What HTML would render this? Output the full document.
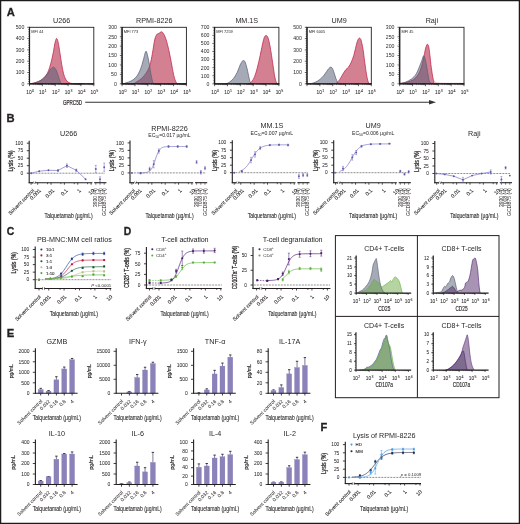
<!DOCTYPE html>
<html><head><meta charset="utf-8"><style>
html,body{margin:0;padding:0;background:#fff;width:520px;height:524px;overflow:hidden}
svg{display:block;will-change:transform}
text{font-family:"Liberation Sans",sans-serif}
</style></head><body>
<svg width="520" height="524" viewBox="0 0 520 524">
<rect x="0" y="0" width="520" height="524" fill="#fff"/>
<text transform="translate(6.7,16.4)" font-size="11.2" font-weight="bold" fill="#231f20" stroke="#231f20" stroke-width="0.3">A</text>
<path d="M29.54,83.77 C30.19,83.65 32.04,83.44 33.46,83.08 C34.88,82.71 36.63,82.19 38.08,81.58 C39.52,80.96 40.96,80.19 42.12,79.38 C43.27,78.58 44.1,77.81 45,76.73 C45.9,75.65 46.77,74.46 47.54,72.92 C48.31,71.38 48.92,69.65 49.62,67.5 C50.31,65.35 51.06,62.6 51.69,60 C52.33,57.4 52.9,54.62 53.42,51.92 C53.94,49.23 54.33,46.06 54.81,43.85 C55.29,41.63 55.83,39.23 56.31,38.65 C56.79,38.08 57.27,39.13 57.69,40.38 C58.12,41.63 58.42,43.75 58.85,46.15 C59.27,48.56 59.75,51.73 60.23,54.81 C60.71,57.88 61.19,61.54 61.73,64.62 C62.27,67.69 62.83,70.87 63.46,73.27 C64.1,75.67 64.77,77.56 65.54,79.04 C66.31,80.52 67.08,81.42 68.08,82.15 C69.08,82.88 70.38,83.15 71.54,83.42 C72.69,83.69 72.88,83.71 75,83.77 C77.12,83.83 82.69,83.77 84.23,83.77 L84.23,83.8 L29.54,83.8 Z" fill="rgba(179,38,67,0.58)" stroke="none" stroke-width="0.8"/>
<path d="M29.54,83.77 C30.19,83.65 32.04,83.44 33.46,83.08 C34.88,82.71 36.63,82.19 38.08,81.58 C39.52,80.96 40.96,80.19 42.12,79.38 C43.27,78.58 44.1,77.81 45,76.73 C45.9,75.65 46.77,74.46 47.54,72.92 C48.31,71.38 48.92,69.65 49.62,67.5 C50.31,65.35 51.06,62.6 51.69,60 C52.33,57.4 52.9,54.62 53.42,51.92 C53.94,49.23 54.33,46.06 54.81,43.85 C55.29,41.63 55.83,39.23 56.31,38.65 C56.79,38.08 57.27,39.13 57.69,40.38 C58.12,41.63 58.42,43.75 58.85,46.15 C59.27,48.56 59.75,51.73 60.23,54.81 C60.71,57.88 61.19,61.54 61.73,64.62 C62.27,67.69 62.83,70.87 63.46,73.27 C64.1,75.67 64.77,77.56 65.54,79.04 C66.31,80.52 67.08,81.42 68.08,82.15 C69.08,82.88 70.38,83.15 71.54,83.42 C72.69,83.69 72.88,83.71 75,83.77 C77.12,83.83 82.69,83.77 84.23,83.77" fill="none" stroke="#c0204a" stroke-width="0.75"/>
<path d="M29.54,83.77 C30.38,83.65 33,83.48 34.62,83.08 C36.23,82.67 37.69,82.21 39.23,81.35 C40.77,80.48 42.4,79.23 43.85,77.88 C45.29,76.54 46.83,74.62 47.88,73.27 C48.94,71.92 49.48,70.75 50.19,69.81 C50.9,68.87 51.62,68.06 52.15,67.62 C52.69,67.17 52.98,67.08 53.42,67.15 C53.87,67.23 54.29,67.44 54.81,68.08 C55.33,68.71 56.02,69.81 56.54,70.96 C57.06,72.12 57.44,73.56 57.92,75 C58.4,76.44 58.94,78.31 59.42,79.62 C59.9,80.92 60.33,82.15 60.81,82.85 C61.29,83.54 58.4,83.62 62.31,83.77 C66.21,83.92 80.58,83.77 84.23,83.77 L84.23,83.8 L29.54,83.8 Z" fill="rgba(85,95,117,0.53)" stroke="none" stroke-width="0.8"/>
<path d="M29.54,83.77 C30.38,83.65 33,83.48 34.62,83.08 C36.23,82.67 37.69,82.21 39.23,81.35 C40.77,80.48 42.4,79.23 43.85,77.88 C45.29,76.54 46.83,74.62 47.88,73.27 C48.94,71.92 49.48,70.75 50.19,69.81 C50.9,68.87 51.62,68.06 52.15,67.62 C52.69,67.17 52.98,67.08 53.42,67.15 C53.87,67.23 54.29,67.44 54.81,68.08 C55.33,68.71 56.02,69.81 56.54,70.96 C57.06,72.12 57.44,73.56 57.92,75 C58.4,76.44 58.94,78.31 59.42,79.62 C59.9,80.92 60.33,82.15 60.81,82.85 C61.29,83.54 58.4,83.62 62.31,83.77 C66.21,83.92 80.58,83.77 84.23,83.77" fill="none" stroke="#5b6178" stroke-width="0.75"/>
<rect x="29.5" y="27.3" width="64.3" height="56.5" fill="none" stroke="#231f20" stroke-width="0.9"/>
<line x1="29.5" y1="26.9" x2="29.5" y2="84.2" stroke="#231f20" stroke-width="1.2"/>
<line x1="29.1" y1="83.8" x2="94.2" y2="83.8" stroke="#231f20" stroke-width="1.2"/>
<line x1="27.3" y1="83.8" x2="29.5" y2="83.8" stroke="#231f20" stroke-width="0.7"/>
<text transform="translate(24.3,85.65)" font-size="5.2" text-anchor="end" fill="#2a2a2a">0</text>
<line x1="28.1" y1="81.54" x2="29.5" y2="81.54" stroke="#231f20" stroke-width="0.55"/>
<line x1="28.1" y1="79.28" x2="29.5" y2="79.28" stroke="#231f20" stroke-width="0.55"/>
<line x1="28.1" y1="77.02" x2="29.5" y2="77.02" stroke="#231f20" stroke-width="0.55"/>
<line x1="28.1" y1="74.76" x2="29.5" y2="74.76" stroke="#231f20" stroke-width="0.55"/>
<line x1="27.3" y1="72.5" x2="29.5" y2="72.5" stroke="#231f20" stroke-width="0.7"/>
<text transform="translate(24.3,74.35)" font-size="5.2" text-anchor="end" fill="#2a2a2a">100</text>
<line x1="28.1" y1="70.24" x2="29.5" y2="70.24" stroke="#231f20" stroke-width="0.55"/>
<line x1="28.1" y1="67.98" x2="29.5" y2="67.98" stroke="#231f20" stroke-width="0.55"/>
<line x1="28.1" y1="65.72" x2="29.5" y2="65.72" stroke="#231f20" stroke-width="0.55"/>
<line x1="28.1" y1="63.46" x2="29.5" y2="63.46" stroke="#231f20" stroke-width="0.55"/>
<line x1="27.3" y1="61.2" x2="29.5" y2="61.2" stroke="#231f20" stroke-width="0.7"/>
<text transform="translate(24.3,63.05)" font-size="5.2" text-anchor="end" fill="#2a2a2a">200</text>
<line x1="28.1" y1="58.94" x2="29.5" y2="58.94" stroke="#231f20" stroke-width="0.55"/>
<line x1="28.1" y1="56.68" x2="29.5" y2="56.68" stroke="#231f20" stroke-width="0.55"/>
<line x1="28.1" y1="54.42" x2="29.5" y2="54.42" stroke="#231f20" stroke-width="0.55"/>
<line x1="28.1" y1="52.16" x2="29.5" y2="52.16" stroke="#231f20" stroke-width="0.55"/>
<line x1="27.3" y1="49.9" x2="29.5" y2="49.9" stroke="#231f20" stroke-width="0.7"/>
<text transform="translate(24.3,51.75)" font-size="5.2" text-anchor="end" fill="#2a2a2a">300</text>
<line x1="28.1" y1="47.64" x2="29.5" y2="47.64" stroke="#231f20" stroke-width="0.55"/>
<line x1="28.1" y1="45.38" x2="29.5" y2="45.38" stroke="#231f20" stroke-width="0.55"/>
<line x1="28.1" y1="43.12" x2="29.5" y2="43.12" stroke="#231f20" stroke-width="0.55"/>
<line x1="28.1" y1="40.86" x2="29.5" y2="40.86" stroke="#231f20" stroke-width="0.55"/>
<line x1="27.3" y1="38.6" x2="29.5" y2="38.6" stroke="#231f20" stroke-width="0.7"/>
<text transform="translate(24.3,40.45)" font-size="5.2" text-anchor="end" fill="#2a2a2a">400</text>
<line x1="28.1" y1="36.34" x2="29.5" y2="36.34" stroke="#231f20" stroke-width="0.55"/>
<line x1="28.1" y1="34.08" x2="29.5" y2="34.08" stroke="#231f20" stroke-width="0.55"/>
<line x1="28.1" y1="31.82" x2="29.5" y2="31.82" stroke="#231f20" stroke-width="0.55"/>
<line x1="28.1" y1="29.56" x2="29.5" y2="29.56" stroke="#231f20" stroke-width="0.55"/>
<line x1="27.3" y1="27.3" x2="29.5" y2="27.3" stroke="#231f20" stroke-width="0.7"/>
<text transform="translate(24.3,29.15)" font-size="5.2" text-anchor="end" fill="#2a2a2a">500</text>
<line x1="29.5" y1="83.8" x2="29.5" y2="86.2" stroke="#231f20" stroke-width="0.7"/>
<line x1="33.37" y1="83.8" x2="33.37" y2="85.1" stroke="#231f20" stroke-width="0.5"/>
<line x1="35.64" y1="83.8" x2="35.64" y2="85.1" stroke="#231f20" stroke-width="0.5"/>
<line x1="37.24" y1="83.8" x2="37.24" y2="85.1" stroke="#231f20" stroke-width="0.5"/>
<line x1="38.49" y1="83.8" x2="38.49" y2="85.1" stroke="#231f20" stroke-width="0.5"/>
<line x1="39.51" y1="83.8" x2="39.51" y2="85.1" stroke="#231f20" stroke-width="0.5"/>
<line x1="40.37" y1="83.8" x2="40.37" y2="85.1" stroke="#231f20" stroke-width="0.5"/>
<line x1="41.11" y1="83.8" x2="41.11" y2="85.1" stroke="#231f20" stroke-width="0.5"/>
<line x1="41.77" y1="83.8" x2="41.77" y2="85.1" stroke="#231f20" stroke-width="0.5"/>
<text x="30.1" y="93.8" font-size="4.8" text-anchor="middle" fill="#231f20" stroke="#231f20" stroke-width="0.05">10<tspan font-size="3.55" dx="0.35" dy="-2.02">0</tspan></text>
<line x1="42.36" y1="83.8" x2="42.36" y2="86.2" stroke="#231f20" stroke-width="0.7"/>
<line x1="46.23" y1="83.8" x2="46.23" y2="85.1" stroke="#231f20" stroke-width="0.5"/>
<line x1="48.5" y1="83.8" x2="48.5" y2="85.1" stroke="#231f20" stroke-width="0.5"/>
<line x1="50.1" y1="83.8" x2="50.1" y2="85.1" stroke="#231f20" stroke-width="0.5"/>
<line x1="51.35" y1="83.8" x2="51.35" y2="85.1" stroke="#231f20" stroke-width="0.5"/>
<line x1="52.37" y1="83.8" x2="52.37" y2="85.1" stroke="#231f20" stroke-width="0.5"/>
<line x1="53.23" y1="83.8" x2="53.23" y2="85.1" stroke="#231f20" stroke-width="0.5"/>
<line x1="53.97" y1="83.8" x2="53.97" y2="85.1" stroke="#231f20" stroke-width="0.5"/>
<line x1="54.63" y1="83.8" x2="54.63" y2="85.1" stroke="#231f20" stroke-width="0.5"/>
<text x="42.96" y="93.8" font-size="4.8" text-anchor="middle" fill="#231f20" stroke="#231f20" stroke-width="0.05">10<tspan font-size="3.55" dx="0.35" dy="-2.02">1</tspan></text>
<line x1="55.22" y1="83.8" x2="55.22" y2="86.2" stroke="#231f20" stroke-width="0.7"/>
<line x1="59.09" y1="83.8" x2="59.09" y2="85.1" stroke="#231f20" stroke-width="0.5"/>
<line x1="61.36" y1="83.8" x2="61.36" y2="85.1" stroke="#231f20" stroke-width="0.5"/>
<line x1="62.96" y1="83.8" x2="62.96" y2="85.1" stroke="#231f20" stroke-width="0.5"/>
<line x1="64.21" y1="83.8" x2="64.21" y2="85.1" stroke="#231f20" stroke-width="0.5"/>
<line x1="65.23" y1="83.8" x2="65.23" y2="85.1" stroke="#231f20" stroke-width="0.5"/>
<line x1="66.09" y1="83.8" x2="66.09" y2="85.1" stroke="#231f20" stroke-width="0.5"/>
<line x1="66.83" y1="83.8" x2="66.83" y2="85.1" stroke="#231f20" stroke-width="0.5"/>
<line x1="67.49" y1="83.8" x2="67.49" y2="85.1" stroke="#231f20" stroke-width="0.5"/>
<text x="55.82" y="93.8" font-size="4.8" text-anchor="middle" fill="#231f20" stroke="#231f20" stroke-width="0.05">10<tspan font-size="3.55" dx="0.35" dy="-2.02">2</tspan></text>
<line x1="68.08" y1="83.8" x2="68.08" y2="86.2" stroke="#231f20" stroke-width="0.7"/>
<line x1="71.95" y1="83.8" x2="71.95" y2="85.1" stroke="#231f20" stroke-width="0.5"/>
<line x1="74.22" y1="83.8" x2="74.22" y2="85.1" stroke="#231f20" stroke-width="0.5"/>
<line x1="75.82" y1="83.8" x2="75.82" y2="85.1" stroke="#231f20" stroke-width="0.5"/>
<line x1="77.07" y1="83.8" x2="77.07" y2="85.1" stroke="#231f20" stroke-width="0.5"/>
<line x1="78.09" y1="83.8" x2="78.09" y2="85.1" stroke="#231f20" stroke-width="0.5"/>
<line x1="78.95" y1="83.8" x2="78.95" y2="85.1" stroke="#231f20" stroke-width="0.5"/>
<line x1="79.69" y1="83.8" x2="79.69" y2="85.1" stroke="#231f20" stroke-width="0.5"/>
<line x1="80.35" y1="83.8" x2="80.35" y2="85.1" stroke="#231f20" stroke-width="0.5"/>
<text x="68.68" y="93.8" font-size="4.8" text-anchor="middle" fill="#231f20" stroke="#231f20" stroke-width="0.05">10<tspan font-size="3.55" dx="0.35" dy="-2.02">3</tspan></text>
<line x1="80.94" y1="83.8" x2="80.94" y2="86.2" stroke="#231f20" stroke-width="0.7"/>
<line x1="84.81" y1="83.8" x2="84.81" y2="85.1" stroke="#231f20" stroke-width="0.5"/>
<line x1="87.08" y1="83.8" x2="87.08" y2="85.1" stroke="#231f20" stroke-width="0.5"/>
<line x1="88.68" y1="83.8" x2="88.68" y2="85.1" stroke="#231f20" stroke-width="0.5"/>
<line x1="89.93" y1="83.8" x2="89.93" y2="85.1" stroke="#231f20" stroke-width="0.5"/>
<line x1="90.95" y1="83.8" x2="90.95" y2="85.1" stroke="#231f20" stroke-width="0.5"/>
<line x1="91.81" y1="83.8" x2="91.81" y2="85.1" stroke="#231f20" stroke-width="0.5"/>
<line x1="92.55" y1="83.8" x2="92.55" y2="85.1" stroke="#231f20" stroke-width="0.5"/>
<line x1="93.21" y1="83.8" x2="93.21" y2="85.1" stroke="#231f20" stroke-width="0.5"/>
<text x="81.54" y="93.8" font-size="4.8" text-anchor="middle" fill="#231f20" stroke="#231f20" stroke-width="0.05">10<tspan font-size="3.55" dx="0.35" dy="-2.02">4</tspan></text>
<line x1="93.8" y1="83.8" x2="93.8" y2="86.2" stroke="#231f20" stroke-width="0.7"/>
<text x="94.4" y="93.8" font-size="4.8" text-anchor="middle" fill="#231f20" stroke="#231f20" stroke-width="0.05">10<tspan font-size="3.55" dx="0.35" dy="-2.02">5</tspan></text>
<text transform="translate(61.65,22.9)" font-size="7.2" text-anchor="middle" fill="#231f20">U266</text>
<text transform="translate(31.2,33.3)" font-size="3.9" fill="#231f20">MFI 44</text>
<path d="M122.5,84.08 C124.23,84.02 130.52,84.11 132.88,83.73 C135.25,83.36 135.25,82.69 136.69,81.83 C138.13,80.96 139.92,80.07 141.54,78.54 C143.15,77.01 145,74.85 146.38,72.65 C147.77,70.46 148.84,68.62 149.85,65.38 C150.86,62.15 151.63,57.54 152.44,53.27 C153.25,49 153.97,42.88 154.69,39.77 C155.41,36.65 156.02,35.67 156.77,34.58 C157.52,33.48 158.44,33.65 159.19,33.19 C159.94,32.73 160.66,31.89 161.27,31.81 C161.88,31.72 162.28,32.04 162.83,32.67 C163.38,33.31 163.89,34.06 164.56,35.62 C165.22,37.17 166.03,39.28 166.81,42.02 C167.59,44.76 168.48,48.65 169.23,52.06 C169.98,55.46 170.59,58.72 171.31,62.44 C172.03,66.16 172.84,71.24 173.56,74.38 C174.28,77.53 174.97,79.78 175.63,81.31 C176.3,82.84 176.59,83.1 177.54,83.56 C178.49,84.02 179.9,83.99 181.35,84.08 C182.79,84.16 185.38,84.08 186.19,84.08 L186.19,83.8 L122.5,83.8 Z" fill="rgba(179,38,67,0.58)" stroke="none" stroke-width="0.8"/>
<path d="M122.5,84.08 C124.23,84.02 130.52,84.11 132.88,83.73 C135.25,83.36 135.25,82.69 136.69,81.83 C138.13,80.96 139.92,80.07 141.54,78.54 C143.15,77.01 145,74.85 146.38,72.65 C147.77,70.46 148.84,68.62 149.85,65.38 C150.86,62.15 151.63,57.54 152.44,53.27 C153.25,49 153.97,42.88 154.69,39.77 C155.41,36.65 156.02,35.67 156.77,34.58 C157.52,33.48 158.44,33.65 159.19,33.19 C159.94,32.73 160.66,31.89 161.27,31.81 C161.88,31.72 162.28,32.04 162.83,32.67 C163.38,33.31 163.89,34.06 164.56,35.62 C165.22,37.17 166.03,39.28 166.81,42.02 C167.59,44.76 168.48,48.65 169.23,52.06 C169.98,55.46 170.59,58.72 171.31,62.44 C172.03,66.16 172.84,71.24 173.56,74.38 C174.28,77.53 174.97,79.78 175.63,81.31 C176.3,82.84 176.59,83.1 177.54,83.56 C178.49,84.02 179.9,83.99 181.35,84.08 C182.79,84.16 185.38,84.08 186.19,84.08" fill="none" stroke="#c0204a" stroke-width="0.75"/>
<path d="M122.5,84.08 C123.08,83.88 124.52,83.38 125.96,82.87 C127.4,82.35 129.42,81.97 131.15,80.96 C132.88,79.95 134.79,78.77 136.35,76.81 C137.9,74.85 139.35,71.96 140.5,69.19 C141.65,66.42 142.55,62.7 143.27,60.19 C143.99,57.68 144.37,55.63 144.83,54.13 C145.29,52.63 145.63,51.16 146.04,51.19 C146.44,51.22 146.76,52.46 147.25,54.31 C147.74,56.15 148.4,59.21 148.98,62.27 C149.56,65.33 150.19,69.77 150.71,72.65 C151.23,75.54 151.63,77.76 152.1,79.58 C152.56,81.39 152.79,82.81 153.48,83.56 C154.17,84.31 150.8,83.99 156.25,84.08 C161.7,84.16 181.2,84.08 186.19,84.08 L186.19,83.8 L122.5,83.8 Z" fill="rgba(85,95,117,0.53)" stroke="none" stroke-width="0.8"/>
<path d="M122.5,84.08 C123.08,83.88 124.52,83.38 125.96,82.87 C127.4,82.35 129.42,81.97 131.15,80.96 C132.88,79.95 134.79,78.77 136.35,76.81 C137.9,74.85 139.35,71.96 140.5,69.19 C141.65,66.42 142.55,62.7 143.27,60.19 C143.99,57.68 144.37,55.63 144.83,54.13 C145.29,52.63 145.63,51.16 146.04,51.19 C146.44,51.22 146.76,52.46 147.25,54.31 C147.74,56.15 148.4,59.21 148.98,62.27 C149.56,65.33 150.19,69.77 150.71,72.65 C151.23,75.54 151.63,77.76 152.1,79.58 C152.56,81.39 152.79,82.81 153.48,83.56 C154.17,84.31 150.8,83.99 156.25,84.08 C161.7,84.16 181.2,84.08 186.19,84.08" fill="none" stroke="#5b6178" stroke-width="0.75"/>
<rect x="122.1" y="27.3" width="64.3" height="56.5" fill="none" stroke="#231f20" stroke-width="0.9"/>
<line x1="122.1" y1="26.9" x2="122.1" y2="84.2" stroke="#231f20" stroke-width="1.2"/>
<line x1="121.7" y1="83.8" x2="186.8" y2="83.8" stroke="#231f20" stroke-width="1.2"/>
<line x1="119.9" y1="83.8" x2="122.1" y2="83.8" stroke="#231f20" stroke-width="0.7"/>
<text transform="translate(116.9,85.65)" font-size="5.2" text-anchor="end" fill="#2a2a2a">0</text>
<line x1="120.7" y1="81.92" x2="122.1" y2="81.92" stroke="#231f20" stroke-width="0.55"/>
<line x1="120.7" y1="80.03" x2="122.1" y2="80.03" stroke="#231f20" stroke-width="0.55"/>
<line x1="120.7" y1="78.15" x2="122.1" y2="78.15" stroke="#231f20" stroke-width="0.55"/>
<line x1="120.7" y1="76.27" x2="122.1" y2="76.27" stroke="#231f20" stroke-width="0.55"/>
<line x1="119.9" y1="74.38" x2="122.1" y2="74.38" stroke="#231f20" stroke-width="0.7"/>
<text transform="translate(116.9,76.23)" font-size="5.2" text-anchor="end" fill="#2a2a2a">50</text>
<line x1="120.7" y1="72.5" x2="122.1" y2="72.5" stroke="#231f20" stroke-width="0.55"/>
<line x1="120.7" y1="70.62" x2="122.1" y2="70.62" stroke="#231f20" stroke-width="0.55"/>
<line x1="120.7" y1="68.73" x2="122.1" y2="68.73" stroke="#231f20" stroke-width="0.55"/>
<line x1="120.7" y1="66.85" x2="122.1" y2="66.85" stroke="#231f20" stroke-width="0.55"/>
<line x1="119.9" y1="64.97" x2="122.1" y2="64.97" stroke="#231f20" stroke-width="0.7"/>
<text transform="translate(116.9,66.82)" font-size="5.2" text-anchor="end" fill="#2a2a2a">100</text>
<line x1="120.7" y1="63.08" x2="122.1" y2="63.08" stroke="#231f20" stroke-width="0.55"/>
<line x1="120.7" y1="61.2" x2="122.1" y2="61.2" stroke="#231f20" stroke-width="0.55"/>
<line x1="120.7" y1="59.32" x2="122.1" y2="59.32" stroke="#231f20" stroke-width="0.55"/>
<line x1="120.7" y1="57.43" x2="122.1" y2="57.43" stroke="#231f20" stroke-width="0.55"/>
<line x1="119.9" y1="55.55" x2="122.1" y2="55.55" stroke="#231f20" stroke-width="0.7"/>
<text transform="translate(116.9,57.4)" font-size="5.2" text-anchor="end" fill="#2a2a2a">150</text>
<line x1="120.7" y1="53.67" x2="122.1" y2="53.67" stroke="#231f20" stroke-width="0.55"/>
<line x1="120.7" y1="51.78" x2="122.1" y2="51.78" stroke="#231f20" stroke-width="0.55"/>
<line x1="120.7" y1="49.9" x2="122.1" y2="49.9" stroke="#231f20" stroke-width="0.55"/>
<line x1="120.7" y1="48.02" x2="122.1" y2="48.02" stroke="#231f20" stroke-width="0.55"/>
<line x1="119.9" y1="46.13" x2="122.1" y2="46.13" stroke="#231f20" stroke-width="0.7"/>
<text transform="translate(116.9,47.98)" font-size="5.2" text-anchor="end" fill="#2a2a2a">200</text>
<line x1="120.7" y1="44.25" x2="122.1" y2="44.25" stroke="#231f20" stroke-width="0.55"/>
<line x1="120.7" y1="42.37" x2="122.1" y2="42.37" stroke="#231f20" stroke-width="0.55"/>
<line x1="120.7" y1="40.48" x2="122.1" y2="40.48" stroke="#231f20" stroke-width="0.55"/>
<line x1="120.7" y1="38.6" x2="122.1" y2="38.6" stroke="#231f20" stroke-width="0.55"/>
<line x1="119.9" y1="36.72" x2="122.1" y2="36.72" stroke="#231f20" stroke-width="0.7"/>
<text transform="translate(116.9,38.57)" font-size="5.2" text-anchor="end" fill="#2a2a2a">250</text>
<line x1="120.7" y1="34.83" x2="122.1" y2="34.83" stroke="#231f20" stroke-width="0.55"/>
<line x1="120.7" y1="32.95" x2="122.1" y2="32.95" stroke="#231f20" stroke-width="0.55"/>
<line x1="120.7" y1="31.07" x2="122.1" y2="31.07" stroke="#231f20" stroke-width="0.55"/>
<line x1="120.7" y1="29.18" x2="122.1" y2="29.18" stroke="#231f20" stroke-width="0.55"/>
<line x1="119.9" y1="27.3" x2="122.1" y2="27.3" stroke="#231f20" stroke-width="0.7"/>
<text transform="translate(116.9,29.15)" font-size="5.2" text-anchor="end" fill="#2a2a2a">300</text>
<line x1="122.1" y1="83.8" x2="122.1" y2="86.2" stroke="#231f20" stroke-width="0.7"/>
<line x1="125.97" y1="83.8" x2="125.97" y2="85.1" stroke="#231f20" stroke-width="0.5"/>
<line x1="128.24" y1="83.8" x2="128.24" y2="85.1" stroke="#231f20" stroke-width="0.5"/>
<line x1="129.84" y1="83.8" x2="129.84" y2="85.1" stroke="#231f20" stroke-width="0.5"/>
<line x1="131.09" y1="83.8" x2="131.09" y2="85.1" stroke="#231f20" stroke-width="0.5"/>
<line x1="132.11" y1="83.8" x2="132.11" y2="85.1" stroke="#231f20" stroke-width="0.5"/>
<line x1="132.97" y1="83.8" x2="132.97" y2="85.1" stroke="#231f20" stroke-width="0.5"/>
<line x1="133.71" y1="83.8" x2="133.71" y2="85.1" stroke="#231f20" stroke-width="0.5"/>
<line x1="134.37" y1="83.8" x2="134.37" y2="85.1" stroke="#231f20" stroke-width="0.5"/>
<text x="122.7" y="93.8" font-size="4.8" text-anchor="middle" fill="#231f20" stroke="#231f20" stroke-width="0.05">10<tspan font-size="3.55" dx="0.35" dy="-2.02">0</tspan></text>
<line x1="134.96" y1="83.8" x2="134.96" y2="86.2" stroke="#231f20" stroke-width="0.7"/>
<line x1="138.83" y1="83.8" x2="138.83" y2="85.1" stroke="#231f20" stroke-width="0.5"/>
<line x1="141.1" y1="83.8" x2="141.1" y2="85.1" stroke="#231f20" stroke-width="0.5"/>
<line x1="142.7" y1="83.8" x2="142.7" y2="85.1" stroke="#231f20" stroke-width="0.5"/>
<line x1="143.95" y1="83.8" x2="143.95" y2="85.1" stroke="#231f20" stroke-width="0.5"/>
<line x1="144.97" y1="83.8" x2="144.97" y2="85.1" stroke="#231f20" stroke-width="0.5"/>
<line x1="145.83" y1="83.8" x2="145.83" y2="85.1" stroke="#231f20" stroke-width="0.5"/>
<line x1="146.57" y1="83.8" x2="146.57" y2="85.1" stroke="#231f20" stroke-width="0.5"/>
<line x1="147.23" y1="83.8" x2="147.23" y2="85.1" stroke="#231f20" stroke-width="0.5"/>
<text x="135.56" y="93.8" font-size="4.8" text-anchor="middle" fill="#231f20" stroke="#231f20" stroke-width="0.05">10<tspan font-size="3.55" dx="0.35" dy="-2.02">1</tspan></text>
<line x1="147.82" y1="83.8" x2="147.82" y2="86.2" stroke="#231f20" stroke-width="0.7"/>
<line x1="151.69" y1="83.8" x2="151.69" y2="85.1" stroke="#231f20" stroke-width="0.5"/>
<line x1="153.96" y1="83.8" x2="153.96" y2="85.1" stroke="#231f20" stroke-width="0.5"/>
<line x1="155.56" y1="83.8" x2="155.56" y2="85.1" stroke="#231f20" stroke-width="0.5"/>
<line x1="156.81" y1="83.8" x2="156.81" y2="85.1" stroke="#231f20" stroke-width="0.5"/>
<line x1="157.83" y1="83.8" x2="157.83" y2="85.1" stroke="#231f20" stroke-width="0.5"/>
<line x1="158.69" y1="83.8" x2="158.69" y2="85.1" stroke="#231f20" stroke-width="0.5"/>
<line x1="159.43" y1="83.8" x2="159.43" y2="85.1" stroke="#231f20" stroke-width="0.5"/>
<line x1="160.09" y1="83.8" x2="160.09" y2="85.1" stroke="#231f20" stroke-width="0.5"/>
<text x="148.42" y="93.8" font-size="4.8" text-anchor="middle" fill="#231f20" stroke="#231f20" stroke-width="0.05">10<tspan font-size="3.55" dx="0.35" dy="-2.02">2</tspan></text>
<line x1="160.68" y1="83.8" x2="160.68" y2="86.2" stroke="#231f20" stroke-width="0.7"/>
<line x1="164.55" y1="83.8" x2="164.55" y2="85.1" stroke="#231f20" stroke-width="0.5"/>
<line x1="166.82" y1="83.8" x2="166.82" y2="85.1" stroke="#231f20" stroke-width="0.5"/>
<line x1="168.42" y1="83.8" x2="168.42" y2="85.1" stroke="#231f20" stroke-width="0.5"/>
<line x1="169.67" y1="83.8" x2="169.67" y2="85.1" stroke="#231f20" stroke-width="0.5"/>
<line x1="170.69" y1="83.8" x2="170.69" y2="85.1" stroke="#231f20" stroke-width="0.5"/>
<line x1="171.55" y1="83.8" x2="171.55" y2="85.1" stroke="#231f20" stroke-width="0.5"/>
<line x1="172.29" y1="83.8" x2="172.29" y2="85.1" stroke="#231f20" stroke-width="0.5"/>
<line x1="172.95" y1="83.8" x2="172.95" y2="85.1" stroke="#231f20" stroke-width="0.5"/>
<text x="161.28" y="93.8" font-size="4.8" text-anchor="middle" fill="#231f20" stroke="#231f20" stroke-width="0.05">10<tspan font-size="3.55" dx="0.35" dy="-2.02">3</tspan></text>
<line x1="173.54" y1="83.8" x2="173.54" y2="86.2" stroke="#231f20" stroke-width="0.7"/>
<line x1="177.41" y1="83.8" x2="177.41" y2="85.1" stroke="#231f20" stroke-width="0.5"/>
<line x1="179.68" y1="83.8" x2="179.68" y2="85.1" stroke="#231f20" stroke-width="0.5"/>
<line x1="181.28" y1="83.8" x2="181.28" y2="85.1" stroke="#231f20" stroke-width="0.5"/>
<line x1="182.53" y1="83.8" x2="182.53" y2="85.1" stroke="#231f20" stroke-width="0.5"/>
<line x1="183.55" y1="83.8" x2="183.55" y2="85.1" stroke="#231f20" stroke-width="0.5"/>
<line x1="184.41" y1="83.8" x2="184.41" y2="85.1" stroke="#231f20" stroke-width="0.5"/>
<line x1="185.15" y1="83.8" x2="185.15" y2="85.1" stroke="#231f20" stroke-width="0.5"/>
<line x1="185.81" y1="83.8" x2="185.81" y2="85.1" stroke="#231f20" stroke-width="0.5"/>
<text x="174.14" y="93.8" font-size="4.8" text-anchor="middle" fill="#231f20" stroke="#231f20" stroke-width="0.05">10<tspan font-size="3.55" dx="0.35" dy="-2.02">4</tspan></text>
<line x1="186.4" y1="83.8" x2="186.4" y2="86.2" stroke="#231f20" stroke-width="0.7"/>
<text x="187" y="93.8" font-size="4.8" text-anchor="middle" fill="#231f20" stroke="#231f20" stroke-width="0.05">10<tspan font-size="3.55" dx="0.35" dy="-2.02">5</tspan></text>
<text transform="translate(154.25,22.9)" font-size="7.2" text-anchor="middle" fill="#231f20">RPMI-8226</text>
<text transform="translate(123.8,33.3)" font-size="3.9" fill="#231f20">MFI 773</text>
<path d="M247.12,84.08 C247.46,84.02 248.44,84.13 249.19,83.73 C249.94,83.33 250.72,82.84 251.62,81.65 C252.51,80.47 253.58,79.06 254.56,76.63 C255.54,74.21 256.58,70.58 257.5,67.12 C258.42,63.65 259.29,59.56 260.1,55.87 C260.9,52.17 261.68,47.93 262.35,44.96 C263.01,41.99 263.5,39.62 264.08,38.04 C264.65,36.45 265.23,35.64 265.81,35.44 C266.38,35.24 266.96,35.67 267.54,36.83 C268.12,37.98 268.69,39.83 269.27,42.37 C269.85,44.9 270.37,48.16 271,52.06 C271.63,55.95 272.44,61.58 273.08,65.73 C273.71,69.88 274.23,74.15 274.81,76.98 C275.38,79.81 275.96,81.51 276.54,82.69 C277.12,83.88 277.84,83.85 278.27,84.08 C278.7,84.31 278.99,84.08 279.13,84.08 L279.13,83.8 L247.12,83.8 Z" fill="rgba(179,38,67,0.58)" stroke="none" stroke-width="0.8"/>
<path d="M247.12,84.08 C247.46,84.02 248.44,84.13 249.19,83.73 C249.94,83.33 250.72,82.84 251.62,81.65 C252.51,80.47 253.58,79.06 254.56,76.63 C255.54,74.21 256.58,70.58 257.5,67.12 C258.42,63.65 259.29,59.56 260.1,55.87 C260.9,52.17 261.68,47.93 262.35,44.96 C263.01,41.99 263.5,39.62 264.08,38.04 C264.65,36.45 265.23,35.64 265.81,35.44 C266.38,35.24 266.96,35.67 267.54,36.83 C268.12,37.98 268.69,39.83 269.27,42.37 C269.85,44.9 270.37,48.16 271,52.06 C271.63,55.95 272.44,61.58 273.08,65.73 C273.71,69.88 274.23,74.15 274.81,76.98 C275.38,79.81 275.96,81.51 276.54,82.69 C277.12,83.88 277.84,83.85 278.27,84.08 C278.7,84.31 278.99,84.08 279.13,84.08" fill="none" stroke="#c0204a" stroke-width="0.75"/>
<path d="M214.58,84.08 C216.25,84.02 222.22,83.99 224.62,83.73 C227.01,83.47 227.5,83.36 228.94,82.52 C230.38,81.68 231.91,80.36 233.27,78.71 C234.62,77.07 235.92,74.96 237.08,72.65 C238.23,70.35 239.33,66.77 240.19,64.87 C241.06,62.96 241.69,61.95 242.27,61.23 C242.85,60.51 243.19,60.42 243.65,60.54 C244.12,60.65 244.52,60.77 245.04,61.92 C245.56,63.08 246.19,65.24 246.77,67.46 C247.35,69.68 247.98,72.94 248.5,75.25 C249.02,77.56 249.37,79.87 249.88,81.31 C250.4,82.75 250.92,83.44 251.62,83.9 C252.31,84.37 253.63,84.05 254.04,84.08 L254.04,83.8 L214.58,83.8 Z" fill="rgba(85,95,117,0.53)" stroke="none" stroke-width="0.8"/>
<path d="M214.58,84.08 C216.25,84.02 222.22,83.99 224.62,83.73 C227.01,83.47 227.5,83.36 228.94,82.52 C230.38,81.68 231.91,80.36 233.27,78.71 C234.62,77.07 235.92,74.96 237.08,72.65 C238.23,70.35 239.33,66.77 240.19,64.87 C241.06,62.96 241.69,61.95 242.27,61.23 C242.85,60.51 243.19,60.42 243.65,60.54 C244.12,60.65 244.52,60.77 245.04,61.92 C245.56,63.08 246.19,65.24 246.77,67.46 C247.35,69.68 247.98,72.94 248.5,75.25 C249.02,77.56 249.37,79.87 249.88,81.31 C250.4,82.75 250.92,83.44 251.62,83.9 C252.31,84.37 253.63,84.05 254.04,84.08" fill="none" stroke="#5b6178" stroke-width="0.75"/>
<rect x="214.6" y="27.3" width="64.3" height="56.5" fill="none" stroke="#231f20" stroke-width="0.9"/>
<line x1="214.6" y1="26.9" x2="214.6" y2="84.2" stroke="#231f20" stroke-width="1.2"/>
<line x1="214.2" y1="83.8" x2="279.3" y2="83.8" stroke="#231f20" stroke-width="1.2"/>
<line x1="212.4" y1="83.8" x2="214.6" y2="83.8" stroke="#231f20" stroke-width="0.7"/>
<text transform="translate(209.4,85.65)" font-size="5.2" text-anchor="end" fill="#2a2a2a">0</text>
<line x1="213.2" y1="82.19" x2="214.6" y2="82.19" stroke="#231f20" stroke-width="0.55"/>
<line x1="213.2" y1="80.57" x2="214.6" y2="80.57" stroke="#231f20" stroke-width="0.55"/>
<line x1="213.2" y1="78.96" x2="214.6" y2="78.96" stroke="#231f20" stroke-width="0.55"/>
<line x1="213.2" y1="77.34" x2="214.6" y2="77.34" stroke="#231f20" stroke-width="0.55"/>
<line x1="212.4" y1="75.73" x2="214.6" y2="75.73" stroke="#231f20" stroke-width="0.7"/>
<text transform="translate(209.4,77.58)" font-size="5.2" text-anchor="end" fill="#2a2a2a">100</text>
<line x1="213.2" y1="74.11" x2="214.6" y2="74.11" stroke="#231f20" stroke-width="0.55"/>
<line x1="213.2" y1="72.5" x2="214.6" y2="72.5" stroke="#231f20" stroke-width="0.55"/>
<line x1="213.2" y1="70.89" x2="214.6" y2="70.89" stroke="#231f20" stroke-width="0.55"/>
<line x1="213.2" y1="69.27" x2="214.6" y2="69.27" stroke="#231f20" stroke-width="0.55"/>
<line x1="212.4" y1="67.66" x2="214.6" y2="67.66" stroke="#231f20" stroke-width="0.7"/>
<text transform="translate(209.4,69.51)" font-size="5.2" text-anchor="end" fill="#2a2a2a">200</text>
<line x1="213.2" y1="66.04" x2="214.6" y2="66.04" stroke="#231f20" stroke-width="0.55"/>
<line x1="213.2" y1="64.43" x2="214.6" y2="64.43" stroke="#231f20" stroke-width="0.55"/>
<line x1="213.2" y1="62.81" x2="214.6" y2="62.81" stroke="#231f20" stroke-width="0.55"/>
<line x1="213.2" y1="61.2" x2="214.6" y2="61.2" stroke="#231f20" stroke-width="0.55"/>
<line x1="212.4" y1="59.59" x2="214.6" y2="59.59" stroke="#231f20" stroke-width="0.7"/>
<text transform="translate(209.4,61.44)" font-size="5.2" text-anchor="end" fill="#2a2a2a">300</text>
<line x1="213.2" y1="57.97" x2="214.6" y2="57.97" stroke="#231f20" stroke-width="0.55"/>
<line x1="213.2" y1="56.36" x2="214.6" y2="56.36" stroke="#231f20" stroke-width="0.55"/>
<line x1="213.2" y1="54.74" x2="214.6" y2="54.74" stroke="#231f20" stroke-width="0.55"/>
<line x1="213.2" y1="53.13" x2="214.6" y2="53.13" stroke="#231f20" stroke-width="0.55"/>
<line x1="212.4" y1="51.51" x2="214.6" y2="51.51" stroke="#231f20" stroke-width="0.7"/>
<text transform="translate(209.4,53.36)" font-size="5.2" text-anchor="end" fill="#2a2a2a">400</text>
<line x1="213.2" y1="49.9" x2="214.6" y2="49.9" stroke="#231f20" stroke-width="0.55"/>
<line x1="213.2" y1="48.29" x2="214.6" y2="48.29" stroke="#231f20" stroke-width="0.55"/>
<line x1="213.2" y1="46.67" x2="214.6" y2="46.67" stroke="#231f20" stroke-width="0.55"/>
<line x1="213.2" y1="45.06" x2="214.6" y2="45.06" stroke="#231f20" stroke-width="0.55"/>
<line x1="212.4" y1="43.44" x2="214.6" y2="43.44" stroke="#231f20" stroke-width="0.7"/>
<text transform="translate(209.4,45.29)" font-size="5.2" text-anchor="end" fill="#2a2a2a">500</text>
<line x1="213.2" y1="41.83" x2="214.6" y2="41.83" stroke="#231f20" stroke-width="0.55"/>
<line x1="213.2" y1="40.21" x2="214.6" y2="40.21" stroke="#231f20" stroke-width="0.55"/>
<line x1="213.2" y1="38.6" x2="214.6" y2="38.6" stroke="#231f20" stroke-width="0.55"/>
<line x1="213.2" y1="36.99" x2="214.6" y2="36.99" stroke="#231f20" stroke-width="0.55"/>
<line x1="212.4" y1="35.37" x2="214.6" y2="35.37" stroke="#231f20" stroke-width="0.7"/>
<text transform="translate(209.4,37.22)" font-size="5.2" text-anchor="end" fill="#2a2a2a">600</text>
<line x1="213.2" y1="33.76" x2="214.6" y2="33.76" stroke="#231f20" stroke-width="0.55"/>
<line x1="213.2" y1="32.14" x2="214.6" y2="32.14" stroke="#231f20" stroke-width="0.55"/>
<line x1="213.2" y1="30.53" x2="214.6" y2="30.53" stroke="#231f20" stroke-width="0.55"/>
<line x1="213.2" y1="28.91" x2="214.6" y2="28.91" stroke="#231f20" stroke-width="0.55"/>
<line x1="212.4" y1="27.3" x2="214.6" y2="27.3" stroke="#231f20" stroke-width="0.7"/>
<text transform="translate(209.4,29.15)" font-size="5.2" text-anchor="end" fill="#2a2a2a">700</text>
<line x1="214.6" y1="83.8" x2="214.6" y2="86.2" stroke="#231f20" stroke-width="0.7"/>
<line x1="218.47" y1="83.8" x2="218.47" y2="85.1" stroke="#231f20" stroke-width="0.5"/>
<line x1="220.74" y1="83.8" x2="220.74" y2="85.1" stroke="#231f20" stroke-width="0.5"/>
<line x1="222.34" y1="83.8" x2="222.34" y2="85.1" stroke="#231f20" stroke-width="0.5"/>
<line x1="223.59" y1="83.8" x2="223.59" y2="85.1" stroke="#231f20" stroke-width="0.5"/>
<line x1="224.61" y1="83.8" x2="224.61" y2="85.1" stroke="#231f20" stroke-width="0.5"/>
<line x1="225.47" y1="83.8" x2="225.47" y2="85.1" stroke="#231f20" stroke-width="0.5"/>
<line x1="226.21" y1="83.8" x2="226.21" y2="85.1" stroke="#231f20" stroke-width="0.5"/>
<line x1="226.87" y1="83.8" x2="226.87" y2="85.1" stroke="#231f20" stroke-width="0.5"/>
<text x="215.2" y="93.8" font-size="4.8" text-anchor="middle" fill="#231f20" stroke="#231f20" stroke-width="0.05">10<tspan font-size="3.55" dx="0.35" dy="-2.02">0</tspan></text>
<line x1="227.46" y1="83.8" x2="227.46" y2="86.2" stroke="#231f20" stroke-width="0.7"/>
<line x1="231.33" y1="83.8" x2="231.33" y2="85.1" stroke="#231f20" stroke-width="0.5"/>
<line x1="233.6" y1="83.8" x2="233.6" y2="85.1" stroke="#231f20" stroke-width="0.5"/>
<line x1="235.2" y1="83.8" x2="235.2" y2="85.1" stroke="#231f20" stroke-width="0.5"/>
<line x1="236.45" y1="83.8" x2="236.45" y2="85.1" stroke="#231f20" stroke-width="0.5"/>
<line x1="237.47" y1="83.8" x2="237.47" y2="85.1" stroke="#231f20" stroke-width="0.5"/>
<line x1="238.33" y1="83.8" x2="238.33" y2="85.1" stroke="#231f20" stroke-width="0.5"/>
<line x1="239.07" y1="83.8" x2="239.07" y2="85.1" stroke="#231f20" stroke-width="0.5"/>
<line x1="239.73" y1="83.8" x2="239.73" y2="85.1" stroke="#231f20" stroke-width="0.5"/>
<text x="228.06" y="93.8" font-size="4.8" text-anchor="middle" fill="#231f20" stroke="#231f20" stroke-width="0.05">10<tspan font-size="3.55" dx="0.35" dy="-2.02">1</tspan></text>
<line x1="240.32" y1="83.8" x2="240.32" y2="86.2" stroke="#231f20" stroke-width="0.7"/>
<line x1="244.19" y1="83.8" x2="244.19" y2="85.1" stroke="#231f20" stroke-width="0.5"/>
<line x1="246.46" y1="83.8" x2="246.46" y2="85.1" stroke="#231f20" stroke-width="0.5"/>
<line x1="248.06" y1="83.8" x2="248.06" y2="85.1" stroke="#231f20" stroke-width="0.5"/>
<line x1="249.31" y1="83.8" x2="249.31" y2="85.1" stroke="#231f20" stroke-width="0.5"/>
<line x1="250.33" y1="83.8" x2="250.33" y2="85.1" stroke="#231f20" stroke-width="0.5"/>
<line x1="251.19" y1="83.8" x2="251.19" y2="85.1" stroke="#231f20" stroke-width="0.5"/>
<line x1="251.93" y1="83.8" x2="251.93" y2="85.1" stroke="#231f20" stroke-width="0.5"/>
<line x1="252.59" y1="83.8" x2="252.59" y2="85.1" stroke="#231f20" stroke-width="0.5"/>
<text x="240.92" y="93.8" font-size="4.8" text-anchor="middle" fill="#231f20" stroke="#231f20" stroke-width="0.05">10<tspan font-size="3.55" dx="0.35" dy="-2.02">2</tspan></text>
<line x1="253.18" y1="83.8" x2="253.18" y2="86.2" stroke="#231f20" stroke-width="0.7"/>
<line x1="257.05" y1="83.8" x2="257.05" y2="85.1" stroke="#231f20" stroke-width="0.5"/>
<line x1="259.32" y1="83.8" x2="259.32" y2="85.1" stroke="#231f20" stroke-width="0.5"/>
<line x1="260.92" y1="83.8" x2="260.92" y2="85.1" stroke="#231f20" stroke-width="0.5"/>
<line x1="262.17" y1="83.8" x2="262.17" y2="85.1" stroke="#231f20" stroke-width="0.5"/>
<line x1="263.19" y1="83.8" x2="263.19" y2="85.1" stroke="#231f20" stroke-width="0.5"/>
<line x1="264.05" y1="83.8" x2="264.05" y2="85.1" stroke="#231f20" stroke-width="0.5"/>
<line x1="264.79" y1="83.8" x2="264.79" y2="85.1" stroke="#231f20" stroke-width="0.5"/>
<line x1="265.45" y1="83.8" x2="265.45" y2="85.1" stroke="#231f20" stroke-width="0.5"/>
<text x="253.78" y="93.8" font-size="4.8" text-anchor="middle" fill="#231f20" stroke="#231f20" stroke-width="0.05">10<tspan font-size="3.55" dx="0.35" dy="-2.02">3</tspan></text>
<line x1="266.04" y1="83.8" x2="266.04" y2="86.2" stroke="#231f20" stroke-width="0.7"/>
<line x1="269.91" y1="83.8" x2="269.91" y2="85.1" stroke="#231f20" stroke-width="0.5"/>
<line x1="272.18" y1="83.8" x2="272.18" y2="85.1" stroke="#231f20" stroke-width="0.5"/>
<line x1="273.78" y1="83.8" x2="273.78" y2="85.1" stroke="#231f20" stroke-width="0.5"/>
<line x1="275.03" y1="83.8" x2="275.03" y2="85.1" stroke="#231f20" stroke-width="0.5"/>
<line x1="276.05" y1="83.8" x2="276.05" y2="85.1" stroke="#231f20" stroke-width="0.5"/>
<line x1="276.91" y1="83.8" x2="276.91" y2="85.1" stroke="#231f20" stroke-width="0.5"/>
<line x1="277.65" y1="83.8" x2="277.65" y2="85.1" stroke="#231f20" stroke-width="0.5"/>
<line x1="278.31" y1="83.8" x2="278.31" y2="85.1" stroke="#231f20" stroke-width="0.5"/>
<text x="266.64" y="93.8" font-size="4.8" text-anchor="middle" fill="#231f20" stroke="#231f20" stroke-width="0.05">10<tspan font-size="3.55" dx="0.35" dy="-2.02">4</tspan></text>
<line x1="278.9" y1="83.8" x2="278.9" y2="86.2" stroke="#231f20" stroke-width="0.7"/>
<text x="279.5" y="93.8" font-size="4.8" text-anchor="middle" fill="#231f20" stroke="#231f20" stroke-width="0.05">10<tspan font-size="3.55" dx="0.35" dy="-2.02">5</tspan></text>
<text transform="translate(246.75,22.9)" font-size="7.2" text-anchor="middle" fill="#231f20">MM.1S</text>
<text transform="translate(216.3,33.3)" font-size="3.9" fill="#231f20">MFI 7259</text>
<path d="M333.85,84.08 C334.19,83.96 335.17,83.82 335.92,83.38 C336.67,82.95 337.51,82.46 338.35,81.48 C339.18,80.5 340.08,78.91 340.94,77.5 C341.81,76.09 342.7,74.33 343.54,73 C344.38,71.67 345.12,70.52 345.96,69.54 C346.8,68.56 347.69,68.3 348.56,67.12 C349.42,65.93 350.29,64.38 351.15,62.44 C352.02,60.51 352.94,58.2 353.75,55.52 C354.56,52.84 355.34,48.88 356,46.35 C356.66,43.81 357.15,41.67 357.73,40.29 C358.31,38.9 358.94,38.18 359.46,38.04 C359.98,37.89 360.55,38.96 360.85,39.42 C361.14,39.88 360.89,39.22 361.25,40.81 C361.61,42.39 362.4,45.42 362.98,48.94 C363.56,52.46 364.13,57.74 364.71,61.92 C365.29,66.11 365.87,70.72 366.44,74.04 C367.02,77.36 367.6,80.15 368.17,81.83 C368.75,83.5 369.38,83.7 369.9,84.08 C370.42,84.45 371.06,84.08 371.29,84.08 L371.29,83.8 L333.85,83.8 Z" fill="rgba(179,38,67,0.58)" stroke="none" stroke-width="0.8"/>
<path d="M333.85,84.08 C334.19,83.96 335.17,83.82 335.92,83.38 C336.67,82.95 337.51,82.46 338.35,81.48 C339.18,80.5 340.08,78.91 340.94,77.5 C341.81,76.09 342.7,74.33 343.54,73 C344.38,71.67 345.12,70.52 345.96,69.54 C346.8,68.56 347.69,68.3 348.56,67.12 C349.42,65.93 350.29,64.38 351.15,62.44 C352.02,60.51 352.94,58.2 353.75,55.52 C354.56,52.84 355.34,48.88 356,46.35 C356.66,43.81 357.15,41.67 357.73,40.29 C358.31,38.9 358.94,38.18 359.46,38.04 C359.98,37.89 360.55,38.96 360.85,39.42 C361.14,39.88 360.89,39.22 361.25,40.81 C361.61,42.39 362.4,45.42 362.98,48.94 C363.56,52.46 364.13,57.74 364.71,61.92 C365.29,66.11 365.87,70.72 366.44,74.04 C367.02,77.36 367.6,80.15 368.17,81.83 C368.75,83.5 369.38,83.7 369.9,84.08 C370.42,84.45 371.06,84.08 371.29,84.08" fill="none" stroke="#c0204a" stroke-width="0.75"/>
<path d="M307.54,84.08 C308.17,83.99 309.99,83.9 311.35,83.56 C312.7,83.21 314.23,82.69 315.67,82 C317.12,81.31 318.7,80.41 320,79.4 C321.3,78.39 322.37,77.24 323.46,75.94 C324.56,74.64 325.71,72.83 326.58,71.62 C327.44,70.4 327.96,69.42 328.65,68.67 C329.35,67.92 330.1,67.14 330.73,67.12 C331.37,67.09 331.88,67.49 332.46,68.5 C333.04,69.51 333.62,71.5 334.19,73.17 C334.77,74.85 335.35,77.01 335.92,78.54 C336.5,80.07 337.08,81.45 337.65,82.35 C338.23,83.24 338.72,83.62 339.38,83.9 C340.05,84.19 341.26,84.05 341.63,84.08 L341.63,83.8 L307.54,83.8 Z" fill="rgba(85,95,117,0.53)" stroke="none" stroke-width="0.8"/>
<path d="M307.54,84.08 C308.17,83.99 309.99,83.9 311.35,83.56 C312.7,83.21 314.23,82.69 315.67,82 C317.12,81.31 318.7,80.41 320,79.4 C321.3,78.39 322.37,77.24 323.46,75.94 C324.56,74.64 325.71,72.83 326.58,71.62 C327.44,70.4 327.96,69.42 328.65,68.67 C329.35,67.92 330.1,67.14 330.73,67.12 C331.37,67.09 331.88,67.49 332.46,68.5 C333.04,69.51 333.62,71.5 334.19,73.17 C334.77,74.85 335.35,77.01 335.92,78.54 C336.5,80.07 337.08,81.45 337.65,82.35 C338.23,83.24 338.72,83.62 339.38,83.9 C340.05,84.19 341.26,84.05 341.63,84.08" fill="none" stroke="#5b6178" stroke-width="0.75"/>
<rect x="307" y="27.3" width="64.3" height="56.5" fill="none" stroke="#231f20" stroke-width="0.9"/>
<line x1="307" y1="26.9" x2="307" y2="84.2" stroke="#231f20" stroke-width="1.2"/>
<line x1="306.6" y1="83.8" x2="371.7" y2="83.8" stroke="#231f20" stroke-width="1.2"/>
<line x1="304.8" y1="83.8" x2="307" y2="83.8" stroke="#231f20" stroke-width="0.7"/>
<text transform="translate(301.8,85.65)" font-size="5.2" text-anchor="end" fill="#2a2a2a">0</text>
<line x1="305.6" y1="81.54" x2="307" y2="81.54" stroke="#231f20" stroke-width="0.55"/>
<line x1="305.6" y1="79.28" x2="307" y2="79.28" stroke="#231f20" stroke-width="0.55"/>
<line x1="305.6" y1="77.02" x2="307" y2="77.02" stroke="#231f20" stroke-width="0.55"/>
<line x1="305.6" y1="74.76" x2="307" y2="74.76" stroke="#231f20" stroke-width="0.55"/>
<line x1="304.8" y1="72.5" x2="307" y2="72.5" stroke="#231f20" stroke-width="0.7"/>
<text transform="translate(301.8,74.35)" font-size="5.2" text-anchor="end" fill="#2a2a2a">100</text>
<line x1="305.6" y1="70.24" x2="307" y2="70.24" stroke="#231f20" stroke-width="0.55"/>
<line x1="305.6" y1="67.98" x2="307" y2="67.98" stroke="#231f20" stroke-width="0.55"/>
<line x1="305.6" y1="65.72" x2="307" y2="65.72" stroke="#231f20" stroke-width="0.55"/>
<line x1="305.6" y1="63.46" x2="307" y2="63.46" stroke="#231f20" stroke-width="0.55"/>
<line x1="304.8" y1="61.2" x2="307" y2="61.2" stroke="#231f20" stroke-width="0.7"/>
<text transform="translate(301.8,63.05)" font-size="5.2" text-anchor="end" fill="#2a2a2a">200</text>
<line x1="305.6" y1="58.94" x2="307" y2="58.94" stroke="#231f20" stroke-width="0.55"/>
<line x1="305.6" y1="56.68" x2="307" y2="56.68" stroke="#231f20" stroke-width="0.55"/>
<line x1="305.6" y1="54.42" x2="307" y2="54.42" stroke="#231f20" stroke-width="0.55"/>
<line x1="305.6" y1="52.16" x2="307" y2="52.16" stroke="#231f20" stroke-width="0.55"/>
<line x1="304.8" y1="49.9" x2="307" y2="49.9" stroke="#231f20" stroke-width="0.7"/>
<text transform="translate(301.8,51.75)" font-size="5.2" text-anchor="end" fill="#2a2a2a">300</text>
<line x1="305.6" y1="47.64" x2="307" y2="47.64" stroke="#231f20" stroke-width="0.55"/>
<line x1="305.6" y1="45.38" x2="307" y2="45.38" stroke="#231f20" stroke-width="0.55"/>
<line x1="305.6" y1="43.12" x2="307" y2="43.12" stroke="#231f20" stroke-width="0.55"/>
<line x1="305.6" y1="40.86" x2="307" y2="40.86" stroke="#231f20" stroke-width="0.55"/>
<line x1="304.8" y1="38.6" x2="307" y2="38.6" stroke="#231f20" stroke-width="0.7"/>
<text transform="translate(301.8,40.45)" font-size="5.2" text-anchor="end" fill="#2a2a2a">400</text>
<line x1="305.6" y1="36.34" x2="307" y2="36.34" stroke="#231f20" stroke-width="0.55"/>
<line x1="305.6" y1="34.08" x2="307" y2="34.08" stroke="#231f20" stroke-width="0.55"/>
<line x1="305.6" y1="31.82" x2="307" y2="31.82" stroke="#231f20" stroke-width="0.55"/>
<line x1="305.6" y1="29.56" x2="307" y2="29.56" stroke="#231f20" stroke-width="0.55"/>
<line x1="304.8" y1="27.3" x2="307" y2="27.3" stroke="#231f20" stroke-width="0.7"/>
<text transform="translate(301.8,29.15)" font-size="5.2" text-anchor="end" fill="#2a2a2a">500</text>
<line x1="307" y1="83.8" x2="307" y2="86.2" stroke="#231f20" stroke-width="0.7"/>
<line x1="310.87" y1="83.8" x2="310.87" y2="85.1" stroke="#231f20" stroke-width="0.5"/>
<line x1="313.14" y1="83.8" x2="313.14" y2="85.1" stroke="#231f20" stroke-width="0.5"/>
<line x1="314.74" y1="83.8" x2="314.74" y2="85.1" stroke="#231f20" stroke-width="0.5"/>
<line x1="315.99" y1="83.8" x2="315.99" y2="85.1" stroke="#231f20" stroke-width="0.5"/>
<line x1="317.01" y1="83.8" x2="317.01" y2="85.1" stroke="#231f20" stroke-width="0.5"/>
<line x1="317.87" y1="83.8" x2="317.87" y2="85.1" stroke="#231f20" stroke-width="0.5"/>
<line x1="318.61" y1="83.8" x2="318.61" y2="85.1" stroke="#231f20" stroke-width="0.5"/>
<line x1="319.27" y1="83.8" x2="319.27" y2="85.1" stroke="#231f20" stroke-width="0.5"/>
<line x1="319.86" y1="83.8" x2="319.86" y2="86.2" stroke="#231f20" stroke-width="0.7"/>
<line x1="323.73" y1="83.8" x2="323.73" y2="85.1" stroke="#231f20" stroke-width="0.5"/>
<line x1="326" y1="83.8" x2="326" y2="85.1" stroke="#231f20" stroke-width="0.5"/>
<line x1="327.6" y1="83.8" x2="327.6" y2="85.1" stroke="#231f20" stroke-width="0.5"/>
<line x1="328.85" y1="83.8" x2="328.85" y2="85.1" stroke="#231f20" stroke-width="0.5"/>
<line x1="329.87" y1="83.8" x2="329.87" y2="85.1" stroke="#231f20" stroke-width="0.5"/>
<line x1="330.73" y1="83.8" x2="330.73" y2="85.1" stroke="#231f20" stroke-width="0.5"/>
<line x1="331.47" y1="83.8" x2="331.47" y2="85.1" stroke="#231f20" stroke-width="0.5"/>
<line x1="332.13" y1="83.8" x2="332.13" y2="85.1" stroke="#231f20" stroke-width="0.5"/>
<text x="320.46" y="93.8" font-size="4.8" text-anchor="middle" fill="#231f20" stroke="#231f20" stroke-width="0.05">10<tspan font-size="3.55" dx="0.35" dy="-2.02">1</tspan></text>
<line x1="332.72" y1="83.8" x2="332.72" y2="86.2" stroke="#231f20" stroke-width="0.7"/>
<line x1="336.59" y1="83.8" x2="336.59" y2="85.1" stroke="#231f20" stroke-width="0.5"/>
<line x1="338.86" y1="83.8" x2="338.86" y2="85.1" stroke="#231f20" stroke-width="0.5"/>
<line x1="340.46" y1="83.8" x2="340.46" y2="85.1" stroke="#231f20" stroke-width="0.5"/>
<line x1="341.71" y1="83.8" x2="341.71" y2="85.1" stroke="#231f20" stroke-width="0.5"/>
<line x1="342.73" y1="83.8" x2="342.73" y2="85.1" stroke="#231f20" stroke-width="0.5"/>
<line x1="343.59" y1="83.8" x2="343.59" y2="85.1" stroke="#231f20" stroke-width="0.5"/>
<line x1="344.33" y1="83.8" x2="344.33" y2="85.1" stroke="#231f20" stroke-width="0.5"/>
<line x1="344.99" y1="83.8" x2="344.99" y2="85.1" stroke="#231f20" stroke-width="0.5"/>
<text x="333.32" y="93.8" font-size="4.8" text-anchor="middle" fill="#231f20" stroke="#231f20" stroke-width="0.05">10<tspan font-size="3.55" dx="0.35" dy="-2.02">2</tspan></text>
<line x1="345.58" y1="83.8" x2="345.58" y2="86.2" stroke="#231f20" stroke-width="0.7"/>
<line x1="349.45" y1="83.8" x2="349.45" y2="85.1" stroke="#231f20" stroke-width="0.5"/>
<line x1="351.72" y1="83.8" x2="351.72" y2="85.1" stroke="#231f20" stroke-width="0.5"/>
<line x1="353.32" y1="83.8" x2="353.32" y2="85.1" stroke="#231f20" stroke-width="0.5"/>
<line x1="354.57" y1="83.8" x2="354.57" y2="85.1" stroke="#231f20" stroke-width="0.5"/>
<line x1="355.59" y1="83.8" x2="355.59" y2="85.1" stroke="#231f20" stroke-width="0.5"/>
<line x1="356.45" y1="83.8" x2="356.45" y2="85.1" stroke="#231f20" stroke-width="0.5"/>
<line x1="357.19" y1="83.8" x2="357.19" y2="85.1" stroke="#231f20" stroke-width="0.5"/>
<line x1="357.85" y1="83.8" x2="357.85" y2="85.1" stroke="#231f20" stroke-width="0.5"/>
<text x="346.18" y="93.8" font-size="4.8" text-anchor="middle" fill="#231f20" stroke="#231f20" stroke-width="0.05">10<tspan font-size="3.55" dx="0.35" dy="-2.02">3</tspan></text>
<line x1="358.44" y1="83.8" x2="358.44" y2="86.2" stroke="#231f20" stroke-width="0.7"/>
<line x1="362.31" y1="83.8" x2="362.31" y2="85.1" stroke="#231f20" stroke-width="0.5"/>
<line x1="364.58" y1="83.8" x2="364.58" y2="85.1" stroke="#231f20" stroke-width="0.5"/>
<line x1="366.18" y1="83.8" x2="366.18" y2="85.1" stroke="#231f20" stroke-width="0.5"/>
<line x1="367.43" y1="83.8" x2="367.43" y2="85.1" stroke="#231f20" stroke-width="0.5"/>
<line x1="368.45" y1="83.8" x2="368.45" y2="85.1" stroke="#231f20" stroke-width="0.5"/>
<line x1="369.31" y1="83.8" x2="369.31" y2="85.1" stroke="#231f20" stroke-width="0.5"/>
<line x1="370.05" y1="83.8" x2="370.05" y2="85.1" stroke="#231f20" stroke-width="0.5"/>
<line x1="370.71" y1="83.8" x2="370.71" y2="85.1" stroke="#231f20" stroke-width="0.5"/>
<text x="359.04" y="93.8" font-size="4.8" text-anchor="middle" fill="#231f20" stroke="#231f20" stroke-width="0.05">10<tspan font-size="3.55" dx="0.35" dy="-2.02">4</tspan></text>
<line x1="371.3" y1="83.8" x2="371.3" y2="86.2" stroke="#231f20" stroke-width="0.7"/>
<text x="371.9" y="93.8" font-size="4.8" text-anchor="middle" fill="#231f20" stroke="#231f20" stroke-width="0.05">10<tspan font-size="3.55" dx="0.35" dy="-2.02">5</tspan></text>
<text transform="translate(339.15,22.9)" font-size="7.2" text-anchor="middle" fill="#231f20">UM9</text>
<text transform="translate(308.7,33.3)" font-size="3.9" fill="#231f20">MFI 6005</text>
<path d="M400,83.41 C400.48,83.35 401.59,83.25 402.86,83.03 C404.13,82.81 405.88,82.62 407.63,82.08 C409.38,81.54 411.6,81 413.35,79.79 C415.1,78.58 416.78,76.93 418.11,74.83 C419.45,72.73 420.43,70 421.36,67.2 C422.28,64.41 422.98,61.04 423.64,58.05 C424.31,55.06 424.85,51.44 425.36,49.28 C425.87,47.12 426.28,45.88 426.69,45.08 C427.11,44.29 427.46,44 427.84,44.51 C428.22,45.02 428.63,46.26 428.98,48.14 C429.33,50.01 429.62,53.03 429.94,55.76 C430.25,58.5 430.44,61.13 430.89,64.53 C431.33,67.93 432.1,73.37 432.61,76.17 C433.11,78.96 433.34,80.14 433.94,81.31 C434.54,82.49 431.24,82.87 436.23,83.22 C441.22,83.57 459.27,83.38 463.88,83.41 L463.88,83.8 L400,83.8 Z" fill="rgba(179,38,67,0.58)" stroke="none" stroke-width="0.8"/>
<path d="M400,83.41 C400.48,83.35 401.59,83.25 402.86,83.03 C404.13,82.81 405.88,82.62 407.63,82.08 C409.38,81.54 411.6,81 413.35,79.79 C415.1,78.58 416.78,76.93 418.11,74.83 C419.45,72.73 420.43,70 421.36,67.2 C422.28,64.41 422.98,61.04 423.64,58.05 C424.31,55.06 424.85,51.44 425.36,49.28 C425.87,47.12 426.28,45.88 426.69,45.08 C427.11,44.29 427.46,44 427.84,44.51 C428.22,45.02 428.63,46.26 428.98,48.14 C429.33,50.01 429.62,53.03 429.94,55.76 C430.25,58.5 430.44,61.13 430.89,64.53 C431.33,67.93 432.1,73.37 432.61,76.17 C433.11,78.96 433.34,80.14 433.94,81.31 C434.54,82.49 431.24,82.87 436.23,83.22 C441.22,83.57 459.27,83.38 463.88,83.41" fill="none" stroke="#c0204a" stroke-width="0.75"/>
<path d="M400,83.41 C400.32,83.38 400.95,83.44 401.91,83.22 C402.86,83 404.13,82.78 405.72,82.08 C407.31,81.38 409.69,80.39 411.44,79.03 C413.19,77.66 414.81,76.1 416.21,73.88 C417.61,71.65 418.81,68.12 419.83,65.68 C420.85,63.23 421.67,60.85 422.31,59.19 C422.94,57.54 423.2,55.89 423.64,55.76 C424.09,55.64 424.5,56.84 424.98,58.43 C425.46,60.02 426,62.56 426.5,65.3 C427.01,68.03 427.55,72.16 428.03,74.83 C428.51,77.5 428.89,79.92 429.36,81.31 C429.84,82.71 430.22,82.87 430.89,83.22 C431.56,83.57 432.96,83.38 433.37,83.41 L433.37,83.8 L400,83.8 Z" fill="rgba(85,95,117,0.53)" stroke="none" stroke-width="0.8"/>
<path d="M400,83.41 C400.32,83.38 400.95,83.44 401.91,83.22 C402.86,83 404.13,82.78 405.72,82.08 C407.31,81.38 409.69,80.39 411.44,79.03 C413.19,77.66 414.81,76.1 416.21,73.88 C417.61,71.65 418.81,68.12 419.83,65.68 C420.85,63.23 421.67,60.85 422.31,59.19 C422.94,57.54 423.2,55.89 423.64,55.76 C424.09,55.64 424.5,56.84 424.98,58.43 C425.46,60.02 426,62.56 426.5,65.3 C427.01,68.03 427.55,72.16 428.03,74.83 C428.51,77.5 428.89,79.92 429.36,81.31 C429.84,82.71 430.22,82.87 430.89,83.22 C431.56,83.57 432.96,83.38 433.37,83.41" fill="none" stroke="#5b6178" stroke-width="0.75"/>
<rect x="399.7" y="27.3" width="64.3" height="56.5" fill="none" stroke="#231f20" stroke-width="0.9"/>
<line x1="399.7" y1="26.9" x2="399.7" y2="84.2" stroke="#231f20" stroke-width="1.2"/>
<line x1="399.3" y1="83.8" x2="464.4" y2="83.8" stroke="#231f20" stroke-width="1.2"/>
<line x1="397.5" y1="83.8" x2="399.7" y2="83.8" stroke="#231f20" stroke-width="0.7"/>
<text transform="translate(394.5,85.65)" font-size="5.2" text-anchor="end" fill="#2a2a2a">0</text>
<line x1="398.3" y1="81.92" x2="399.7" y2="81.92" stroke="#231f20" stroke-width="0.55"/>
<line x1="398.3" y1="80.03" x2="399.7" y2="80.03" stroke="#231f20" stroke-width="0.55"/>
<line x1="398.3" y1="78.15" x2="399.7" y2="78.15" stroke="#231f20" stroke-width="0.55"/>
<line x1="398.3" y1="76.27" x2="399.7" y2="76.27" stroke="#231f20" stroke-width="0.55"/>
<line x1="397.5" y1="74.38" x2="399.7" y2="74.38" stroke="#231f20" stroke-width="0.7"/>
<text transform="translate(394.5,76.23)" font-size="5.2" text-anchor="end" fill="#2a2a2a">50</text>
<line x1="398.3" y1="72.5" x2="399.7" y2="72.5" stroke="#231f20" stroke-width="0.55"/>
<line x1="398.3" y1="70.62" x2="399.7" y2="70.62" stroke="#231f20" stroke-width="0.55"/>
<line x1="398.3" y1="68.73" x2="399.7" y2="68.73" stroke="#231f20" stroke-width="0.55"/>
<line x1="398.3" y1="66.85" x2="399.7" y2="66.85" stroke="#231f20" stroke-width="0.55"/>
<line x1="397.5" y1="64.97" x2="399.7" y2="64.97" stroke="#231f20" stroke-width="0.7"/>
<text transform="translate(394.5,66.82)" font-size="5.2" text-anchor="end" fill="#2a2a2a">100</text>
<line x1="398.3" y1="63.08" x2="399.7" y2="63.08" stroke="#231f20" stroke-width="0.55"/>
<line x1="398.3" y1="61.2" x2="399.7" y2="61.2" stroke="#231f20" stroke-width="0.55"/>
<line x1="398.3" y1="59.32" x2="399.7" y2="59.32" stroke="#231f20" stroke-width="0.55"/>
<line x1="398.3" y1="57.43" x2="399.7" y2="57.43" stroke="#231f20" stroke-width="0.55"/>
<line x1="397.5" y1="55.55" x2="399.7" y2="55.55" stroke="#231f20" stroke-width="0.7"/>
<text transform="translate(394.5,57.4)" font-size="5.2" text-anchor="end" fill="#2a2a2a">150</text>
<line x1="398.3" y1="53.67" x2="399.7" y2="53.67" stroke="#231f20" stroke-width="0.55"/>
<line x1="398.3" y1="51.78" x2="399.7" y2="51.78" stroke="#231f20" stroke-width="0.55"/>
<line x1="398.3" y1="49.9" x2="399.7" y2="49.9" stroke="#231f20" stroke-width="0.55"/>
<line x1="398.3" y1="48.02" x2="399.7" y2="48.02" stroke="#231f20" stroke-width="0.55"/>
<line x1="397.5" y1="46.13" x2="399.7" y2="46.13" stroke="#231f20" stroke-width="0.7"/>
<text transform="translate(394.5,47.98)" font-size="5.2" text-anchor="end" fill="#2a2a2a">200</text>
<line x1="398.3" y1="44.25" x2="399.7" y2="44.25" stroke="#231f20" stroke-width="0.55"/>
<line x1="398.3" y1="42.37" x2="399.7" y2="42.37" stroke="#231f20" stroke-width="0.55"/>
<line x1="398.3" y1="40.48" x2="399.7" y2="40.48" stroke="#231f20" stroke-width="0.55"/>
<line x1="398.3" y1="38.6" x2="399.7" y2="38.6" stroke="#231f20" stroke-width="0.55"/>
<line x1="397.5" y1="36.72" x2="399.7" y2="36.72" stroke="#231f20" stroke-width="0.7"/>
<text transform="translate(394.5,38.57)" font-size="5.2" text-anchor="end" fill="#2a2a2a">250</text>
<line x1="398.3" y1="34.83" x2="399.7" y2="34.83" stroke="#231f20" stroke-width="0.55"/>
<line x1="398.3" y1="32.95" x2="399.7" y2="32.95" stroke="#231f20" stroke-width="0.55"/>
<line x1="398.3" y1="31.07" x2="399.7" y2="31.07" stroke="#231f20" stroke-width="0.55"/>
<line x1="398.3" y1="29.18" x2="399.7" y2="29.18" stroke="#231f20" stroke-width="0.55"/>
<line x1="397.5" y1="27.3" x2="399.7" y2="27.3" stroke="#231f20" stroke-width="0.7"/>
<text transform="translate(394.5,29.15)" font-size="5.2" text-anchor="end" fill="#2a2a2a">300</text>
<line x1="399.7" y1="83.8" x2="399.7" y2="86.2" stroke="#231f20" stroke-width="0.7"/>
<line x1="403.57" y1="83.8" x2="403.57" y2="85.1" stroke="#231f20" stroke-width="0.5"/>
<line x1="405.84" y1="83.8" x2="405.84" y2="85.1" stroke="#231f20" stroke-width="0.5"/>
<line x1="407.44" y1="83.8" x2="407.44" y2="85.1" stroke="#231f20" stroke-width="0.5"/>
<line x1="408.69" y1="83.8" x2="408.69" y2="85.1" stroke="#231f20" stroke-width="0.5"/>
<line x1="409.71" y1="83.8" x2="409.71" y2="85.1" stroke="#231f20" stroke-width="0.5"/>
<line x1="410.57" y1="83.8" x2="410.57" y2="85.1" stroke="#231f20" stroke-width="0.5"/>
<line x1="411.31" y1="83.8" x2="411.31" y2="85.1" stroke="#231f20" stroke-width="0.5"/>
<line x1="411.97" y1="83.8" x2="411.97" y2="85.1" stroke="#231f20" stroke-width="0.5"/>
<text x="400.3" y="93.8" font-size="4.8" text-anchor="middle" fill="#231f20" stroke="#231f20" stroke-width="0.05">10<tspan font-size="3.55" dx="0.35" dy="-2.02">0</tspan></text>
<line x1="412.56" y1="83.8" x2="412.56" y2="86.2" stroke="#231f20" stroke-width="0.7"/>
<line x1="416.43" y1="83.8" x2="416.43" y2="85.1" stroke="#231f20" stroke-width="0.5"/>
<line x1="418.7" y1="83.8" x2="418.7" y2="85.1" stroke="#231f20" stroke-width="0.5"/>
<line x1="420.3" y1="83.8" x2="420.3" y2="85.1" stroke="#231f20" stroke-width="0.5"/>
<line x1="421.55" y1="83.8" x2="421.55" y2="85.1" stroke="#231f20" stroke-width="0.5"/>
<line x1="422.57" y1="83.8" x2="422.57" y2="85.1" stroke="#231f20" stroke-width="0.5"/>
<line x1="423.43" y1="83.8" x2="423.43" y2="85.1" stroke="#231f20" stroke-width="0.5"/>
<line x1="424.17" y1="83.8" x2="424.17" y2="85.1" stroke="#231f20" stroke-width="0.5"/>
<line x1="424.83" y1="83.8" x2="424.83" y2="85.1" stroke="#231f20" stroke-width="0.5"/>
<text x="413.16" y="93.8" font-size="4.8" text-anchor="middle" fill="#231f20" stroke="#231f20" stroke-width="0.05">10<tspan font-size="3.55" dx="0.35" dy="-2.02">1</tspan></text>
<line x1="425.42" y1="83.8" x2="425.42" y2="86.2" stroke="#231f20" stroke-width="0.7"/>
<line x1="429.29" y1="83.8" x2="429.29" y2="85.1" stroke="#231f20" stroke-width="0.5"/>
<line x1="431.56" y1="83.8" x2="431.56" y2="85.1" stroke="#231f20" stroke-width="0.5"/>
<line x1="433.16" y1="83.8" x2="433.16" y2="85.1" stroke="#231f20" stroke-width="0.5"/>
<line x1="434.41" y1="83.8" x2="434.41" y2="85.1" stroke="#231f20" stroke-width="0.5"/>
<line x1="435.43" y1="83.8" x2="435.43" y2="85.1" stroke="#231f20" stroke-width="0.5"/>
<line x1="436.29" y1="83.8" x2="436.29" y2="85.1" stroke="#231f20" stroke-width="0.5"/>
<line x1="437.03" y1="83.8" x2="437.03" y2="85.1" stroke="#231f20" stroke-width="0.5"/>
<line x1="437.69" y1="83.8" x2="437.69" y2="85.1" stroke="#231f20" stroke-width="0.5"/>
<text x="426.02" y="93.8" font-size="4.8" text-anchor="middle" fill="#231f20" stroke="#231f20" stroke-width="0.05">10<tspan font-size="3.55" dx="0.35" dy="-2.02">2</tspan></text>
<line x1="438.28" y1="83.8" x2="438.28" y2="86.2" stroke="#231f20" stroke-width="0.7"/>
<line x1="442.15" y1="83.8" x2="442.15" y2="85.1" stroke="#231f20" stroke-width="0.5"/>
<line x1="444.42" y1="83.8" x2="444.42" y2="85.1" stroke="#231f20" stroke-width="0.5"/>
<line x1="446.02" y1="83.8" x2="446.02" y2="85.1" stroke="#231f20" stroke-width="0.5"/>
<line x1="447.27" y1="83.8" x2="447.27" y2="85.1" stroke="#231f20" stroke-width="0.5"/>
<line x1="448.29" y1="83.8" x2="448.29" y2="85.1" stroke="#231f20" stroke-width="0.5"/>
<line x1="449.15" y1="83.8" x2="449.15" y2="85.1" stroke="#231f20" stroke-width="0.5"/>
<line x1="449.89" y1="83.8" x2="449.89" y2="85.1" stroke="#231f20" stroke-width="0.5"/>
<line x1="450.55" y1="83.8" x2="450.55" y2="85.1" stroke="#231f20" stroke-width="0.5"/>
<text x="438.88" y="93.8" font-size="4.8" text-anchor="middle" fill="#231f20" stroke="#231f20" stroke-width="0.05">10<tspan font-size="3.55" dx="0.35" dy="-2.02">3</tspan></text>
<line x1="451.14" y1="83.8" x2="451.14" y2="86.2" stroke="#231f20" stroke-width="0.7"/>
<line x1="455.01" y1="83.8" x2="455.01" y2="85.1" stroke="#231f20" stroke-width="0.5"/>
<line x1="457.28" y1="83.8" x2="457.28" y2="85.1" stroke="#231f20" stroke-width="0.5"/>
<line x1="458.88" y1="83.8" x2="458.88" y2="85.1" stroke="#231f20" stroke-width="0.5"/>
<line x1="460.13" y1="83.8" x2="460.13" y2="85.1" stroke="#231f20" stroke-width="0.5"/>
<line x1="461.15" y1="83.8" x2="461.15" y2="85.1" stroke="#231f20" stroke-width="0.5"/>
<line x1="462.01" y1="83.8" x2="462.01" y2="85.1" stroke="#231f20" stroke-width="0.5"/>
<line x1="462.75" y1="83.8" x2="462.75" y2="85.1" stroke="#231f20" stroke-width="0.5"/>
<line x1="463.41" y1="83.8" x2="463.41" y2="85.1" stroke="#231f20" stroke-width="0.5"/>
<text x="451.74" y="93.8" font-size="4.8" text-anchor="middle" fill="#231f20" stroke="#231f20" stroke-width="0.05">10<tspan font-size="3.55" dx="0.35" dy="-2.02">4</tspan></text>
<line x1="464" y1="83.8" x2="464" y2="86.2" stroke="#231f20" stroke-width="0.7"/>
<text x="464.6" y="93.8" font-size="4.8" text-anchor="middle" fill="#231f20" stroke="#231f20" stroke-width="0.05">10<tspan font-size="3.55" dx="0.35" dy="-2.02">5</tspan></text>
<text transform="translate(431.85,22.9)" font-size="7.2" text-anchor="middle" fill="#231f20">Raji</text>
<text transform="translate(401.4,33.3)" font-size="3.9" fill="#231f20">MFI 45</text>
<text transform="translate(63,105) scale(0.57,1)" font-size="8.0" fill="#231f20" stroke="#231f20" stroke-width="0.22">GPRC5D</text>
<line x1="85.2" y1="102.2" x2="430" y2="102.2" stroke="#333" stroke-width="1.1"/>
<path d="M429,100 L436,102.2 L429,104.4 Z" fill="#333" stroke="none" stroke-width="0.8"/>
<text transform="translate(6.6,121.6)" font-size="11.2" font-weight="bold" fill="#231f20" stroke="#231f20" stroke-width="0.3">B</text>
<line x1="29.2" y1="140.7" x2="29.2" y2="183.2" stroke="#231f20" stroke-width="1.1"/>
<text transform="translate(23.2,174.95)" font-size="4.8" text-anchor="end" fill="#231f20" stroke="#231f20" stroke-width="0.02">0</text>
<text transform="translate(23.2,167.45)" font-size="4.8" text-anchor="end" fill="#231f20" stroke="#231f20" stroke-width="0.02">25</text>
<text transform="translate(23.2,159.95)" font-size="4.8" text-anchor="end" fill="#231f20" stroke="#231f20" stroke-width="0.02">50</text>
<text transform="translate(23.2,152.45)" font-size="4.8" text-anchor="end" fill="#231f20" stroke="#231f20" stroke-width="0.02">75</text>
<text transform="translate(23.2,144.95)" font-size="4.8" text-anchor="end" fill="#231f20" stroke="#231f20" stroke-width="0.02">100</text>
<path d="M26.8,173.2L29.2,173.2 M26.8,165.7L29.2,165.7 M26.8,158.2L29.2,158.2 M26.8,150.7L29.2,150.7 M26.8,143.2L29.2,143.2" stroke="#231f20" stroke-width="0.85" fill="none"/>
<line x1="30.2" y1="173.2" x2="105.2" y2="173.2" stroke="#1a1a1a" stroke-width="0.75" stroke-dasharray="0.65 0.85"/>
<line x1="28.7" y1="182.7" x2="33.17" y2="182.7" stroke="#231f20" stroke-width="1.1"/>
<line x1="35.17" y1="182.7" x2="92.4" y2="182.7" stroke="#231f20" stroke-width="1.1"/>
<line x1="32.67" y1="183.9" x2="33.67" y2="181.5" stroke="#231f20" stroke-width="0.6"/>
<line x1="34.67" y1="183.9" x2="35.67" y2="181.5" stroke="#231f20" stroke-width="0.6"/>
<path d="M31.1,182.7L31.1,184.7 M37.7,182.7L37.7,184.7 M51.05,182.7L51.05,184.7 M64.4,182.7L64.4,184.7 M77.75,182.7L77.75,184.7 M91.1,182.7L91.1,184.7" stroke="#231f20" stroke-width="0.8" fill="none"/>
<path d="M47.54,182.7L47.54,184.2 M60.89,182.7L60.89,184.2 M74.24,182.7L74.24,184.2 M87.59,182.7L87.59,184.2" stroke="#231f20" stroke-width="0.7" fill="none"/>
<text transform="translate(34.7,191) rotate(-45)" font-size="5.2" text-anchor="end" fill="#231f20" stroke="#231f20" stroke-width="0.1">Solvent control</text>
<text transform="translate(41.3,191) rotate(-45)" font-size="5.2" text-anchor="end" fill="#231f20" stroke="#231f20" stroke-width="0.1">0.001</text>
<text transform="translate(54.65,191) rotate(-45)" font-size="5.2" text-anchor="end" fill="#231f20" stroke="#231f20" stroke-width="0.1">0.01</text>
<text transform="translate(68,191) rotate(-45)" font-size="5.2" text-anchor="end" fill="#231f20" stroke="#231f20" stroke-width="0.1">0.1</text>
<text transform="translate(81.35,191) rotate(-45)" font-size="5.2" text-anchor="end" fill="#231f20" stroke="#231f20" stroke-width="0.1">1</text>
<text transform="translate(94.7,191) rotate(-45)" font-size="5.2" text-anchor="end" fill="#231f20" stroke="#231f20" stroke-width="0.1">10</text>
<line x1="94.2" y1="182.7" x2="106.4" y2="182.7" stroke="#231f20" stroke-width="1.1"/>
<path d="M95.8,182.7L95.8,184.7 M100,182.7L100,184.7 M104.2,182.7L104.2,184.7" stroke="#231f20" stroke-width="0.6" fill="none"/>
<text transform="translate(97.3,188.3) rotate(-90) scale(0.97,1)" font-size="5.2" text-anchor="end" fill="#231f20">3930 (4)</text>
<text transform="translate(101.5,188.3) rotate(-90) scale(0.97,1)" font-size="5.2" text-anchor="end" fill="#231f20">7008 (4)</text>
<text transform="translate(105.7,188.3) rotate(-90) scale(0.97,1)" font-size="5.2" text-anchor="end" fill="#231f20">GCDB75 (4)</text>
<path d="M31.2,173.2 L39.2,171.19 L48.5,170.29 L58,170.5 L66.9,165.7 L76.3,170.29 L85.6,179.2" fill="none" stroke="#7a76c6" stroke-width="0.7"/>
<circle cx="31.2" cy="173.2" r="0.95" fill="#5e58ab"/>
<circle cx="39.2" cy="171.19" r="0.95" fill="#5e58ab"/>
<circle cx="48.5" cy="170.29" r="0.95" fill="#5e58ab"/>
<line x1="58" y1="169.6" x2="58" y2="171.4" stroke="#5e58ab" stroke-width="0.45"/>
<line x1="57.1" y1="169.6" x2="58.9" y2="169.6" stroke="#5e58ab" stroke-width="0.45"/>
<line x1="57.1" y1="171.4" x2="58.9" y2="171.4" stroke="#5e58ab" stroke-width="0.45"/>
<circle cx="58" cy="170.5" r="0.95" fill="#5e58ab"/>
<line x1="66.9" y1="163.9" x2="66.9" y2="167.5" stroke="#5e58ab" stroke-width="0.45"/>
<line x1="66" y1="163.9" x2="67.8" y2="163.9" stroke="#5e58ab" stroke-width="0.45"/>
<line x1="66" y1="167.5" x2="67.8" y2="167.5" stroke="#5e58ab" stroke-width="0.45"/>
<circle cx="66.9" cy="165.7" r="0.95" fill="#5e58ab"/>
<line x1="76.3" y1="169.09" x2="76.3" y2="171.49" stroke="#5e58ab" stroke-width="0.45"/>
<line x1="75.4" y1="169.09" x2="77.2" y2="169.09" stroke="#5e58ab" stroke-width="0.45"/>
<line x1="75.4" y1="171.49" x2="77.2" y2="171.49" stroke="#5e58ab" stroke-width="0.45"/>
<circle cx="76.3" cy="170.29" r="0.95" fill="#5e58ab"/>
<circle cx="85.6" cy="179.2" r="0.95" fill="#5e58ab"/>
<line x1="95.8" y1="165.4" x2="95.8" y2="172.6" stroke="#5e58ab" stroke-width="0.45"/>
<line x1="94.9" y1="165.4" x2="96.7" y2="165.4" stroke="#5e58ab" stroke-width="0.45"/>
<line x1="94.9" y1="172.6" x2="96.7" y2="172.6" stroke="#5e58ab" stroke-width="0.45"/>
<circle cx="95.8" cy="169" r="0.95" fill="#5e58ab"/>
<line x1="100" y1="176.8" x2="100" y2="181.6" stroke="#5e58ab" stroke-width="0.45"/>
<line x1="99.1" y1="176.8" x2="100.9" y2="176.8" stroke="#5e58ab" stroke-width="0.45"/>
<line x1="99.1" y1="181.6" x2="100.9" y2="181.6" stroke="#5e58ab" stroke-width="0.45"/>
<circle cx="100" cy="179.2" r="0.95" fill="#5e58ab"/>
<line x1="104.2" y1="163" x2="104.2" y2="171.4" stroke="#5e58ab" stroke-width="0.45"/>
<line x1="103.3" y1="163" x2="105.1" y2="163" stroke="#5e58ab" stroke-width="0.45"/>
<line x1="103.3" y1="171.4" x2="105.1" y2="171.4" stroke="#5e58ab" stroke-width="0.45"/>
<circle cx="104.2" cy="167.2" r="0.95" fill="#5e58ab"/>
<text transform="translate(68.7,135.5)" font-size="7.2" text-anchor="middle" fill="#231f20">U266</text>
<text transform="translate(13.4,161) rotate(-90) scale(0.79,1)" font-size="6.6" text-anchor="middle" fill="#231f20" stroke="#231f20" stroke-width="0.22">Lysis (%)</text>
<text transform="translate(68.7,217.8) scale(0.73,1)" font-size="7.0" text-anchor="middle" fill="#231f20" stroke="#231f20" stroke-width="0.1">Talquetamab (µg/mL)</text>
<line x1="130" y1="140.4" x2="130" y2="183.2" stroke="#231f20" stroke-width="1.1"/>
<text transform="translate(124,174.65)" font-size="4.8" text-anchor="end" fill="#231f20" stroke="#231f20" stroke-width="0.02">0</text>
<text transform="translate(124,167.15)" font-size="4.8" text-anchor="end" fill="#231f20" stroke="#231f20" stroke-width="0.02">25</text>
<text transform="translate(124,159.65)" font-size="4.8" text-anchor="end" fill="#231f20" stroke="#231f20" stroke-width="0.02">50</text>
<text transform="translate(124,152.15)" font-size="4.8" text-anchor="end" fill="#231f20" stroke="#231f20" stroke-width="0.02">75</text>
<text transform="translate(124,144.65)" font-size="4.8" text-anchor="end" fill="#231f20" stroke="#231f20" stroke-width="0.02">100</text>
<path d="M127.6,172.9L130,172.9 M127.6,165.4L130,165.4 M127.6,157.9L130,157.9 M127.6,150.4L130,150.4 M127.6,142.9L130,142.9" stroke="#231f20" stroke-width="0.85" fill="none"/>
<line x1="131" y1="172.9" x2="206" y2="172.9" stroke="#1a1a1a" stroke-width="0.75" stroke-dasharray="0.65 0.85"/>
<line x1="129.5" y1="182.7" x2="133.97" y2="182.7" stroke="#231f20" stroke-width="1.1"/>
<line x1="135.97" y1="182.7" x2="193.2" y2="182.7" stroke="#231f20" stroke-width="1.1"/>
<line x1="133.47" y1="183.9" x2="134.47" y2="181.5" stroke="#231f20" stroke-width="0.6"/>
<line x1="135.47" y1="183.9" x2="136.47" y2="181.5" stroke="#231f20" stroke-width="0.6"/>
<path d="M131.9,182.7L131.9,184.7 M138.5,182.7L138.5,184.7 M151.85,182.7L151.85,184.7 M165.2,182.7L165.2,184.7 M178.55,182.7L178.55,184.7 M191.9,182.7L191.9,184.7" stroke="#231f20" stroke-width="0.8" fill="none"/>
<path d="M148.34,182.7L148.34,184.2 M161.69,182.7L161.69,184.2 M175.04,182.7L175.04,184.2 M188.39,182.7L188.39,184.2" stroke="#231f20" stroke-width="0.7" fill="none"/>
<text transform="translate(135.5,191) rotate(-45)" font-size="5.2" text-anchor="end" fill="#231f20" stroke="#231f20" stroke-width="0.1">Solvent control</text>
<text transform="translate(142.1,191) rotate(-45)" font-size="5.2" text-anchor="end" fill="#231f20" stroke="#231f20" stroke-width="0.1">0.001</text>
<text transform="translate(155.45,191) rotate(-45)" font-size="5.2" text-anchor="end" fill="#231f20" stroke="#231f20" stroke-width="0.1">0.01</text>
<text transform="translate(168.8,191) rotate(-45)" font-size="5.2" text-anchor="end" fill="#231f20" stroke="#231f20" stroke-width="0.1">0.1</text>
<text transform="translate(182.15,191) rotate(-45)" font-size="5.2" text-anchor="end" fill="#231f20" stroke="#231f20" stroke-width="0.1">1</text>
<text transform="translate(195.5,191) rotate(-45)" font-size="5.2" text-anchor="end" fill="#231f20" stroke="#231f20" stroke-width="0.1">10</text>
<line x1="195" y1="182.7" x2="207.2" y2="182.7" stroke="#231f20" stroke-width="1.1"/>
<path d="M196.6,182.7L196.6,184.7 M200.8,182.7L200.8,184.7 M205,182.7L205,184.7" stroke="#231f20" stroke-width="0.6" fill="none"/>
<text transform="translate(198.1,188.3) rotate(-90) scale(0.97,1)" font-size="5.2" text-anchor="end" fill="#231f20">3930 (4)</text>
<text transform="translate(202.3,188.3) rotate(-90) scale(0.97,1)" font-size="5.2" text-anchor="end" fill="#231f20">7008 (4)</text>
<text transform="translate(206.5,188.3) rotate(-90) scale(0.97,1)" font-size="5.2" text-anchor="end" fill="#231f20">GCDB75 (4)</text>
<path d="M138.5,172.89 L139.31,172.88 L140.12,172.87 L140.93,172.86 L141.73,172.84 L142.54,172.82 L143.35,172.78 L144.16,172.73 L144.97,172.65 L145.78,172.54 L146.58,172.39 L147.39,172.17 L148.2,171.86 L149.01,171.43 L149.82,170.84 L150.62,170.03 L151.43,168.96 L152.24,167.58 L153.05,165.86 L153.86,163.84 L154.67,161.57 L155.47,159.18 L156.28,156.83 L157.09,154.65 L157.9,152.75 L158.71,151.18 L159.52,149.94 L160.32,148.99 L161.13,148.28 L161.94,147.77 L162.75,147.39 L163.56,147.13 L164.37,146.94 L165.18,146.81 L165.98,146.71 L166.79,146.65 L167.6,146.6 L168.41,146.57 L169.22,146.55 L170.03,146.53 L170.83,146.52 L171.64,146.52 L172.45,146.51 L173.26,146.51 L174.07,146.51 L174.88,146.5 L175.68,146.5 L176.49,146.5 L177.3,146.5 L178.11,146.5 L178.92,146.5 L179.72,146.5 L180.53,146.5 L181.34,146.5 L182.15,146.5 L182.96,146.5 L183.77,146.5 L184.57,146.5 L185.38,146.5 L186.19,146.5 L187,146.5" fill="none" stroke="#7a76c6" stroke-width="0.7"/>
<circle cx="131.9" cy="172.9" r="0.95" fill="#5e58ab"/>
<line x1="140.6" y1="172.6" x2="140.6" y2="173.8" stroke="#5e58ab" stroke-width="0.45"/>
<line x1="139.7" y1="172.6" x2="141.5" y2="172.6" stroke="#5e58ab" stroke-width="0.45"/>
<line x1="139.7" y1="173.8" x2="141.5" y2="173.8" stroke="#5e58ab" stroke-width="0.45"/>
<circle cx="140.6" cy="173.2" r="0.95" fill="#5e58ab"/>
<line x1="149.6" y1="167.2" x2="149.6" y2="170.8" stroke="#5e58ab" stroke-width="0.45"/>
<line x1="148.7" y1="167.2" x2="150.5" y2="167.2" stroke="#5e58ab" stroke-width="0.45"/>
<line x1="148.7" y1="170.8" x2="150.5" y2="170.8" stroke="#5e58ab" stroke-width="0.45"/>
<circle cx="149.6" cy="169" r="0.95" fill="#5e58ab"/>
<line x1="153.7" y1="160.6" x2="153.7" y2="167.8" stroke="#5e58ab" stroke-width="0.45"/>
<line x1="152.8" y1="160.6" x2="154.6" y2="160.6" stroke="#5e58ab" stroke-width="0.45"/>
<line x1="152.8" y1="167.8" x2="154.6" y2="167.8" stroke="#5e58ab" stroke-width="0.45"/>
<circle cx="153.7" cy="164.2" r="0.95" fill="#5e58ab"/>
<line x1="158.8" y1="148.9" x2="158.8" y2="153.1" stroke="#5e58ab" stroke-width="0.45"/>
<line x1="157.9" y1="148.9" x2="159.7" y2="148.9" stroke="#5e58ab" stroke-width="0.45"/>
<line x1="157.9" y1="153.1" x2="159.7" y2="153.1" stroke="#5e58ab" stroke-width="0.45"/>
<circle cx="158.8" cy="151" r="0.95" fill="#5e58ab"/>
<line x1="168.5" y1="145.6" x2="168.5" y2="147.4" stroke="#5e58ab" stroke-width="0.45"/>
<line x1="167.6" y1="145.6" x2="169.4" y2="145.6" stroke="#5e58ab" stroke-width="0.45"/>
<line x1="167.6" y1="147.4" x2="169.4" y2="147.4" stroke="#5e58ab" stroke-width="0.45"/>
<circle cx="168.5" cy="146.5" r="0.95" fill="#5e58ab"/>
<line x1="177.7" y1="145.6" x2="177.7" y2="147.4" stroke="#5e58ab" stroke-width="0.45"/>
<line x1="176.8" y1="145.6" x2="178.6" y2="145.6" stroke="#5e58ab" stroke-width="0.45"/>
<line x1="176.8" y1="147.4" x2="178.6" y2="147.4" stroke="#5e58ab" stroke-width="0.45"/>
<circle cx="177.7" cy="146.5" r="0.95" fill="#5e58ab"/>
<line x1="186.7" y1="145.6" x2="186.7" y2="147.4" stroke="#5e58ab" stroke-width="0.45"/>
<line x1="185.8" y1="145.6" x2="187.6" y2="145.6" stroke="#5e58ab" stroke-width="0.45"/>
<line x1="185.8" y1="147.4" x2="187.6" y2="147.4" stroke="#5e58ab" stroke-width="0.45"/>
<circle cx="186.7" cy="146.5" r="0.95" fill="#5e58ab"/>
<line x1="196.6" y1="160.6" x2="196.6" y2="163.6" stroke="#5e58ab" stroke-width="0.45"/>
<line x1="195.7" y1="160.6" x2="197.5" y2="160.6" stroke="#5e58ab" stroke-width="0.45"/>
<line x1="195.7" y1="163.6" x2="197.5" y2="163.6" stroke="#5e58ab" stroke-width="0.45"/>
<circle cx="196.6" cy="162.1" r="0.95" fill="#5e58ab"/>
<line x1="200.8" y1="170.5" x2="200.8" y2="174.1" stroke="#5e58ab" stroke-width="0.45"/>
<line x1="199.9" y1="170.5" x2="201.7" y2="170.5" stroke="#5e58ab" stroke-width="0.45"/>
<line x1="199.9" y1="174.1" x2="201.7" y2="174.1" stroke="#5e58ab" stroke-width="0.45"/>
<circle cx="200.8" cy="172.3" r="0.95" fill="#5e58ab"/>
<line x1="205" y1="166.6" x2="205" y2="169.6" stroke="#5e58ab" stroke-width="0.45"/>
<line x1="204.1" y1="166.6" x2="205.9" y2="166.6" stroke="#5e58ab" stroke-width="0.45"/>
<line x1="204.1" y1="169.6" x2="205.9" y2="169.6" stroke="#5e58ab" stroke-width="0.45"/>
<circle cx="205" cy="168.1" r="0.95" fill="#5e58ab"/>
<text transform="translate(169.5,130.6)" font-size="7.2" text-anchor="middle" fill="#231f20">RPMI-8226</text>
<text x="169.5" y="136.9" font-size="5.1" text-anchor="middle" fill="#231f20">EC<tspan font-size="3.5" dy="1">50</tspan><tspan dy="-1">=0.017 µg/mL</tspan></text>
<text transform="translate(114.2,160.7) rotate(-90) scale(0.79,1)" font-size="6.6" text-anchor="middle" fill="#231f20" stroke="#231f20" stroke-width="0.22">Lysis (%)</text>
<text transform="translate(169.5,217.8) scale(0.73,1)" font-size="7.0" text-anchor="middle" fill="#231f20" stroke="#231f20" stroke-width="0.1">Talquetamab (µg/mL)</text>
<line x1="232.3" y1="140.2" x2="232.3" y2="183.2" stroke="#231f20" stroke-width="1.1"/>
<text transform="translate(226.3,174.45)" font-size="4.8" text-anchor="end" fill="#231f20" stroke="#231f20" stroke-width="0.02">0</text>
<text transform="translate(226.3,166.95)" font-size="4.8" text-anchor="end" fill="#231f20" stroke="#231f20" stroke-width="0.02">25</text>
<text transform="translate(226.3,159.45)" font-size="4.8" text-anchor="end" fill="#231f20" stroke="#231f20" stroke-width="0.02">50</text>
<text transform="translate(226.3,151.95)" font-size="4.8" text-anchor="end" fill="#231f20" stroke="#231f20" stroke-width="0.02">75</text>
<text transform="translate(226.3,144.45)" font-size="4.8" text-anchor="end" fill="#231f20" stroke="#231f20" stroke-width="0.02">100</text>
<path d="M229.9,172.7L232.3,172.7 M229.9,165.2L232.3,165.2 M229.9,157.7L232.3,157.7 M229.9,150.2L232.3,150.2 M229.9,142.7L232.3,142.7" stroke="#231f20" stroke-width="0.85" fill="none"/>
<line x1="233.3" y1="172.7" x2="308.3" y2="172.7" stroke="#1a1a1a" stroke-width="0.75" stroke-dasharray="0.65 0.85"/>
<line x1="231.8" y1="182.7" x2="236.27" y2="182.7" stroke="#231f20" stroke-width="1.1"/>
<line x1="238.27" y1="182.7" x2="295.5" y2="182.7" stroke="#231f20" stroke-width="1.1"/>
<line x1="235.77" y1="183.9" x2="236.77" y2="181.5" stroke="#231f20" stroke-width="0.6"/>
<line x1="237.77" y1="183.9" x2="238.77" y2="181.5" stroke="#231f20" stroke-width="0.6"/>
<path d="M234.2,182.7L234.2,184.7 M240.8,182.7L240.8,184.7 M254.15,182.7L254.15,184.7 M267.5,182.7L267.5,184.7 M280.85,182.7L280.85,184.7 M294.2,182.7L294.2,184.7" stroke="#231f20" stroke-width="0.8" fill="none"/>
<path d="M250.64,182.7L250.64,184.2 M263.99,182.7L263.99,184.2 M277.34,182.7L277.34,184.2 M290.69,182.7L290.69,184.2" stroke="#231f20" stroke-width="0.7" fill="none"/>
<text transform="translate(237.8,191) rotate(-45)" font-size="5.2" text-anchor="end" fill="#231f20" stroke="#231f20" stroke-width="0.1">Solvent control</text>
<text transform="translate(244.4,191) rotate(-45)" font-size="5.2" text-anchor="end" fill="#231f20" stroke="#231f20" stroke-width="0.1">0.001</text>
<text transform="translate(257.75,191) rotate(-45)" font-size="5.2" text-anchor="end" fill="#231f20" stroke="#231f20" stroke-width="0.1">0.01</text>
<text transform="translate(271.1,191) rotate(-45)" font-size="5.2" text-anchor="end" fill="#231f20" stroke="#231f20" stroke-width="0.1">0.1</text>
<text transform="translate(284.45,191) rotate(-45)" font-size="5.2" text-anchor="end" fill="#231f20" stroke="#231f20" stroke-width="0.1">1</text>
<text transform="translate(297.8,191) rotate(-45)" font-size="5.2" text-anchor="end" fill="#231f20" stroke="#231f20" stroke-width="0.1">10</text>
<line x1="297.3" y1="182.7" x2="309.5" y2="182.7" stroke="#231f20" stroke-width="1.1"/>
<path d="M298.9,182.7L298.9,184.7 M303.1,182.7L303.1,184.7 M307.3,182.7L307.3,184.7" stroke="#231f20" stroke-width="0.6" fill="none"/>
<text transform="translate(300.4,188.3) rotate(-90) scale(0.97,1)" font-size="5.2" text-anchor="end" fill="#231f20">3930 (4)</text>
<text transform="translate(304.6,188.3) rotate(-90) scale(0.97,1)" font-size="5.2" text-anchor="end" fill="#231f20">7008 (4)</text>
<text transform="translate(308.8,188.3) rotate(-90) scale(0.97,1)" font-size="5.2" text-anchor="end" fill="#231f20">GCDB75 (4)</text>
<path d="M239.3,171.38 L240.13,171.1 L240.97,170.77 L241.8,170.38 L242.63,169.92 L243.47,169.37 L244.3,168.74 L245.13,168.01 L245.97,167.18 L246.8,166.24 L247.63,165.2 L248.47,164.05 L249.3,162.81 L250.13,161.5 L250.97,160.14 L251.8,158.75 L252.63,157.36 L253.47,156 L254.3,154.69 L255.13,153.45 L255.97,152.3 L256.8,151.26 L257.63,150.32 L258.47,149.49 L259.3,148.76 L260.13,148.13 L260.97,147.58 L261.8,147.12 L262.63,146.73 L263.47,146.4 L264.3,146.12 L265.13,145.89 L265.97,145.7 L266.8,145.54 L267.63,145.41 L268.47,145.3 L269.3,145.21 L270.13,145.14 L270.97,145.08 L271.8,145.03 L272.63,144.99 L273.47,144.95 L274.3,144.93 L275.13,144.9 L275.97,144.88 L276.8,144.87 L277.63,144.86 L278.47,144.85 L279.3,144.84 L280.13,144.83 L280.97,144.83 L281.8,144.82 L282.63,144.82 L283.47,144.81 L284.3,144.81 L285.13,144.81 L285.97,144.81 L286.8,144.81 L287.63,144.81 L288.47,144.8 L289.3,144.8" fill="none" stroke="#7a76c6" stroke-width="0.7"/>
<circle cx="234.2" cy="172.7" r="0.95" fill="#5e58ab"/>
<line x1="241.9" y1="170.6" x2="241.9" y2="171.8" stroke="#5e58ab" stroke-width="0.45"/>
<line x1="241" y1="170.6" x2="242.8" y2="170.6" stroke="#5e58ab" stroke-width="0.45"/>
<line x1="241" y1="171.8" x2="242.8" y2="171.8" stroke="#5e58ab" stroke-width="0.45"/>
<circle cx="241.9" cy="171.2" r="0.95" fill="#5e58ab"/>
<line x1="251" y1="157.4" x2="251" y2="162.8" stroke="#5e58ab" stroke-width="0.45"/>
<line x1="250.1" y1="157.4" x2="251.9" y2="157.4" stroke="#5e58ab" stroke-width="0.45"/>
<line x1="250.1" y1="162.8" x2="251.9" y2="162.8" stroke="#5e58ab" stroke-width="0.45"/>
<circle cx="251" cy="160.1" r="0.95" fill="#5e58ab"/>
<line x1="255" y1="151.7" x2="255" y2="157.1" stroke="#5e58ab" stroke-width="0.45"/>
<line x1="254.1" y1="151.7" x2="255.9" y2="151.7" stroke="#5e58ab" stroke-width="0.45"/>
<line x1="254.1" y1="157.1" x2="255.9" y2="157.1" stroke="#5e58ab" stroke-width="0.45"/>
<circle cx="255" cy="154.4" r="0.95" fill="#5e58ab"/>
<line x1="260.2" y1="146.6" x2="260.2" y2="149.6" stroke="#5e58ab" stroke-width="0.45"/>
<line x1="259.3" y1="146.6" x2="261.1" y2="146.6" stroke="#5e58ab" stroke-width="0.45"/>
<line x1="259.3" y1="149.6" x2="261.1" y2="149.6" stroke="#5e58ab" stroke-width="0.45"/>
<circle cx="260.2" cy="148.1" r="0.95" fill="#5e58ab"/>
<line x1="269.8" y1="144.5" x2="269.8" y2="145.7" stroke="#5e58ab" stroke-width="0.45"/>
<line x1="268.9" y1="144.5" x2="270.7" y2="144.5" stroke="#5e58ab" stroke-width="0.45"/>
<line x1="268.9" y1="145.7" x2="270.7" y2="145.7" stroke="#5e58ab" stroke-width="0.45"/>
<circle cx="269.8" cy="145.1" r="0.95" fill="#5e58ab"/>
<line x1="279" y1="144.2" x2="279" y2="145.4" stroke="#5e58ab" stroke-width="0.45"/>
<line x1="278.1" y1="144.2" x2="279.9" y2="144.2" stroke="#5e58ab" stroke-width="0.45"/>
<line x1="278.1" y1="145.4" x2="279.9" y2="145.4" stroke="#5e58ab" stroke-width="0.45"/>
<circle cx="279" cy="144.8" r="0.95" fill="#5e58ab"/>
<line x1="288" y1="144.2" x2="288" y2="146" stroke="#5e58ab" stroke-width="0.45"/>
<line x1="287.1" y1="144.2" x2="288.9" y2="144.2" stroke="#5e58ab" stroke-width="0.45"/>
<line x1="287.1" y1="146" x2="288.9" y2="146" stroke="#5e58ab" stroke-width="0.45"/>
<circle cx="288" cy="145.1" r="0.95" fill="#5e58ab"/>
<line x1="298.9" y1="174.2" x2="298.9" y2="178.4" stroke="#5e58ab" stroke-width="0.45"/>
<line x1="298" y1="174.2" x2="299.8" y2="174.2" stroke="#5e58ab" stroke-width="0.45"/>
<line x1="298" y1="178.4" x2="299.8" y2="178.4" stroke="#5e58ab" stroke-width="0.45"/>
<circle cx="298.9" cy="176.3" r="0.95" fill="#5e58ab"/>
<line x1="303.1" y1="173.6" x2="303.1" y2="176.6" stroke="#5e58ab" stroke-width="0.45"/>
<line x1="302.2" y1="173.6" x2="304" y2="173.6" stroke="#5e58ab" stroke-width="0.45"/>
<line x1="302.2" y1="176.6" x2="304" y2="176.6" stroke="#5e58ab" stroke-width="0.45"/>
<circle cx="303.1" cy="175.1" r="0.95" fill="#5e58ab"/>
<line x1="307.3" y1="173.6" x2="307.3" y2="176.6" stroke="#5e58ab" stroke-width="0.45"/>
<line x1="306.4" y1="173.6" x2="308.2" y2="173.6" stroke="#5e58ab" stroke-width="0.45"/>
<line x1="306.4" y1="176.6" x2="308.2" y2="176.6" stroke="#5e58ab" stroke-width="0.45"/>
<circle cx="307.3" cy="175.1" r="0.95" fill="#5e58ab"/>
<text transform="translate(271.8,128.1)" font-size="7.2" text-anchor="middle" fill="#231f20">MM.1S</text>
<text x="271.8" y="135.2" font-size="5.1" text-anchor="middle" fill="#231f20">EC<tspan font-size="3.5" dy="1">50</tspan><tspan dy="-1">=0.007 µg/mL</tspan></text>
<text transform="translate(216.5,160.5) rotate(-90) scale(0.79,1)" font-size="6.6" text-anchor="middle" fill="#231f20" stroke="#231f20" stroke-width="0.22">Lysis (%)</text>
<text transform="translate(271.8,217.8) scale(0.73,1)" font-size="7.0" text-anchor="middle" fill="#231f20" stroke="#231f20" stroke-width="0.1">Talquetamab (µg/mL)</text>
<line x1="333.7" y1="140.2" x2="333.7" y2="183.2" stroke="#231f20" stroke-width="1.1"/>
<text transform="translate(327.7,174.45)" font-size="4.8" text-anchor="end" fill="#231f20" stroke="#231f20" stroke-width="0.02">0</text>
<text transform="translate(327.7,166.95)" font-size="4.8" text-anchor="end" fill="#231f20" stroke="#231f20" stroke-width="0.02">25</text>
<text transform="translate(327.7,159.45)" font-size="4.8" text-anchor="end" fill="#231f20" stroke="#231f20" stroke-width="0.02">50</text>
<text transform="translate(327.7,151.95)" font-size="4.8" text-anchor="end" fill="#231f20" stroke="#231f20" stroke-width="0.02">75</text>
<text transform="translate(327.7,144.45)" font-size="4.8" text-anchor="end" fill="#231f20" stroke="#231f20" stroke-width="0.02">100</text>
<path d="M331.3,172.7L333.7,172.7 M331.3,165.2L333.7,165.2 M331.3,157.7L333.7,157.7 M331.3,150.2L333.7,150.2 M331.3,142.7L333.7,142.7" stroke="#231f20" stroke-width="0.85" fill="none"/>
<line x1="334.7" y1="172.7" x2="409.7" y2="172.7" stroke="#1a1a1a" stroke-width="0.75" stroke-dasharray="0.65 0.85"/>
<line x1="333.2" y1="182.7" x2="337.67" y2="182.7" stroke="#231f20" stroke-width="1.1"/>
<line x1="339.67" y1="182.7" x2="396.9" y2="182.7" stroke="#231f20" stroke-width="1.1"/>
<line x1="337.17" y1="183.9" x2="338.17" y2="181.5" stroke="#231f20" stroke-width="0.6"/>
<line x1="339.17" y1="183.9" x2="340.17" y2="181.5" stroke="#231f20" stroke-width="0.6"/>
<path d="M335.6,182.7L335.6,184.7 M342.2,182.7L342.2,184.7 M355.55,182.7L355.55,184.7 M368.9,182.7L368.9,184.7 M382.25,182.7L382.25,184.7 M395.6,182.7L395.6,184.7" stroke="#231f20" stroke-width="0.8" fill="none"/>
<path d="M352.04,182.7L352.04,184.2 M365.39,182.7L365.39,184.2 M378.74,182.7L378.74,184.2 M392.09,182.7L392.09,184.2" stroke="#231f20" stroke-width="0.7" fill="none"/>
<text transform="translate(339.2,191) rotate(-45)" font-size="5.2" text-anchor="end" fill="#231f20" stroke="#231f20" stroke-width="0.1">Solvent control</text>
<text transform="translate(345.8,191) rotate(-45)" font-size="5.2" text-anchor="end" fill="#231f20" stroke="#231f20" stroke-width="0.1">0.001</text>
<text transform="translate(359.15,191) rotate(-45)" font-size="5.2" text-anchor="end" fill="#231f20" stroke="#231f20" stroke-width="0.1">0.01</text>
<text transform="translate(372.5,191) rotate(-45)" font-size="5.2" text-anchor="end" fill="#231f20" stroke="#231f20" stroke-width="0.1">0.1</text>
<text transform="translate(385.85,191) rotate(-45)" font-size="5.2" text-anchor="end" fill="#231f20" stroke="#231f20" stroke-width="0.1">1</text>
<text transform="translate(399.2,191) rotate(-45)" font-size="5.2" text-anchor="end" fill="#231f20" stroke="#231f20" stroke-width="0.1">10</text>
<line x1="398.7" y1="182.7" x2="410.9" y2="182.7" stroke="#231f20" stroke-width="1.1"/>
<path d="M400.3,182.7L400.3,184.7 M404.5,182.7L404.5,184.7 M408.7,182.7L408.7,184.7" stroke="#231f20" stroke-width="0.6" fill="none"/>
<text transform="translate(401.8,188.3) rotate(-90) scale(0.97,1)" font-size="5.2" text-anchor="end" fill="#231f20">3930 (4)</text>
<text transform="translate(406,188.3) rotate(-90) scale(0.97,1)" font-size="5.2" text-anchor="end" fill="#231f20">7008 (4)</text>
<text transform="translate(410.2,188.3) rotate(-90) scale(0.97,1)" font-size="5.2" text-anchor="end" fill="#231f20">GCDB75 (4)</text>
<path d="M339.7,171.34 L340.55,171.03 L341.4,170.67 L342.25,170.23 L343.1,169.72 L343.95,169.1 L344.8,168.39 L345.65,167.55 L346.5,166.6 L347.35,165.53 L348.2,164.33 L349.05,163.03 L349.9,161.63 L350.75,160.16 L351.6,158.66 L352.45,157.14 L353.3,155.65 L354.15,154.22 L355,152.87 L355.85,151.62 L356.7,150.49 L357.55,149.48 L358.4,148.59 L359.25,147.82 L360.1,147.16 L360.95,146.6 L361.8,146.13 L362.65,145.73 L363.5,145.4 L364.35,145.13 L365.2,144.9 L366.05,144.72 L366.9,144.57 L367.75,144.44 L368.6,144.34 L369.45,144.26 L370.3,144.19 L371.15,144.14 L372,144.09 L372.85,144.05 L373.7,144.03 L374.55,144 L375.4,143.98 L376.25,143.97 L377.1,143.95 L377.95,143.94 L378.8,143.94 L379.65,143.93 L380.5,143.92 L381.35,143.92 L382.2,143.92 L383.05,143.91 L383.9,143.91 L384.75,143.91 L385.6,143.91 L386.45,143.91 L387.3,143.9 L388.15,143.9 L389,143.9 L389.85,143.9 L390.7,143.9" fill="none" stroke="#7a76c6" stroke-width="0.7"/>
<circle cx="335" cy="172.7" r="0.95" fill="#5e58ab"/>
<line x1="343" y1="166.4" x2="343" y2="170.6" stroke="#5e58ab" stroke-width="0.45"/>
<line x1="342.1" y1="166.4" x2="343.9" y2="166.4" stroke="#5e58ab" stroke-width="0.45"/>
<line x1="342.1" y1="170.6" x2="343.9" y2="170.6" stroke="#5e58ab" stroke-width="0.45"/>
<circle cx="343" cy="168.5" r="0.95" fill="#5e58ab"/>
<line x1="352.3" y1="154.7" x2="352.3" y2="160.1" stroke="#5e58ab" stroke-width="0.45"/>
<line x1="351.4" y1="154.7" x2="353.2" y2="154.7" stroke="#5e58ab" stroke-width="0.45"/>
<line x1="351.4" y1="160.1" x2="353.2" y2="160.1" stroke="#5e58ab" stroke-width="0.45"/>
<circle cx="352.3" cy="157.4" r="0.95" fill="#5e58ab"/>
<line x1="356.2" y1="150.5" x2="356.2" y2="154.7" stroke="#5e58ab" stroke-width="0.45"/>
<line x1="355.3" y1="150.5" x2="357.1" y2="150.5" stroke="#5e58ab" stroke-width="0.45"/>
<line x1="355.3" y1="154.7" x2="357.1" y2="154.7" stroke="#5e58ab" stroke-width="0.45"/>
<circle cx="356.2" cy="152.6" r="0.95" fill="#5e58ab"/>
<line x1="361.5" y1="145.4" x2="361.5" y2="147.2" stroke="#5e58ab" stroke-width="0.45"/>
<line x1="360.6" y1="145.4" x2="362.4" y2="145.4" stroke="#5e58ab" stroke-width="0.45"/>
<line x1="360.6" y1="147.2" x2="362.4" y2="147.2" stroke="#5e58ab" stroke-width="0.45"/>
<circle cx="361.5" cy="146.3" r="0.95" fill="#5e58ab"/>
<line x1="370.8" y1="143.9" x2="370.8" y2="144.5" stroke="#5e58ab" stroke-width="0.45"/>
<line x1="369.9" y1="143.9" x2="371.7" y2="143.9" stroke="#5e58ab" stroke-width="0.45"/>
<line x1="369.9" y1="144.5" x2="371.7" y2="144.5" stroke="#5e58ab" stroke-width="0.45"/>
<circle cx="370.8" cy="144.2" r="0.95" fill="#5e58ab"/>
<line x1="380.2" y1="143.6" x2="380.2" y2="144.2" stroke="#5e58ab" stroke-width="0.45"/>
<line x1="379.3" y1="143.6" x2="381.1" y2="143.6" stroke="#5e58ab" stroke-width="0.45"/>
<line x1="379.3" y1="144.2" x2="381.1" y2="144.2" stroke="#5e58ab" stroke-width="0.45"/>
<circle cx="380.2" cy="143.9" r="0.95" fill="#5e58ab"/>
<line x1="389.4" y1="143.3" x2="389.4" y2="143.9" stroke="#5e58ab" stroke-width="0.45"/>
<line x1="388.5" y1="143.3" x2="390.3" y2="143.3" stroke="#5e58ab" stroke-width="0.45"/>
<line x1="388.5" y1="143.9" x2="390.3" y2="143.9" stroke="#5e58ab" stroke-width="0.45"/>
<circle cx="389.4" cy="143.6" r="0.95" fill="#5e58ab"/>
<line x1="400.3" y1="170.3" x2="400.3" y2="172.1" stroke="#5e58ab" stroke-width="0.45"/>
<line x1="399.4" y1="170.3" x2="401.2" y2="170.3" stroke="#5e58ab" stroke-width="0.45"/>
<line x1="399.4" y1="172.1" x2="401.2" y2="172.1" stroke="#5e58ab" stroke-width="0.45"/>
<circle cx="400.3" cy="171.2" r="0.95" fill="#5e58ab"/>
<line x1="404.5" y1="173.3" x2="404.5" y2="175.1" stroke="#5e58ab" stroke-width="0.45"/>
<line x1="403.6" y1="173.3" x2="405.4" y2="173.3" stroke="#5e58ab" stroke-width="0.45"/>
<line x1="403.6" y1="175.1" x2="405.4" y2="175.1" stroke="#5e58ab" stroke-width="0.45"/>
<circle cx="404.5" cy="174.2" r="0.95" fill="#5e58ab"/>
<line x1="408.7" y1="170.6" x2="408.7" y2="173" stroke="#5e58ab" stroke-width="0.45"/>
<line x1="407.8" y1="170.6" x2="409.6" y2="170.6" stroke="#5e58ab" stroke-width="0.45"/>
<line x1="407.8" y1="173" x2="409.6" y2="173" stroke="#5e58ab" stroke-width="0.45"/>
<circle cx="408.7" cy="171.8" r="0.95" fill="#5e58ab"/>
<text transform="translate(373.2,128.1)" font-size="7.2" text-anchor="middle" fill="#231f20">UM9</text>
<text x="373.2" y="135.2" font-size="5.1" text-anchor="middle" fill="#231f20">EC<tspan font-size="3.5" dy="1">50</tspan><tspan dy="-1">=0.006 µg/mL</tspan></text>
<text transform="translate(317.9,160.5) rotate(-90) scale(0.79,1)" font-size="6.6" text-anchor="middle" fill="#231f20" stroke="#231f20" stroke-width="0.22">Lysis (%)</text>
<text transform="translate(373.2,217.8) scale(0.73,1)" font-size="7.0" text-anchor="middle" fill="#231f20" stroke="#231f20" stroke-width="0.1">Talquetamab (µg/mL)</text>
<line x1="434.8" y1="141" x2="434.8" y2="183.2" stroke="#231f20" stroke-width="1.1"/>
<text transform="translate(428.8,175.25)" font-size="4.8" text-anchor="end" fill="#231f20" stroke="#231f20" stroke-width="0.02">0</text>
<text transform="translate(428.8,167.75)" font-size="4.8" text-anchor="end" fill="#231f20" stroke="#231f20" stroke-width="0.02">25</text>
<text transform="translate(428.8,160.25)" font-size="4.8" text-anchor="end" fill="#231f20" stroke="#231f20" stroke-width="0.02">50</text>
<text transform="translate(428.8,152.75)" font-size="4.8" text-anchor="end" fill="#231f20" stroke="#231f20" stroke-width="0.02">75</text>
<text transform="translate(428.8,145.25)" font-size="4.8" text-anchor="end" fill="#231f20" stroke="#231f20" stroke-width="0.02">100</text>
<path d="M432.4,173.5L434.8,173.5 M432.4,166L434.8,166 M432.4,158.5L434.8,158.5 M432.4,151L434.8,151 M432.4,143.5L434.8,143.5" stroke="#231f20" stroke-width="0.85" fill="none"/>
<line x1="435.8" y1="173.5" x2="510.8" y2="173.5" stroke="#1a1a1a" stroke-width="0.75" stroke-dasharray="0.65 0.85"/>
<line x1="434.3" y1="182.7" x2="438.77" y2="182.7" stroke="#231f20" stroke-width="1.1"/>
<line x1="440.77" y1="182.7" x2="498" y2="182.7" stroke="#231f20" stroke-width="1.1"/>
<line x1="438.27" y1="183.9" x2="439.27" y2="181.5" stroke="#231f20" stroke-width="0.6"/>
<line x1="440.27" y1="183.9" x2="441.27" y2="181.5" stroke="#231f20" stroke-width="0.6"/>
<path d="M436.7,182.7L436.7,184.7 M443.3,182.7L443.3,184.7 M456.65,182.7L456.65,184.7 M470,182.7L470,184.7 M483.35,182.7L483.35,184.7 M496.7,182.7L496.7,184.7" stroke="#231f20" stroke-width="0.8" fill="none"/>
<path d="M453.14,182.7L453.14,184.2 M466.49,182.7L466.49,184.2 M479.84,182.7L479.84,184.2 M493.19,182.7L493.19,184.2" stroke="#231f20" stroke-width="0.7" fill="none"/>
<text transform="translate(440.3,191) rotate(-45)" font-size="5.2" text-anchor="end" fill="#231f20" stroke="#231f20" stroke-width="0.1">Solvent control</text>
<text transform="translate(446.9,191) rotate(-45)" font-size="5.2" text-anchor="end" fill="#231f20" stroke="#231f20" stroke-width="0.1">0.001</text>
<text transform="translate(460.25,191) rotate(-45)" font-size="5.2" text-anchor="end" fill="#231f20" stroke="#231f20" stroke-width="0.1">0.01</text>
<text transform="translate(473.6,191) rotate(-45)" font-size="5.2" text-anchor="end" fill="#231f20" stroke="#231f20" stroke-width="0.1">0.1</text>
<text transform="translate(486.95,191) rotate(-45)" font-size="5.2" text-anchor="end" fill="#231f20" stroke="#231f20" stroke-width="0.1">1</text>
<text transform="translate(500.3,191) rotate(-45)" font-size="5.2" text-anchor="end" fill="#231f20" stroke="#231f20" stroke-width="0.1">10</text>
<line x1="499.8" y1="182.7" x2="512" y2="182.7" stroke="#231f20" stroke-width="1.1"/>
<path d="M501.4,182.7L501.4,184.7 M505.6,182.7L505.6,184.7 M509.8,182.7L509.8,184.7" stroke="#231f20" stroke-width="0.6" fill="none"/>
<text transform="translate(502.9,188.3) rotate(-90) scale(0.97,1)" font-size="5.2" text-anchor="end" fill="#231f20">3930 (4)</text>
<text transform="translate(507.1,188.3) rotate(-90) scale(0.97,1)" font-size="5.2" text-anchor="end" fill="#231f20">7008 (4)</text>
<text transform="translate(511.3,188.3) rotate(-90) scale(0.97,1)" font-size="5.2" text-anchor="end" fill="#231f20">GCDB75 (4)</text>
<path d="M436.2,173.5 L444.7,174.4 L453.8,176.2 L463,179.8 L472.1,175.6 L481.6,173.5 L490.7,172" fill="none" stroke="#7a76c6" stroke-width="0.7"/>
<circle cx="436.2" cy="173.5" r="0.95" fill="#5e58ab"/>
<circle cx="444.7" cy="174.4" r="0.95" fill="#5e58ab"/>
<circle cx="453.8" cy="176.2" r="0.95" fill="#5e58ab"/>
<line x1="463" y1="177.4" x2="463" y2="182.2" stroke="#5e58ab" stroke-width="0.45"/>
<line x1="462.1" y1="177.4" x2="463.9" y2="177.4" stroke="#5e58ab" stroke-width="0.45"/>
<line x1="462.1" y1="182.2" x2="463.9" y2="182.2" stroke="#5e58ab" stroke-width="0.45"/>
<circle cx="463" cy="179.8" r="0.95" fill="#5e58ab"/>
<circle cx="472.1" cy="175.6" r="0.95" fill="#5e58ab"/>
<circle cx="481.6" cy="173.5" r="0.95" fill="#5e58ab"/>
<line x1="490.7" y1="169.9" x2="490.7" y2="174.1" stroke="#5e58ab" stroke-width="0.45"/>
<line x1="489.8" y1="169.9" x2="491.6" y2="169.9" stroke="#5e58ab" stroke-width="0.45"/>
<line x1="489.8" y1="174.1" x2="491.6" y2="174.1" stroke="#5e58ab" stroke-width="0.45"/>
<circle cx="490.7" cy="172" r="0.95" fill="#5e58ab"/>
<line x1="501.4" y1="176.5" x2="501.4" y2="182.5" stroke="#5e58ab" stroke-width="0.45"/>
<line x1="500.5" y1="176.5" x2="502.3" y2="176.5" stroke="#5e58ab" stroke-width="0.45"/>
<line x1="500.5" y1="182.5" x2="502.3" y2="182.5" stroke="#5e58ab" stroke-width="0.45"/>
<circle cx="501.4" cy="179.5" r="0.95" fill="#5e58ab"/>
<line x1="505.6" y1="166.6" x2="505.6" y2="169" stroke="#5e58ab" stroke-width="0.45"/>
<line x1="504.7" y1="166.6" x2="506.5" y2="166.6" stroke="#5e58ab" stroke-width="0.45"/>
<line x1="504.7" y1="169" x2="506.5" y2="169" stroke="#5e58ab" stroke-width="0.45"/>
<circle cx="505.6" cy="167.8" r="0.95" fill="#5e58ab"/>
<circle cx="509.8" cy="175.6" r="0.95" fill="#5e58ab"/>
<text transform="translate(474.3,135.5)" font-size="7.2" text-anchor="middle" fill="#231f20">Raji</text>
<text transform="translate(419,161.3) rotate(-90) scale(0.79,1)" font-size="6.6" text-anchor="middle" fill="#231f20" stroke="#231f20" stroke-width="0.22">Lysis (%)</text>
<text transform="translate(474.3,217.8) scale(0.73,1)" font-size="7.0" text-anchor="middle" fill="#231f20" stroke="#231f20" stroke-width="0.1">Talquetamab (µg/mL)</text>
<text transform="translate(6.7,235)" font-size="10.4" font-weight="bold" fill="#231f20" stroke="#231f20" stroke-width="0.3">C</text>
<line x1="35.2" y1="246.5" x2="35.2" y2="289" stroke="#231f20" stroke-width="1.1"/>
<text transform="translate(29.2,281.45)" font-size="4.8" text-anchor="end" fill="#231f20" stroke="#231f20" stroke-width="0.02">0</text>
<text transform="translate(29.2,273.9)" font-size="4.8" text-anchor="end" fill="#231f20" stroke="#231f20" stroke-width="0.02">25</text>
<text transform="translate(29.2,266.35)" font-size="4.8" text-anchor="end" fill="#231f20" stroke="#231f20" stroke-width="0.02">50</text>
<text transform="translate(29.2,258.8)" font-size="4.8" text-anchor="end" fill="#231f20" stroke="#231f20" stroke-width="0.02">75</text>
<text transform="translate(29.2,251.25)" font-size="4.8" text-anchor="end" fill="#231f20" stroke="#231f20" stroke-width="0.02">100</text>
<path d="M32.8,279.7L35.2,279.7 M32.8,272.15L35.2,272.15 M32.8,264.6L35.2,264.6 M32.8,257.05L35.2,257.05 M32.8,249.5L35.2,249.5" stroke="#231f20" stroke-width="0.85" fill="none"/>
<line x1="36.2" y1="279.7" x2="111.3" y2="279.7" stroke="#1a1a1a" stroke-width="0.75" stroke-dasharray="0.65 0.85"/>
<line x1="34.7" y1="288.5" x2="42.47" y2="288.5" stroke="#231f20" stroke-width="1.1"/>
<line x1="44.47" y1="288.5" x2="111.3" y2="288.5" stroke="#231f20" stroke-width="1.1"/>
<line x1="42.47" y1="289.8" x2="42.47" y2="287.2" stroke="#231f20" stroke-width="0.6"/>
<line x1="44.47" y1="289.8" x2="44.47" y2="287.2" stroke="#231f20" stroke-width="0.6"/>
<path d="M39,288.5L39,290.5 M48.7,288.5L48.7,290.5 M64.1,288.5L64.1,290.5 M79.5,288.5L79.5,290.5 M94.9,288.5L94.9,290.5 M110.3,288.5L110.3,290.5" stroke="#231f20" stroke-width="0.8" fill="none"/>
<path d="M60.05,288.5L60.05,290 M75.45,288.5L75.45,290 M90.85,288.5L90.85,290 M106.25,288.5L106.25,290" stroke="#231f20" stroke-width="0.7" fill="none"/>
<text transform="translate(41.4,297.1) rotate(-45)" font-size="5.2" text-anchor="end" fill="#231f20" stroke="#231f20" stroke-width="0.1">Solvent control</text>
<text transform="translate(51.1,297.1) rotate(-45)" font-size="5.2" text-anchor="end" fill="#231f20" stroke="#231f20" stroke-width="0.1">0.001</text>
<text transform="translate(66.5,297.1) rotate(-45)" font-size="5.2" text-anchor="end" fill="#231f20" stroke="#231f20" stroke-width="0.1">0.01</text>
<text transform="translate(81.9,297.1) rotate(-45)" font-size="5.2" text-anchor="end" fill="#231f20" stroke="#231f20" stroke-width="0.1">0.1</text>
<text transform="translate(97.3,297.1) rotate(-45)" font-size="5.2" text-anchor="end" fill="#231f20" stroke="#231f20" stroke-width="0.1">1</text>
<text transform="translate(112.7,297.1) rotate(-45)" font-size="5.2" text-anchor="end" fill="#231f20" stroke="#231f20" stroke-width="0.1">10</text>
<path d="M45,278.96 L45.99,278.93 L46.97,278.88 L47.96,278.82 L48.94,278.75 L49.93,278.66 L50.92,278.54 L51.9,278.4 L52.89,278.21 L53.88,277.98 L54.86,277.69 L55.85,277.34 L56.83,276.9 L57.82,276.37 L58.81,275.73 L59.79,274.96 L60.78,274.06 L61.77,273.01 L62.75,271.83 L63.74,270.51 L64.72,269.09 L65.71,267.59 L66.7,266.05 L67.68,264.52 L68.67,263.04 L69.65,261.64 L70.64,260.36 L71.63,259.21 L72.61,258.21 L73.6,257.34 L74.59,256.61 L75.57,256 L76.56,255.49 L77.54,255.08 L78.53,254.74 L79.52,254.47 L80.5,254.26 L81.49,254.08 L82.48,253.95 L83.46,253.84 L84.45,253.75 L85.43,253.68 L86.42,253.63 L87.41,253.58 L88.39,253.55 L89.38,253.52 L90.36,253.5 L91.35,253.49 L92.34,253.47 L93.32,253.46 L94.31,253.46 L95.3,253.45 L96.28,253.44 L97.27,253.44 L98.25,253.44 L99.24,253.43 L100.23,253.43 L101.21,253.43 L102.2,253.43 L103.19,253.43 L104.17,253.43" fill="none" stroke="#3a5caa" stroke-width="0.75"/>
<line x1="61.12" y1="273.36" x2="61.12" y2="273.96" stroke="#1f3b8c" stroke-width="0.5"/>
<line x1="60.12" y1="273.36" x2="62.12" y2="273.36" stroke="#1f3b8c" stroke-width="0.5"/>
<line x1="60.12" y1="273.96" x2="62.12" y2="273.96" stroke="#1f3b8c" stroke-width="0.5"/>
<line x1="71.88" y1="257.96" x2="71.88" y2="259.77" stroke="#1f3b8c" stroke-width="0.5"/>
<line x1="70.88" y1="257.96" x2="72.88" y2="257.96" stroke="#1f3b8c" stroke-width="0.5"/>
<line x1="70.88" y1="259.77" x2="72.88" y2="259.77" stroke="#1f3b8c" stroke-width="0.5"/>
<line x1="82.64" y1="252.97" x2="82.64" y2="255.39" stroke="#1f3b8c" stroke-width="0.5"/>
<line x1="81.64" y1="252.97" x2="83.64" y2="252.97" stroke="#1f3b8c" stroke-width="0.5"/>
<line x1="81.64" y1="255.39" x2="83.64" y2="255.39" stroke="#1f3b8c" stroke-width="0.5"/>
<line x1="93.41" y1="252.22" x2="93.41" y2="254.63" stroke="#1f3b8c" stroke-width="0.5"/>
<line x1="92.41" y1="252.22" x2="94.41" y2="252.22" stroke="#1f3b8c" stroke-width="0.5"/>
<line x1="92.41" y1="254.63" x2="94.41" y2="254.63" stroke="#1f3b8c" stroke-width="0.5"/>
<line x1="104.17" y1="252.22" x2="104.17" y2="254.63" stroke="#1f3b8c" stroke-width="0.5"/>
<line x1="103.17" y1="252.22" x2="105.17" y2="252.22" stroke="#1f3b8c" stroke-width="0.5"/>
<line x1="103.17" y1="254.63" x2="105.17" y2="254.63" stroke="#1f3b8c" stroke-width="0.5"/>
<circle cx="39" cy="279.7" r="1.05" fill="#1f3b8c"/>
<circle cx="50.35" cy="278.79" r="1.05" fill="#1f3b8c"/>
<circle cx="61.12" cy="273.66" r="1.05" fill="#1f3b8c"/>
<circle cx="71.88" cy="258.86" r="1.05" fill="#1f3b8c"/>
<circle cx="82.64" cy="254.18" r="1.05" fill="#1f3b8c"/>
<circle cx="93.41" cy="253.43" r="1.05" fill="#1f3b8c"/>
<circle cx="104.17" cy="253.43" r="1.05" fill="#1f3b8c"/>
<path d="M45,279.05 L45.99,279.04 L46.97,279.02 L47.96,279 L48.94,278.97 L49.93,278.93 L50.92,278.87 L51.9,278.81 L52.89,278.72 L53.88,278.61 L54.86,278.47 L55.85,278.28 L56.83,278.05 L57.82,277.75 L58.81,277.37 L59.79,276.91 L60.78,276.34 L61.77,275.65 L62.75,274.83 L63.74,273.88 L64.72,272.81 L65.71,271.64 L66.7,270.4 L67.68,269.13 L68.67,267.88 L69.65,266.69 L70.64,265.59 L71.63,264.6 L72.61,263.75 L73.6,263.02 L74.59,262.41 L75.57,261.92 L76.56,261.52 L77.54,261.2 L78.53,260.95 L79.52,260.75 L80.5,260.59 L81.49,260.47 L82.48,260.38 L83.46,260.31 L84.45,260.25 L85.43,260.21 L86.42,260.18 L87.41,260.15 L88.39,260.13 L89.38,260.12 L90.36,260.11 L91.35,260.1 L92.34,260.09 L93.32,260.09 L94.31,260.08 L95.3,260.08 L96.28,260.08 L97.27,260.08 L98.25,260.07 L99.24,260.07 L100.23,260.07 L101.21,260.07 L102.2,260.07 L103.19,260.07 L104.17,260.07" fill="none" stroke="#cf2a4c" stroke-width="0.75"/>
<line x1="71.88" y1="264" x2="71.88" y2="264.6" stroke="#c4143c" stroke-width="0.5"/>
<line x1="70.88" y1="264" x2="72.88" y2="264" stroke="#c4143c" stroke-width="0.5"/>
<line x1="70.88" y1="264.6" x2="72.88" y2="264.6" stroke="#c4143c" stroke-width="0.5"/>
<line x1="82.64" y1="259.77" x2="82.64" y2="260.98" stroke="#c4143c" stroke-width="0.5"/>
<line x1="81.64" y1="259.77" x2="83.64" y2="259.77" stroke="#c4143c" stroke-width="0.5"/>
<line x1="81.64" y1="260.98" x2="83.64" y2="260.98" stroke="#c4143c" stroke-width="0.5"/>
<line x1="93.41" y1="259.47" x2="93.41" y2="260.67" stroke="#c4143c" stroke-width="0.5"/>
<line x1="92.41" y1="259.47" x2="94.41" y2="259.47" stroke="#c4143c" stroke-width="0.5"/>
<line x1="92.41" y1="260.67" x2="94.41" y2="260.67" stroke="#c4143c" stroke-width="0.5"/>
<line x1="104.17" y1="259.47" x2="104.17" y2="260.67" stroke="#c4143c" stroke-width="0.5"/>
<line x1="103.17" y1="259.47" x2="105.17" y2="259.47" stroke="#c4143c" stroke-width="0.5"/>
<line x1="103.17" y1="260.67" x2="105.17" y2="260.67" stroke="#c4143c" stroke-width="0.5"/>
<circle cx="39" cy="279.7" r="1.05" fill="#c4143c"/>
<circle cx="50.35" cy="278.79" r="1.05" fill="#c4143c"/>
<circle cx="61.12" cy="276.08" r="1.05" fill="#c4143c"/>
<circle cx="71.88" cy="264.3" r="1.05" fill="#c4143c"/>
<circle cx="82.64" cy="260.37" r="1.05" fill="#c4143c"/>
<circle cx="93.41" cy="260.07" r="1.05" fill="#c4143c"/>
<circle cx="104.17" cy="260.07" r="1.05" fill="#c4143c"/>
<path d="M45,279.04 L45.99,279.03 L46.97,279.01 L47.96,278.99 L48.94,278.96 L49.93,278.93 L50.92,278.89 L51.9,278.84 L52.89,278.77 L53.88,278.69 L54.86,278.6 L55.85,278.48 L56.83,278.33 L57.82,278.15 L58.81,277.93 L59.79,277.67 L60.78,277.36 L61.77,277 L62.75,276.58 L63.74,276.1 L64.72,275.55 L65.71,274.96 L66.7,274.31 L67.68,273.64 L68.67,272.94 L69.65,272.25 L70.64,271.57 L71.63,270.92 L72.61,270.32 L73.6,269.77 L74.59,269.28 L75.57,268.85 L76.56,268.48 L77.54,268.17 L78.53,267.9 L79.52,267.68 L80.5,267.5 L81.49,267.35 L82.48,267.22 L83.46,267.12 L84.45,267.04 L85.43,266.98 L86.42,266.93 L87.41,266.88 L88.39,266.85 L89.38,266.82 L90.36,266.8 L91.35,266.78 L92.34,266.77 L93.32,266.76 L94.31,266.75 L95.3,266.74 L96.28,266.74 L97.27,266.73 L98.25,266.73 L99.24,266.73 L100.23,266.72 L101.21,266.72 L102.2,266.72 L103.19,266.72 L104.17,266.72" fill="none" stroke="#2f6b4a" stroke-width="0.75"/>
<line x1="71.88" y1="270.49" x2="71.88" y2="271.09" stroke="#1d5a3a" stroke-width="0.5"/>
<line x1="70.88" y1="270.49" x2="72.88" y2="270.49" stroke="#1d5a3a" stroke-width="0.5"/>
<line x1="70.88" y1="271.09" x2="72.88" y2="271.09" stroke="#1d5a3a" stroke-width="0.5"/>
<line x1="82.64" y1="267.32" x2="82.64" y2="268.53" stroke="#1d5a3a" stroke-width="0.5"/>
<line x1="81.64" y1="267.32" x2="83.64" y2="267.32" stroke="#1d5a3a" stroke-width="0.5"/>
<line x1="81.64" y1="268.53" x2="83.64" y2="268.53" stroke="#1d5a3a" stroke-width="0.5"/>
<line x1="93.41" y1="266.71" x2="93.41" y2="267.92" stroke="#1d5a3a" stroke-width="0.5"/>
<line x1="92.41" y1="266.71" x2="94.41" y2="266.71" stroke="#1d5a3a" stroke-width="0.5"/>
<line x1="92.41" y1="267.92" x2="94.41" y2="267.92" stroke="#1d5a3a" stroke-width="0.5"/>
<line x1="104.17" y1="265.81" x2="104.17" y2="267.02" stroke="#1d5a3a" stroke-width="0.5"/>
<line x1="103.17" y1="265.81" x2="105.17" y2="265.81" stroke="#1d5a3a" stroke-width="0.5"/>
<line x1="103.17" y1="267.02" x2="105.17" y2="267.02" stroke="#1d5a3a" stroke-width="0.5"/>
<circle cx="39" cy="279.7" r="1.05" fill="#1d5a3a"/>
<circle cx="50.35" cy="278.79" r="1.05" fill="#1d5a3a"/>
<circle cx="61.12" cy="277.28" r="1.05" fill="#1d5a3a"/>
<circle cx="71.88" cy="270.79" r="1.05" fill="#1d5a3a"/>
<circle cx="82.64" cy="267.92" r="1.05" fill="#1d5a3a"/>
<circle cx="93.41" cy="267.32" r="1.05" fill="#1d5a3a"/>
<circle cx="104.17" cy="266.41" r="1.05" fill="#1d5a3a"/>
<path d="M45,279.08 L45.99,279.08 L46.97,279.07 L47.96,279.07 L48.94,279.06 L49.93,279.05 L50.92,279.05 L51.9,279.03 L52.89,279.02 L53.88,279 L54.86,278.98 L55.85,278.95 L56.83,278.92 L57.82,278.88 L58.81,278.83 L59.79,278.77 L60.78,278.7 L61.77,278.61 L62.75,278.5 L63.74,278.38 L64.72,278.23 L65.71,278.05 L66.7,277.84 L67.68,277.6 L68.67,277.33 L69.65,277.02 L70.64,276.68 L71.63,276.31 L72.61,275.92 L73.6,275.51 L74.59,275.09 L75.57,274.67 L76.56,274.26 L77.54,273.86 L78.53,273.5 L79.52,273.16 L80.5,272.85 L81.49,272.58 L82.48,272.34 L83.46,272.13 L84.45,271.96 L85.43,271.81 L86.42,271.68 L87.41,271.58 L88.39,271.49 L89.38,271.42 L90.36,271.36 L91.35,271.31 L92.34,271.27 L93.32,271.24 L94.31,271.21 L95.3,271.19 L96.28,271.17 L97.27,271.15 L98.25,271.14 L99.24,271.13 L100.23,271.13 L101.21,271.12 L102.2,271.11 L103.19,271.11 L104.17,271.11" fill="none" stroke="#c3cd92" stroke-width="0.75"/>
<line x1="71.88" y1="275.89" x2="71.88" y2="276.5" stroke="#b5c27a" stroke-width="0.5"/>
<line x1="70.88" y1="275.89" x2="72.88" y2="275.89" stroke="#b5c27a" stroke-width="0.5"/>
<line x1="70.88" y1="276.5" x2="72.88" y2="276.5" stroke="#b5c27a" stroke-width="0.5"/>
<line x1="82.64" y1="271.7" x2="82.64" y2="272.9" stroke="#b5c27a" stroke-width="0.5"/>
<line x1="81.64" y1="271.7" x2="83.64" y2="271.7" stroke="#b5c27a" stroke-width="0.5"/>
<line x1="81.64" y1="272.9" x2="83.64" y2="272.9" stroke="#b5c27a" stroke-width="0.5"/>
<line x1="93.41" y1="270.64" x2="93.41" y2="271.85" stroke="#b5c27a" stroke-width="0.5"/>
<line x1="92.41" y1="270.64" x2="94.41" y2="270.64" stroke="#b5c27a" stroke-width="0.5"/>
<line x1="92.41" y1="271.85" x2="94.41" y2="271.85" stroke="#b5c27a" stroke-width="0.5"/>
<line x1="104.17" y1="270.79" x2="104.17" y2="272" stroke="#b5c27a" stroke-width="0.5"/>
<line x1="103.17" y1="270.79" x2="105.17" y2="270.79" stroke="#b5c27a" stroke-width="0.5"/>
<line x1="103.17" y1="272" x2="105.17" y2="272" stroke="#b5c27a" stroke-width="0.5"/>
<circle cx="39" cy="279.7" r="1.05" fill="#b5c27a"/>
<circle cx="50.35" cy="278.79" r="1.05" fill="#b5c27a"/>
<circle cx="61.12" cy="277.89" r="1.05" fill="#b5c27a"/>
<circle cx="71.88" cy="276.2" r="1.05" fill="#b5c27a"/>
<circle cx="82.64" cy="272.3" r="1.05" fill="#b5c27a"/>
<circle cx="93.41" cy="271.24" r="1.05" fill="#b5c27a"/>
<circle cx="104.17" cy="271.39" r="1.05" fill="#b5c27a"/>
<path d="M45,278.95 L45.99,278.93 L46.97,278.9 L47.96,278.87 L48.94,278.84 L49.93,278.8 L50.92,278.75 L51.9,278.71 L52.89,278.65 L53.88,278.59 L54.86,278.52 L55.85,278.44 L56.83,278.35 L57.82,278.26 L58.81,278.16 L59.79,278.04 L60.78,277.92 L61.77,277.79 L62.75,277.66 L63.74,277.51 L64.72,277.37 L65.71,277.21 L66.7,277.06 L67.68,276.9 L68.67,276.75 L69.65,276.6 L70.64,276.45 L71.63,276.3 L72.61,276.17 L73.6,276.04 L74.59,275.92 L75.57,275.81 L76.56,275.7 L77.54,275.61 L78.53,275.52 L79.52,275.45 L80.5,275.38 L81.49,275.31 L82.48,275.26 L83.46,275.21 L84.45,275.17 L85.43,275.13 L86.42,275.09 L87.41,275.06 L88.39,275.04 L89.38,275.02 L90.36,275 L91.35,274.98 L92.34,274.96 L93.32,274.95 L94.31,274.94 L95.3,274.93 L96.28,274.92 L97.27,274.91 L98.25,274.91 L99.24,274.9 L100.23,274.9 L101.21,274.89 L102.2,274.89 L103.19,274.89 L104.17,274.88" fill="none" stroke="#6cb955" stroke-width="0.75"/>
<line x1="82.64" y1="275.89" x2="82.64" y2="276.5" stroke="#4fa83a" stroke-width="0.5"/>
<line x1="81.64" y1="275.89" x2="83.64" y2="275.89" stroke="#4fa83a" stroke-width="0.5"/>
<line x1="81.64" y1="276.5" x2="83.64" y2="276.5" stroke="#4fa83a" stroke-width="0.5"/>
<line x1="93.41" y1="273.96" x2="93.41" y2="275.17" stroke="#4fa83a" stroke-width="0.5"/>
<line x1="92.41" y1="273.96" x2="94.41" y2="273.96" stroke="#4fa83a" stroke-width="0.5"/>
<line x1="92.41" y1="275.17" x2="94.41" y2="275.17" stroke="#4fa83a" stroke-width="0.5"/>
<line x1="104.17" y1="274.72" x2="104.17" y2="275.92" stroke="#4fa83a" stroke-width="0.5"/>
<line x1="103.17" y1="274.72" x2="105.17" y2="274.72" stroke="#4fa83a" stroke-width="0.5"/>
<line x1="103.17" y1="275.92" x2="105.17" y2="275.92" stroke="#4fa83a" stroke-width="0.5"/>
<circle cx="39" cy="279.7" r="1.05" fill="#4fa83a"/>
<circle cx="50.35" cy="278.49" r="1.05" fill="#4fa83a"/>
<circle cx="61.12" cy="277.71" r="1.05" fill="#4fa83a"/>
<circle cx="71.88" cy="276.68" r="1.05" fill="#4fa83a"/>
<circle cx="82.64" cy="276.2" r="1.05" fill="#4fa83a"/>
<circle cx="93.41" cy="274.57" r="1.05" fill="#4fa83a"/>
<circle cx="104.17" cy="275.32" r="1.05" fill="#4fa83a"/>
<text transform="translate(74.4,242.3)" font-size="7.2" text-anchor="middle" fill="#231f20">PB-MNC:MM cell ratios</text>
<circle cx="41.4" cy="249.5" r="1.05" fill="#1f3b8c"/>
<text transform="translate(46,251)" font-size="4.4" fill="#231f20" stroke="#231f20" stroke-width="0.08">10:1</text>
<circle cx="41.4" cy="255.4" r="1.05" fill="#c4143c"/>
<text transform="translate(46,256.9)" font-size="4.4" fill="#231f20" stroke="#231f20" stroke-width="0.08">3:1</text>
<circle cx="41.4" cy="261.3" r="1.05" fill="#1d5a3a"/>
<text transform="translate(46,262.8)" font-size="4.4" fill="#231f20" stroke="#231f20" stroke-width="0.08">1:1</text>
<circle cx="41.4" cy="267.2" r="1.05" fill="#b5c27a"/>
<text transform="translate(46,268.7)" font-size="4.4" fill="#231f20" stroke="#231f20" stroke-width="0.08">1:3</text>
<circle cx="41.4" cy="273.1" r="1.05" fill="#4fa83a"/>
<text transform="translate(46,274.6)" font-size="4.4" fill="#231f20" stroke="#231f20" stroke-width="0.08">1:10</text>
<text x="111.3" y="287" font-size="4.4" text-anchor="end" fill="#231f20"><tspan font-style="italic">P</tspan> &lt;0.0001</text>
<text transform="translate(16,262.8) rotate(-90) scale(0.79,1)" font-size="6.6" text-anchor="middle" fill="#231f20" stroke="#231f20" stroke-width="0.22">Lysis (%)</text>
<text transform="translate(73.8,316) scale(0.73,1)" font-size="7.0" text-anchor="middle" fill="#231f20" stroke="#231f20" stroke-width="0.1">Talquetamab (µg/mL)</text>
<text transform="translate(123.8,234.8)" font-size="10.4" font-weight="bold" fill="#231f20" stroke="#231f20" stroke-width="0.3">D</text>
<line x1="146.4" y1="247" x2="146.4" y2="289" stroke="#231f20" stroke-width="1.1"/>
<text transform="translate(140.4,286.75)" font-size="4.8" text-anchor="end" fill="#231f20" stroke="#231f20" stroke-width="0.02">0</text>
<text transform="translate(140.4,276.15)" font-size="4.8" text-anchor="end" fill="#231f20" stroke="#231f20" stroke-width="0.02">25</text>
<text transform="translate(140.4,265.55)" font-size="4.8" text-anchor="end" fill="#231f20" stroke="#231f20" stroke-width="0.02">50</text>
<text transform="translate(140.4,254.95)" font-size="4.8" text-anchor="end" fill="#231f20" stroke="#231f20" stroke-width="0.02">75</text>
<path d="M144,285L146.4,285 M144,274.4L146.4,274.4 M144,263.8L146.4,263.8 M144,253.2L146.4,253.2" stroke="#231f20" stroke-width="0.85" fill="none"/>
<line x1="147.4" y1="285" x2="221.7" y2="285" stroke="#1a1a1a" stroke-width="0.75" stroke-dasharray="0.65 0.85"/>
<line x1="145.9" y1="288.5" x2="152.88" y2="288.5" stroke="#231f20" stroke-width="1.1"/>
<line x1="154.88" y1="288.5" x2="221.7" y2="288.5" stroke="#231f20" stroke-width="1.1"/>
<line x1="152.88" y1="289.8" x2="152.88" y2="287.2" stroke="#231f20" stroke-width="0.6"/>
<line x1="154.88" y1="289.8" x2="154.88" y2="287.2" stroke="#231f20" stroke-width="0.6"/>
<path d="M149.5,288.5L149.5,290.5 M159,288.5L159,290.5 M174.45,288.5L174.45,290.5 M189.9,288.5L189.9,290.5 M205.35,288.5L205.35,290.5 M220.8,288.5L220.8,290.5" stroke="#231f20" stroke-width="0.8" fill="none"/>
<path d="M170.39,288.5L170.39,290 M185.84,288.5L185.84,290 M201.29,288.5L201.29,290 M216.74,288.5L216.74,290" stroke="#231f20" stroke-width="0.7" fill="none"/>
<text transform="translate(151.9,297.1) rotate(-45)" font-size="5.2" text-anchor="end" fill="#231f20" stroke="#231f20" stroke-width="0.1">Solvent control</text>
<text transform="translate(161.4,297.1) rotate(-45)" font-size="5.2" text-anchor="end" fill="#231f20" stroke="#231f20" stroke-width="0.1">0.001</text>
<text transform="translate(176.85,297.1) rotate(-45)" font-size="5.2" text-anchor="end" fill="#231f20" stroke="#231f20" stroke-width="0.1">0.01</text>
<text transform="translate(192.3,297.1) rotate(-45)" font-size="5.2" text-anchor="end" fill="#231f20" stroke="#231f20" stroke-width="0.1">0.1</text>
<text transform="translate(207.75,297.1) rotate(-45)" font-size="5.2" text-anchor="end" fill="#231f20" stroke="#231f20" stroke-width="0.1">1</text>
<text transform="translate(223.2,297.1) rotate(-45)" font-size="5.2" text-anchor="end" fill="#231f20" stroke="#231f20" stroke-width="0.1">10</text>
<path d="M160.66,280.31 L161.56,280.3 L162.46,280.29 L163.36,280.27 L164.26,280.24 L165.16,280.21 L166.06,280.17 L166.96,280.12 L167.86,280.04 L168.76,279.94 L169.66,279.81 L170.56,279.64 L171.46,279.41 L172.36,279.12 L173.26,278.74 L174.16,278.25 L175.06,277.65 L175.96,276.9 L176.86,276.01 L177.75,274.97 L178.65,273.81 L179.55,272.54 L180.45,271.24 L181.35,269.94 L182.25,268.7 L183.15,267.57 L184.05,266.57 L184.95,265.73 L185.85,265.02 L186.75,264.45 L187.65,264 L188.55,263.65 L189.45,263.38 L190.35,263.17 L191.25,263.01 L192.15,262.89 L193.05,262.8 L193.95,262.73 L194.85,262.68 L195.75,262.64 L196.65,262.61 L197.55,262.59 L198.45,262.57 L199.35,262.56 L200.25,262.55 L201.15,262.55 L202.05,262.54 L202.95,262.54 L203.85,262.54 L204.75,262.53 L205.65,262.53 L206.55,262.53 L207.45,262.53 L208.35,262.53 L209.25,262.53 L210.15,262.53 L211.05,262.53 L211.95,262.53 L212.85,262.53 L213.75,262.53 L214.65,262.53" fill="none" stroke="#6cbb4e" stroke-width="0.75"/>
<line x1="149.5" y1="280.34" x2="160.66" y2="280.55" stroke="#6cbb4e" stroke-width="0.7" stroke-dasharray="1.6 1.1"/>
<line x1="149.5" y1="279.49" x2="149.5" y2="281.18" stroke="#5aae3c" stroke-width="0.5"/>
<line x1="148.5" y1="279.49" x2="150.5" y2="279.49" stroke="#5aae3c" stroke-width="0.5"/>
<line x1="148.5" y1="281.18" x2="150.5" y2="281.18" stroke="#5aae3c" stroke-width="0.5"/>
<line x1="160.66" y1="279.7" x2="160.66" y2="281.4" stroke="#5aae3c" stroke-width="0.5"/>
<line x1="159.66" y1="279.7" x2="161.66" y2="279.7" stroke="#5aae3c" stroke-width="0.5"/>
<line x1="159.66" y1="281.4" x2="161.66" y2="281.4" stroke="#5aae3c" stroke-width="0.5"/>
<line x1="171.46" y1="279.06" x2="171.46" y2="280.76" stroke="#5aae3c" stroke-width="0.5"/>
<line x1="170.46" y1="279.06" x2="172.46" y2="279.06" stroke="#5aae3c" stroke-width="0.5"/>
<line x1="170.46" y1="280.76" x2="172.46" y2="280.76" stroke="#5aae3c" stroke-width="0.5"/>
<line x1="176.11" y1="275.67" x2="176.11" y2="277.37" stroke="#5aae3c" stroke-width="0.5"/>
<line x1="175.11" y1="275.67" x2="177.11" y2="275.67" stroke="#5aae3c" stroke-width="0.5"/>
<line x1="175.11" y1="277.37" x2="177.11" y2="277.37" stroke="#5aae3c" stroke-width="0.5"/>
<line x1="182.25" y1="265.5" x2="182.25" y2="269.74" stroke="#5aae3c" stroke-width="0.5"/>
<line x1="181.25" y1="265.5" x2="183.25" y2="265.5" stroke="#5aae3c" stroke-width="0.5"/>
<line x1="181.25" y1="269.74" x2="183.25" y2="269.74" stroke="#5aae3c" stroke-width="0.5"/>
<line x1="193.05" y1="262.1" x2="193.05" y2="262.95" stroke="#5aae3c" stroke-width="0.5"/>
<line x1="192.05" y1="262.1" x2="194.05" y2="262.1" stroke="#5aae3c" stroke-width="0.5"/>
<line x1="192.05" y1="262.95" x2="194.05" y2="262.95" stroke="#5aae3c" stroke-width="0.5"/>
<line x1="203.85" y1="262.1" x2="203.85" y2="262.95" stroke="#5aae3c" stroke-width="0.5"/>
<line x1="202.85" y1="262.1" x2="204.85" y2="262.1" stroke="#5aae3c" stroke-width="0.5"/>
<line x1="202.85" y1="262.95" x2="204.85" y2="262.95" stroke="#5aae3c" stroke-width="0.5"/>
<line x1="214.65" y1="262.1" x2="214.65" y2="262.95" stroke="#5aae3c" stroke-width="0.5"/>
<line x1="213.65" y1="262.1" x2="215.65" y2="262.1" stroke="#5aae3c" stroke-width="0.5"/>
<line x1="213.65" y1="262.95" x2="215.65" y2="262.95" stroke="#5aae3c" stroke-width="0.5"/>
<circle cx="149.5" cy="280.34" r="1.05" fill="#5aae3c"/>
<circle cx="160.66" cy="280.55" r="1.05" fill="#5aae3c"/>
<circle cx="171.46" cy="279.91" r="1.05" fill="#5aae3c"/>
<circle cx="176.11" cy="276.52" r="1.05" fill="#5aae3c"/>
<circle cx="182.25" cy="267.62" r="1.05" fill="#5aae3c"/>
<circle cx="193.05" cy="262.53" r="1.05" fill="#5aae3c"/>
<circle cx="203.85" cy="262.53" r="1.05" fill="#5aae3c"/>
<circle cx="214.65" cy="262.53" r="1.05" fill="#5aae3c"/>
<path d="M160.66,283.03 L161.56,283 L162.46,282.97 L163.36,282.93 L164.26,282.87 L165.16,282.79 L166.06,282.69 L166.96,282.54 L167.86,282.35 L168.76,282.09 L169.66,281.74 L170.56,281.28 L171.46,280.67 L172.36,279.88 L173.26,278.87 L174.16,277.61 L175.06,276.06 L175.96,274.21 L176.86,272.1 L177.75,269.77 L178.65,267.31 L179.55,264.84 L180.45,262.47 L181.35,260.29 L182.25,258.37 L183.15,256.74 L184.05,255.4 L184.95,254.33 L185.85,253.48 L186.75,252.83 L187.65,252.33 L188.55,251.96 L189.45,251.68 L190.35,251.47 L191.25,251.31 L192.15,251.19 L193.05,251.11 L193.95,251.04 L194.85,251 L195.75,250.96 L196.65,250.94 L197.55,250.92 L198.45,250.91 L199.35,250.9 L200.25,250.89 L201.15,250.88 L202.05,250.88 L202.95,250.88 L203.85,250.87 L204.75,250.87 L205.65,250.87 L206.55,250.87 L207.45,250.87 L208.35,250.87 L209.25,250.87 L210.15,250.87 L211.05,250.87 L211.95,250.87 L212.85,250.87 L213.75,250.87 L214.65,250.87" fill="none" stroke="#5f2d86" stroke-width="0.75"/>
<line x1="149.5" y1="282.88" x2="160.66" y2="283.09" stroke="#5f2d86" stroke-width="0.7" stroke-dasharray="1.6 1.1"/>
<line x1="149.5" y1="282.03" x2="149.5" y2="283.73" stroke="#4a1f6e" stroke-width="0.5"/>
<line x1="148.5" y1="282.03" x2="150.5" y2="282.03" stroke="#4a1f6e" stroke-width="0.5"/>
<line x1="148.5" y1="283.73" x2="150.5" y2="283.73" stroke="#4a1f6e" stroke-width="0.5"/>
<line x1="160.66" y1="282.67" x2="160.66" y2="283.52" stroke="#4a1f6e" stroke-width="0.5"/>
<line x1="159.66" y1="282.67" x2="161.66" y2="282.67" stroke="#4a1f6e" stroke-width="0.5"/>
<line x1="159.66" y1="283.52" x2="161.66" y2="283.52" stroke="#4a1f6e" stroke-width="0.5"/>
<line x1="171.46" y1="279.06" x2="171.46" y2="280.76" stroke="#4a1f6e" stroke-width="0.5"/>
<line x1="170.46" y1="279.06" x2="172.46" y2="279.06" stroke="#4a1f6e" stroke-width="0.5"/>
<line x1="170.46" y1="280.76" x2="172.46" y2="280.76" stroke="#4a1f6e" stroke-width="0.5"/>
<line x1="176.11" y1="269.31" x2="176.11" y2="272.7" stroke="#4a1f6e" stroke-width="0.5"/>
<line x1="175.11" y1="269.31" x2="177.11" y2="269.31" stroke="#4a1f6e" stroke-width="0.5"/>
<line x1="175.11" y1="272.7" x2="177.11" y2="272.7" stroke="#4a1f6e" stroke-width="0.5"/>
<line x1="182.25" y1="251.08" x2="182.25" y2="265.5" stroke="#4a1f6e" stroke-width="0.5"/>
<line x1="181.25" y1="251.08" x2="183.25" y2="251.08" stroke="#4a1f6e" stroke-width="0.5"/>
<line x1="181.25" y1="265.5" x2="183.25" y2="265.5" stroke="#4a1f6e" stroke-width="0.5"/>
<line x1="193.05" y1="248.96" x2="193.05" y2="253.2" stroke="#4a1f6e" stroke-width="0.5"/>
<line x1="192.05" y1="248.96" x2="194.05" y2="248.96" stroke="#4a1f6e" stroke-width="0.5"/>
<line x1="192.05" y1="253.2" x2="194.05" y2="253.2" stroke="#4a1f6e" stroke-width="0.5"/>
<line x1="203.85" y1="248.96" x2="203.85" y2="253.2" stroke="#4a1f6e" stroke-width="0.5"/>
<line x1="202.85" y1="248.96" x2="204.85" y2="248.96" stroke="#4a1f6e" stroke-width="0.5"/>
<line x1="202.85" y1="253.2" x2="204.85" y2="253.2" stroke="#4a1f6e" stroke-width="0.5"/>
<line x1="214.65" y1="248.32" x2="214.65" y2="252.56" stroke="#4a1f6e" stroke-width="0.5"/>
<line x1="213.65" y1="248.32" x2="215.65" y2="248.32" stroke="#4a1f6e" stroke-width="0.5"/>
<line x1="213.65" y1="252.56" x2="215.65" y2="252.56" stroke="#4a1f6e" stroke-width="0.5"/>
<circle cx="149.5" cy="282.88" r="1.05" fill="#4a1f6e"/>
<circle cx="160.66" cy="283.09" r="1.05" fill="#4a1f6e"/>
<circle cx="171.46" cy="279.91" r="1.05" fill="#4a1f6e"/>
<circle cx="176.11" cy="271.01" r="1.05" fill="#4a1f6e"/>
<circle cx="182.25" cy="258.29" r="1.05" fill="#4a1f6e"/>
<circle cx="193.05" cy="251.08" r="1.05" fill="#4a1f6e"/>
<circle cx="203.85" cy="251.08" r="1.05" fill="#4a1f6e"/>
<circle cx="214.65" cy="250.44" r="1.05" fill="#4a1f6e"/>
<circle cx="152.3" cy="249.2" r="1.05" fill="#4a1f6e"/>
<text x="156.1" y="250.7" font-size="4.3" fill="#231f20">CD8<tspan font-size="3.01" dy="-1.6">+</tspan></text>
<circle cx="152.3" cy="255.5" r="1.05" fill="#5aae3c"/>
<text x="156.1" y="257" font-size="4.3" fill="#231f20">CD4<tspan font-size="3.01" dy="-1.6">+</tspan></text>
<text transform="translate(184.8,242.3)" font-size="7.2" text-anchor="middle" letter-spacing="-0.13" fill="#231f20">T-cell activation</text>
<text transform="translate(129.0,267.9) rotate(-90) scale(0.714,1)" font-size="7.0" text-anchor="middle" fill="#231f20" stroke="#231f20" stroke-width="0.28">CD25<tspan font-size="4.4" dy="-2.6">+</tspan><tspan dy="2.6"> T-cells (%)</tspan></text>
<text transform="translate(184.6,316) scale(0.73,1)" font-size="7.0" text-anchor="middle" fill="#231f20" stroke="#231f20" stroke-width="0.1">Talquetamab (µg/mL)</text>
<line x1="253" y1="247" x2="253" y2="289" stroke="#231f20" stroke-width="1.1"/>
<text transform="translate(247,286.75)" font-size="4.8" text-anchor="end" fill="#231f20" stroke="#231f20" stroke-width="0.02">0</text>
<text transform="translate(247,272)" font-size="4.8" text-anchor="end" fill="#231f20" stroke="#231f20" stroke-width="0.02">25</text>
<text transform="translate(247,257.25)" font-size="4.8" text-anchor="end" fill="#231f20" stroke="#231f20" stroke-width="0.02">50</text>
<path d="M250.6,285L253,285 M250.6,270.25L253,270.25 M250.6,255.5L253,255.5" stroke="#231f20" stroke-width="0.85" fill="none"/>
<line x1="254" y1="285" x2="330.4" y2="285" stroke="#1a1a1a" stroke-width="0.75" stroke-dasharray="0.65 0.85"/>
<line x1="252.5" y1="288.5" x2="259.75" y2="288.5" stroke="#231f20" stroke-width="1.1"/>
<line x1="261.75" y1="288.5" x2="330.4" y2="288.5" stroke="#231f20" stroke-width="1.1"/>
<line x1="259.75" y1="289.8" x2="259.75" y2="287.2" stroke="#231f20" stroke-width="0.6"/>
<line x1="261.75" y1="289.8" x2="261.75" y2="287.2" stroke="#231f20" stroke-width="0.6"/>
<path d="M256.6,288.5L256.6,290.5 M265.6,288.5L265.6,290.5 M281.05,288.5L281.05,290.5 M296.5,288.5L296.5,290.5 M311.95,288.5L311.95,290.5 M327.4,288.5L327.4,290.5" stroke="#231f20" stroke-width="0.8" fill="none"/>
<path d="M276.99,288.5L276.99,290 M292.44,288.5L292.44,290 M307.89,288.5L307.89,290 M323.34,288.5L323.34,290" stroke="#231f20" stroke-width="0.7" fill="none"/>
<text transform="translate(259,297.1) rotate(-45)" font-size="5.2" text-anchor="end" fill="#231f20" stroke="#231f20" stroke-width="0.1">Solvent control</text>
<text transform="translate(268,297.1) rotate(-45)" font-size="5.2" text-anchor="end" fill="#231f20" stroke="#231f20" stroke-width="0.1">0.001</text>
<text transform="translate(283.45,297.1) rotate(-45)" font-size="5.2" text-anchor="end" fill="#231f20" stroke="#231f20" stroke-width="0.1">0.01</text>
<text transform="translate(298.9,297.1) rotate(-45)" font-size="5.2" text-anchor="end" fill="#231f20" stroke="#231f20" stroke-width="0.1">0.1</text>
<text transform="translate(314.35,297.1) rotate(-45)" font-size="5.2" text-anchor="end" fill="#231f20" stroke="#231f20" stroke-width="0.1">1</text>
<text transform="translate(329.8,297.1) rotate(-45)" font-size="5.2" text-anchor="end" fill="#231f20" stroke="#231f20" stroke-width="0.1">10</text>
<path d="M282.71,278.44 L283.35,278 L283.99,277.51 L284.63,276.96 L285.28,276.36 L285.92,275.72 L286.56,275.05 L287.2,274.38 L287.85,273.71 L288.49,273.06 L289.13,272.46 L289.77,271.9 L290.42,271.4 L291.06,270.96 L291.7,270.58 L292.34,270.26 L292.99,269.99 L293.63,269.76 L294.27,269.57 L294.91,269.42 L295.55,269.29 L296.2,269.19 L296.84,269.11 L297.48,269.04 L298.12,268.99 L298.77,268.94 L299.41,268.91 L300.05,268.88 L300.69,268.86 L301.34,268.84 L301.98,268.83 L302.62,268.82 L303.26,268.81 L303.91,268.8 L304.55,268.8 L305.19,268.79 L305.83,268.79 L306.48,268.79 L307.12,268.78 L307.76,268.78 L308.4,268.78 L309.05,268.78 L309.69,268.78 L310.33,268.78 L310.97,268.78 L311.62,268.78 L312.26,268.78 L312.9,268.78 L313.54,268.78 L314.19,268.78 L314.83,268.78 L315.47,268.78 L316.11,268.78 L316.75,268.78 L317.4,268.78 L318.04,268.78 L318.68,268.78 L319.32,268.78 L319.97,268.78 L320.61,268.78 L321.25,268.78" fill="none" stroke="#6cbb4e" stroke-width="0.75"/>
<line x1="267.26" y1="280.28" x2="267.26" y2="281.46" stroke="#5aae3c" stroke-width="0.5"/>
<line x1="266.26" y1="280.28" x2="268.26" y2="280.28" stroke="#5aae3c" stroke-width="0.5"/>
<line x1="266.26" y1="281.46" x2="268.26" y2="281.46" stroke="#5aae3c" stroke-width="0.5"/>
<line x1="278.06" y1="278.51" x2="278.06" y2="279.69" stroke="#5aae3c" stroke-width="0.5"/>
<line x1="277.06" y1="278.51" x2="279.06" y2="278.51" stroke="#5aae3c" stroke-width="0.5"/>
<line x1="277.06" y1="279.69" x2="279.06" y2="279.69" stroke="#5aae3c" stroke-width="0.5"/>
<line x1="282.71" y1="278.51" x2="282.71" y2="280.87" stroke="#5aae3c" stroke-width="0.5"/>
<line x1="281.71" y1="278.51" x2="283.71" y2="278.51" stroke="#5aae3c" stroke-width="0.5"/>
<line x1="281.71" y1="280.87" x2="283.71" y2="280.87" stroke="#5aae3c" stroke-width="0.5"/>
<line x1="288.85" y1="270.25" x2="288.85" y2="273.79" stroke="#5aae3c" stroke-width="0.5"/>
<line x1="287.85" y1="270.25" x2="289.85" y2="270.25" stroke="#5aae3c" stroke-width="0.5"/>
<line x1="287.85" y1="273.79" x2="289.85" y2="273.79" stroke="#5aae3c" stroke-width="0.5"/>
<line x1="299.65" y1="267.3" x2="299.65" y2="269.66" stroke="#5aae3c" stroke-width="0.5"/>
<line x1="298.65" y1="267.3" x2="300.65" y2="267.3" stroke="#5aae3c" stroke-width="0.5"/>
<line x1="298.65" y1="269.66" x2="300.65" y2="269.66" stroke="#5aae3c" stroke-width="0.5"/>
<line x1="310.45" y1="267.3" x2="310.45" y2="269.66" stroke="#5aae3c" stroke-width="0.5"/>
<line x1="309.45" y1="267.3" x2="311.45" y2="267.3" stroke="#5aae3c" stroke-width="0.5"/>
<line x1="309.45" y1="269.66" x2="311.45" y2="269.66" stroke="#5aae3c" stroke-width="0.5"/>
<line x1="321.25" y1="267.89" x2="321.25" y2="271.43" stroke="#5aae3c" stroke-width="0.5"/>
<line x1="320.25" y1="267.89" x2="322.25" y2="267.89" stroke="#5aae3c" stroke-width="0.5"/>
<line x1="320.25" y1="271.43" x2="322.25" y2="271.43" stroke="#5aae3c" stroke-width="0.5"/>
<circle cx="267.26" cy="280.87" r="1.05" fill="#5aae3c"/>
<circle cx="278.06" cy="279.1" r="1.05" fill="#5aae3c"/>
<circle cx="282.71" cy="279.69" r="1.05" fill="#5aae3c"/>
<circle cx="288.85" cy="272.02" r="1.05" fill="#5aae3c"/>
<circle cx="299.65" cy="268.48" r="1.05" fill="#5aae3c"/>
<circle cx="310.45" cy="268.48" r="1.05" fill="#5aae3c"/>
<circle cx="321.25" cy="269.66" r="1.05" fill="#5aae3c"/>
<path d="M267.26,280.54 L268.16,280.52 L269.06,280.5 L269.96,280.48 L270.86,280.44 L271.76,280.39 L272.66,280.33 L273.56,280.24 L274.46,280.12 L275.36,279.96 L276.26,279.74 L277.16,279.46 L278.06,279.07 L278.96,278.57 L279.86,277.92 L280.76,277.09 L281.66,276.04 L282.56,274.76 L283.46,273.23 L284.35,271.47 L285.25,269.54 L286.15,267.49 L287.05,265.43 L287.95,263.45 L288.85,261.63 L289.75,260.03 L290.65,258.66 L291.55,257.54 L292.45,256.64 L293.35,255.93 L294.25,255.38 L295.15,254.96 L296.05,254.65 L296.95,254.41 L297.85,254.23 L298.75,254.1 L299.65,254 L300.55,253.93 L301.45,253.88 L302.35,253.84 L303.25,253.81 L304.15,253.79 L305.05,253.77 L305.95,253.76 L306.85,253.75 L307.75,253.75 L308.65,253.74 L309.55,253.74 L310.45,253.74 L311.35,253.74 L312.25,253.73 L313.15,253.73 L314.05,253.73 L314.95,253.73 L315.85,253.73 L316.75,253.73 L317.65,253.73 L318.55,253.73 L319.45,253.73 L320.35,253.73 L321.25,253.73" fill="none" stroke="#5f2d86" stroke-width="0.75"/>
<line x1="257.2" y1="280.28" x2="267.26" y2="280.87" stroke="#5f2d86" stroke-width="0.7" stroke-dasharray="1.6 1.1"/>
<line x1="257.2" y1="279.69" x2="257.2" y2="280.87" stroke="#4a1f6e" stroke-width="0.5"/>
<line x1="256.2" y1="279.69" x2="258.2" y2="279.69" stroke="#4a1f6e" stroke-width="0.5"/>
<line x1="256.2" y1="280.87" x2="258.2" y2="280.87" stroke="#4a1f6e" stroke-width="0.5"/>
<line x1="267.26" y1="280.28" x2="267.26" y2="281.46" stroke="#4a1f6e" stroke-width="0.5"/>
<line x1="266.26" y1="280.28" x2="268.26" y2="280.28" stroke="#4a1f6e" stroke-width="0.5"/>
<line x1="266.26" y1="281.46" x2="268.26" y2="281.46" stroke="#4a1f6e" stroke-width="0.5"/>
<line x1="278.06" y1="278.51" x2="278.06" y2="279.69" stroke="#4a1f6e" stroke-width="0.5"/>
<line x1="277.06" y1="278.51" x2="279.06" y2="278.51" stroke="#4a1f6e" stroke-width="0.5"/>
<line x1="277.06" y1="279.69" x2="279.06" y2="279.69" stroke="#4a1f6e" stroke-width="0.5"/>
<line x1="282.71" y1="272.02" x2="282.71" y2="275.56" stroke="#4a1f6e" stroke-width="0.5"/>
<line x1="281.71" y1="272.02" x2="283.71" y2="272.02" stroke="#4a1f6e" stroke-width="0.5"/>
<line x1="281.71" y1="275.56" x2="283.71" y2="275.56" stroke="#4a1f6e" stroke-width="0.5"/>
<line x1="288.85" y1="253.14" x2="288.85" y2="264.94" stroke="#4a1f6e" stroke-width="0.5"/>
<line x1="287.85" y1="253.14" x2="289.85" y2="253.14" stroke="#4a1f6e" stroke-width="0.5"/>
<line x1="287.85" y1="264.94" x2="289.85" y2="264.94" stroke="#4a1f6e" stroke-width="0.5"/>
<line x1="299.65" y1="251.37" x2="299.65" y2="257.27" stroke="#4a1f6e" stroke-width="0.5"/>
<line x1="298.65" y1="251.37" x2="300.65" y2="251.37" stroke="#4a1f6e" stroke-width="0.5"/>
<line x1="298.65" y1="257.27" x2="300.65" y2="257.27" stroke="#4a1f6e" stroke-width="0.5"/>
<line x1="310.45" y1="250.78" x2="310.45" y2="256.68" stroke="#4a1f6e" stroke-width="0.5"/>
<line x1="309.45" y1="250.78" x2="311.45" y2="250.78" stroke="#4a1f6e" stroke-width="0.5"/>
<line x1="309.45" y1="256.68" x2="311.45" y2="256.68" stroke="#4a1f6e" stroke-width="0.5"/>
<line x1="321.25" y1="250.19" x2="321.25" y2="256.09" stroke="#4a1f6e" stroke-width="0.5"/>
<line x1="320.25" y1="250.19" x2="322.25" y2="250.19" stroke="#4a1f6e" stroke-width="0.5"/>
<line x1="320.25" y1="256.09" x2="322.25" y2="256.09" stroke="#4a1f6e" stroke-width="0.5"/>
<circle cx="257.2" cy="280.28" r="1.05" fill="#4a1f6e"/>
<circle cx="267.26" cy="280.87" r="1.05" fill="#4a1f6e"/>
<circle cx="278.06" cy="279.1" r="1.05" fill="#4a1f6e"/>
<circle cx="282.71" cy="273.79" r="1.05" fill="#4a1f6e"/>
<circle cx="288.85" cy="259.04" r="1.05" fill="#4a1f6e"/>
<circle cx="299.65" cy="254.32" r="1.05" fill="#4a1f6e"/>
<circle cx="310.45" cy="253.73" r="1.05" fill="#4a1f6e"/>
<circle cx="321.25" cy="253.14" r="1.05" fill="#4a1f6e"/>
<circle cx="259.5" cy="249.2" r="1.05" fill="#4a1f6e"/>
<text x="263.3" y="250.7" font-size="4.3" fill="#231f20">CD8<tspan font-size="3.01" dy="-1.6">+</tspan></text>
<circle cx="259.5" cy="255.5" r="1.05" fill="#5aae3c"/>
<text x="263.3" y="257" font-size="4.3" fill="#231f20">CD4<tspan font-size="3.01" dy="-1.6">+</tspan></text>
<text transform="translate(292.5,242.3)" font-size="7.2" text-anchor="middle" letter-spacing="-0.15" fill="#231f20">T-cell degranulation</text>
<text transform="translate(236.8,267.6) rotate(-90) scale(0.686,1)" font-size="7.0" text-anchor="middle" fill="#231f20" stroke="#231f20" stroke-width="0.28">CD107a<tspan font-size="4.4" dy="-2.6">+</tspan><tspan dy="2.6"> T-cells (%)</tspan></text>
<text transform="translate(292.3,316) scale(0.73,1)" font-size="7.0" text-anchor="middle" fill="#231f20" stroke="#231f20" stroke-width="0.1">Talquetamab (µg/mL)</text>
<rect x="335.4" y="235.6" width="163.6" height="162.1" fill="none" stroke="#231f20" stroke-width="1"/>
<line x1="417.4" y1="235.6" x2="417.4" y2="397.7" stroke="#231f20" stroke-width="1.0"/>
<line x1="335.4" y1="316.4" x2="499" y2="316.4" stroke="#231f20" stroke-width="1.0"/>
<path d="M356.88,293.12 C357.4,292.81 359.06,291.77 360,291.25 C360.94,290.73 361.67,290.62 362.5,290 C363.33,289.38 364.17,288.44 365,287.5 C365.83,286.56 366.77,285.42 367.5,284.38 C368.23,283.33 368.85,282.4 369.38,281.25 C369.9,280.1 370.21,278.96 370.62,277.5 C371.04,276.04 371.46,274.58 371.88,272.5 C372.29,270.42 372.71,266.77 373.12,265 C373.54,263.23 374,262.71 374.38,261.88 C374.75,261.04 375.06,260.56 375.38,260 C375.69,259.44 376,258.29 376.25,258.5 C376.5,258.71 376.62,259.75 376.88,261.25 C377.12,262.75 377.44,265.21 377.75,267.5 C378.06,269.79 378.38,272.5 378.75,275 C379.12,277.5 379.58,280.42 380,282.5 C380.42,284.58 380.73,286.04 381.25,287.5 C381.77,288.96 382.5,290.31 383.12,291.25 C383.75,292.19 384.69,292.81 385,293.12 L385,293.1 L356.88,293.1 Z" fill="#a5aab6" stroke="none" stroke-width="0.8"/>
<path d="M358.75,293.12 C359.17,292.92 360.42,292.19 361.25,291.88 C362.08,291.56 362.92,291.56 363.75,291.25 C364.58,290.94 365.42,290.62 366.25,290 C367.08,289.38 367.92,288.54 368.75,287.5 C369.58,286.46 370.52,284.9 371.25,283.75 C371.98,282.6 372.6,281.35 373.12,280.62 C373.65,279.9 373.96,279.38 374.38,279.38 C374.79,279.38 375.21,280.31 375.62,280.62 C376.04,280.94 376.35,280.83 376.88,281.25 C377.4,281.67 378.12,282.4 378.75,283.12 C379.38,283.85 380.1,285 380.62,285.62 C381.15,286.25 381.46,286.77 381.88,286.88 C382.29,286.98 382.6,286.56 383.12,286.25 C383.65,285.94 384.27,285.52 385,285 C385.73,284.48 386.77,283.65 387.5,283.12 C388.23,282.6 388.85,282.29 389.38,281.88 C389.9,281.46 390.21,280.62 390.62,280.62 C391.04,280.62 391.46,282.08 391.88,281.88 C392.29,281.67 392.6,280.21 393.12,279.38 C393.65,278.54 394.44,277.15 395,276.88 C395.56,276.6 395.98,277.33 396.5,277.75 C397.02,278.17 397.65,278.69 398.12,279.38 C398.6,280.06 398.96,280.73 399.38,281.88 C399.79,283.02 400.21,284.69 400.62,286.25 C401.04,287.81 401.56,290.1 401.88,291.25 C402.19,292.4 402.4,292.81 402.5,293.12 L402.5,293.1 L358.75,293.1 Z" fill="rgba(109,169,69,0.5)" stroke="none" stroke-width="0.8"/>
<path d="M356.88,293.12 C357.4,292.81 359.06,291.77 360,291.25 C360.94,290.73 361.67,290.62 362.5,290 C363.33,289.38 364.17,288.44 365,287.5 C365.83,286.56 366.77,285.42 367.5,284.38 C368.23,283.33 368.85,282.4 369.38,281.25 C369.9,280.1 370.21,278.96 370.62,277.5 C371.04,276.04 371.46,274.58 371.88,272.5 C372.29,270.42 372.71,266.77 373.12,265 C373.54,263.23 374,262.71 374.38,261.88 C374.75,261.04 375.06,260.56 375.38,260 C375.69,259.44 376,258.29 376.25,258.5 C376.5,258.71 376.62,259.75 376.88,261.25 C377.12,262.75 377.44,265.21 377.75,267.5 C378.06,269.79 378.38,272.5 378.75,275 C379.12,277.5 379.58,280.42 380,282.5 C380.42,284.58 380.73,286.04 381.25,287.5 C381.77,288.96 382.5,290.31 383.12,291.25 C383.75,292.19 384.69,292.81 385,293.12" fill="none" stroke="#555b70" stroke-width="0.6"/>
<path d="M358.75,293.12 C359.17,292.92 360.42,292.19 361.25,291.88 C362.08,291.56 362.92,291.56 363.75,291.25 C364.58,290.94 365.42,290.62 366.25,290 C367.08,289.38 367.92,288.54 368.75,287.5 C369.58,286.46 370.52,284.9 371.25,283.75 C371.98,282.6 372.6,281.35 373.12,280.62 C373.65,279.9 373.96,279.38 374.38,279.38 C374.79,279.38 375.21,280.31 375.62,280.62 C376.04,280.94 376.35,280.83 376.88,281.25 C377.4,281.67 378.12,282.4 378.75,283.12 C379.38,283.85 380.1,285 380.62,285.62 C381.15,286.25 381.46,286.77 381.88,286.88 C382.29,286.98 382.6,286.56 383.12,286.25 C383.65,285.94 384.27,285.52 385,285 C385.73,284.48 386.77,283.65 387.5,283.12 C388.23,282.6 388.85,282.29 389.38,281.88 C389.9,281.46 390.21,280.62 390.62,280.62 C391.04,280.62 391.46,282.08 391.88,281.88 C392.29,281.67 392.6,280.21 393.12,279.38 C393.65,278.54 394.44,277.15 395,276.88 C395.56,276.6 395.98,277.33 396.5,277.75 C397.02,278.17 397.65,278.69 398.12,279.38 C398.6,280.06 398.96,280.73 399.38,281.88 C399.79,283.02 400.21,284.69 400.62,286.25 C401.04,287.81 401.56,290.1 401.88,291.25 C402.19,292.4 402.4,292.81 402.5,293.12" fill="none" stroke="#5aae3c" stroke-width="0.6"/>
<line x1="356.2" y1="255.6" x2="356.2" y2="293.6" stroke="#231f20" stroke-width="1.1"/>
<line x1="355.7" y1="293.1" x2="411.2" y2="293.1" stroke="#231f20" stroke-width="1.1"/>
<text transform="translate(352,294.7)" font-size="4.6" text-anchor="end" fill="#231f20" stroke="#231f20" stroke-width="0.04">0</text>
<text transform="translate(352,285.8)" font-size="4.6" text-anchor="end" fill="#231f20" stroke="#231f20" stroke-width="0.04">5</text>
<text transform="translate(352,277.2)" font-size="4.6" text-anchor="end" fill="#231f20" stroke="#231f20" stroke-width="0.04">10</text>
<text transform="translate(352,268.6)" font-size="4.6" text-anchor="end" fill="#231f20" stroke="#231f20" stroke-width="0.04">15</text>
<text transform="translate(352,259.6)" font-size="4.6" text-anchor="end" fill="#231f20" stroke="#231f20" stroke-width="0.04">21</text>
<text x="356.7" y="303.1" font-size="4.8" text-anchor="middle" fill="#231f20" stroke="#231f20" stroke-width="0.05">10<tspan font-size="3.55" dx="0.35" dy="-2.02">1</tspan></text>
<text x="367.1" y="303.1" font-size="4.8" text-anchor="middle" fill="#231f20" stroke="#231f20" stroke-width="0.05">10<tspan font-size="3.55" dx="0.35" dy="-2.02">2</tspan></text>
<text x="377.5" y="303.1" font-size="4.8" text-anchor="middle" fill="#231f20" stroke="#231f20" stroke-width="0.05">10<tspan font-size="3.55" dx="0.35" dy="-2.02">3</tspan></text>
<text x="387.9" y="303.1" font-size="4.8" text-anchor="middle" fill="#231f20" stroke="#231f20" stroke-width="0.05">10<tspan font-size="3.55" dx="0.35" dy="-2.02">4</tspan></text>
<text x="398.3" y="303.1" font-size="4.8" text-anchor="middle" fill="#231f20" stroke="#231f20" stroke-width="0.05">10<tspan font-size="3.55" dx="0.35" dy="-2.02">5</tspan></text>
<text x="408.7" y="303.1" font-size="4.8" text-anchor="middle" fill="#231f20" stroke="#231f20" stroke-width="0.05">10<tspan font-size="3.55" dx="0.35" dy="-2.02">6</tspan></text>
<path d="M354.2,293.1L356.2,293.1 M354.2,284.2L356.2,284.2 M354.2,275.6L356.2,275.6 M354.2,267L356.2,267 M354.2,258L356.2,258 M356.2,293.1L356.2,294.9 M366.6,293.1L366.6,294.9 M377,293.1L377,294.9 M387.4,293.1L387.4,294.9 M397.8,293.1L397.8,294.9 M408.2,293.1L408.2,294.9" stroke="#231f20" stroke-width="0.75" fill="none"/>
<path d="M355.1,290.68L356.2,290.68 M355.1,288.26L356.2,288.26 M355.1,285.84L356.2,285.84 M355.1,283.42L356.2,283.42 M355.1,281L356.2,281 M355.1,278.58L356.2,278.58 M355.1,276.16L356.2,276.16 M355.1,273.75L356.2,273.75 M355.1,271.33L356.2,271.33 M355.1,268.91L356.2,268.91 M355.1,266.49L356.2,266.49 M355.1,264.07L356.2,264.07 M355.1,261.65L356.2,261.65 M355.1,259.23L356.2,259.23 M355.1,256.81L356.2,256.81 M359.33,293.1L359.33,294.1 M361.16,293.1L361.16,294.1 M362.46,293.1L362.46,294.1 M363.47,293.1L363.47,294.1 M364.29,293.1L364.29,294.1 M364.99,293.1L364.99,294.1 M365.59,293.1L365.59,294.1 M366.12,293.1L366.12,294.1 M369.73,293.1L369.73,294.1 M371.56,293.1L371.56,294.1 M372.86,293.1L372.86,294.1 M373.87,293.1L373.87,294.1 M374.69,293.1L374.69,294.1 M375.39,293.1L375.39,294.1 M375.99,293.1L375.99,294.1 M376.52,293.1L376.52,294.1 M380.13,293.1L380.13,294.1 M381.96,293.1L381.96,294.1 M383.26,293.1L383.26,294.1 M384.27,293.1L384.27,294.1 M385.09,293.1L385.09,294.1 M385.79,293.1L385.79,294.1 M386.39,293.1L386.39,294.1 M386.92,293.1L386.92,294.1 M390.53,293.1L390.53,294.1 M392.36,293.1L392.36,294.1 M393.66,293.1L393.66,294.1 M394.67,293.1L394.67,294.1 M395.49,293.1L395.49,294.1 M396.19,293.1L396.19,294.1 M396.79,293.1L396.79,294.1 M397.32,293.1L397.32,294.1 M400.93,293.1L400.93,294.1 M402.76,293.1L402.76,294.1 M404.06,293.1L404.06,294.1 M405.07,293.1L405.07,294.1 M405.89,293.1L405.89,294.1 M406.59,293.1L406.59,294.1 M407.19,293.1L407.19,294.1 M407.72,293.1L407.72,294.1" stroke="#231f20" stroke-width="0.5" fill="none"/>
<text transform="translate(384.2,250.6)" font-size="7.0" text-anchor="middle" fill="#231f20">CD4+ T-cells</text>
<text transform="translate(384.2,310.6) scale(0.71,1)" font-size="6.7" text-anchor="middle" fill="#231f20" stroke="#231f20" stroke-width="0.15">CD25</text>
<path d="M434.25,293.12 C434.88,293.02 436.85,292.71 438,292.5 C439.15,292.29 440.4,292.29 441.12,291.88 C441.85,291.46 441.96,290.73 442.38,290 C442.79,289.27 443.25,288.12 443.62,287.5 C444,286.88 444.31,286.35 444.62,286.25 C444.94,286.15 445.19,286.98 445.5,286.88 C445.81,286.77 446.08,286.25 446.5,285.62 C446.92,285 447.5,283.75 448,283.12 C448.5,282.5 449.08,282.6 449.5,281.88 C449.92,281.15 450.12,279.69 450.5,278.75 C450.88,277.81 451.38,276.77 451.75,276.25 C452.12,275.73 452.44,275.52 452.75,275.62 C453.06,275.73 453.31,276.15 453.62,276.88 C453.94,277.6 454.27,278.65 454.62,280 C454.98,281.35 455.4,283.44 455.75,285 C456.1,286.56 456.42,288.12 456.75,289.38 C457.08,290.62 457.44,291.88 457.75,292.5 C458.06,293.12 458.48,293.02 458.62,293.12 L458.62,293.1 L434.25,293.1 Z" fill="#aaafb9" stroke="none" stroke-width="0.8"/>
<path d="M441.75,293.12 C442.27,292.92 444.04,292.29 444.88,291.88 C445.71,291.46 446.12,291.04 446.75,290.62 C447.38,290.21 448.1,289.79 448.62,289.38 C449.15,288.96 449.46,288.44 449.88,288.12 C450.29,287.81 450.71,287.81 451.12,287.5 C451.54,287.19 451.96,286.25 452.38,286.25 C452.79,286.25 453.25,287.08 453.62,287.5 C454,287.92 454.31,288.23 454.62,288.75 C454.94,289.27 455.19,290.1 455.5,290.62 C455.81,291.15 456.12,291.77 456.5,291.88 C456.88,291.98 457.19,291.52 457.75,291.25 C458.31,290.98 459.21,290.46 459.88,290.25 C460.54,290.04 461.12,290.25 461.75,290 C462.38,289.75 463.1,289.38 463.62,288.75 C464.15,288.12 464.56,287.19 464.88,286.25 C465.19,285.31 465.19,283.79 465.5,283.12 C465.81,282.46 466.33,282.56 466.75,282.25 C467.17,281.94 467.58,281.94 468,281.25 C468.42,280.56 468.83,279.58 469.25,278.12 C469.67,276.67 470.08,274.69 470.5,272.5 C470.92,270.31 471.38,267.08 471.75,265 C472.12,262.92 472.38,261.04 472.75,260 C473.12,258.96 473.58,259.06 474,258.75 C474.42,258.44 474.9,257.81 475.25,258.12 C475.6,258.44 475.83,259.48 476.12,260.62 C476.42,261.77 476.73,263.44 477,265 C477.27,266.56 477.52,267.92 477.75,270 C477.98,272.08 478.17,275 478.38,277.5 C478.58,280 478.79,282.92 479,285 C479.21,287.08 479.42,288.65 479.62,290 C479.83,291.35 480.15,292.6 480.25,293.12 L480.25,293.1 L441.75,293.1 Z" fill="rgba(81,41,101,0.5)" stroke="none" stroke-width="0.8"/>
<path d="M434.25,293.12 C434.88,293.02 436.85,292.71 438,292.5 C439.15,292.29 440.4,292.29 441.12,291.88 C441.85,291.46 441.96,290.73 442.38,290 C442.79,289.27 443.25,288.12 443.62,287.5 C444,286.88 444.31,286.35 444.62,286.25 C444.94,286.15 445.19,286.98 445.5,286.88 C445.81,286.77 446.08,286.25 446.5,285.62 C446.92,285 447.5,283.75 448,283.12 C448.5,282.5 449.08,282.6 449.5,281.88 C449.92,281.15 450.12,279.69 450.5,278.75 C450.88,277.81 451.38,276.77 451.75,276.25 C452.12,275.73 452.44,275.52 452.75,275.62 C453.06,275.73 453.31,276.15 453.62,276.88 C453.94,277.6 454.27,278.65 454.62,280 C454.98,281.35 455.4,283.44 455.75,285 C456.1,286.56 456.42,288.12 456.75,289.38 C457.08,290.62 457.44,291.88 457.75,292.5 C458.06,293.12 458.48,293.02 458.62,293.12" fill="none" stroke="#4a5060" stroke-width="0.6"/>
<path d="M441.75,293.12 C442.27,292.92 444.04,292.29 444.88,291.88 C445.71,291.46 446.12,291.04 446.75,290.62 C447.38,290.21 448.1,289.79 448.62,289.38 C449.15,288.96 449.46,288.44 449.88,288.12 C450.29,287.81 450.71,287.81 451.12,287.5 C451.54,287.19 451.96,286.25 452.38,286.25 C452.79,286.25 453.25,287.08 453.62,287.5 C454,287.92 454.31,288.23 454.62,288.75 C454.94,289.27 455.19,290.1 455.5,290.62 C455.81,291.15 456.12,291.77 456.5,291.88 C456.88,291.98 457.19,291.52 457.75,291.25 C458.31,290.98 459.21,290.46 459.88,290.25 C460.54,290.04 461.12,290.25 461.75,290 C462.38,289.75 463.1,289.38 463.62,288.75 C464.15,288.12 464.56,287.19 464.88,286.25 C465.19,285.31 465.19,283.79 465.5,283.12 C465.81,282.46 466.33,282.56 466.75,282.25 C467.17,281.94 467.58,281.94 468,281.25 C468.42,280.56 468.83,279.58 469.25,278.12 C469.67,276.67 470.08,274.69 470.5,272.5 C470.92,270.31 471.38,267.08 471.75,265 C472.12,262.92 472.38,261.04 472.75,260 C473.12,258.96 473.58,259.06 474,258.75 C474.42,258.44 474.9,257.81 475.25,258.12 C475.6,258.44 475.83,259.48 476.12,260.62 C476.42,261.77 476.73,263.44 477,265 C477.27,266.56 477.52,267.92 477.75,270 C477.98,272.08 478.17,275 478.38,277.5 C478.58,280 478.79,282.92 479,285 C479.21,287.08 479.42,288.65 479.62,290 C479.83,291.35 480.15,292.6 480.25,293.12" fill="none" stroke="#4b2170" stroke-width="0.6"/>
<line x1="433.3" y1="255.6" x2="433.3" y2="293.6" stroke="#231f20" stroke-width="1.1"/>
<line x1="432.8" y1="293.1" x2="488.6" y2="293.1" stroke="#231f20" stroke-width="1.1"/>
<text transform="translate(429.1,294.7)" font-size="4.6" text-anchor="end" fill="#231f20" stroke="#231f20" stroke-width="0.04">0</text>
<text transform="translate(429.1,285.8)" font-size="4.6" text-anchor="end" fill="#231f20" stroke="#231f20" stroke-width="0.04">3</text>
<text transform="translate(429.1,277.2)" font-size="4.6" text-anchor="end" fill="#231f20" stroke="#231f20" stroke-width="0.04">6</text>
<text transform="translate(429.1,268.6)" font-size="4.6" text-anchor="end" fill="#231f20" stroke="#231f20" stroke-width="0.04">9</text>
<text transform="translate(429.1,259.6)" font-size="4.6" text-anchor="end" fill="#231f20" stroke="#231f20" stroke-width="0.04">12</text>
<text x="433.8" y="303.1" font-size="4.8" text-anchor="middle" fill="#231f20" stroke="#231f20" stroke-width="0.05">10<tspan font-size="3.55" dx="0.35" dy="-2.02">1</tspan></text>
<text x="444.2" y="303.1" font-size="4.8" text-anchor="middle" fill="#231f20" stroke="#231f20" stroke-width="0.05">10<tspan font-size="3.55" dx="0.35" dy="-2.02">2</tspan></text>
<text x="454.6" y="303.1" font-size="4.8" text-anchor="middle" fill="#231f20" stroke="#231f20" stroke-width="0.05">10<tspan font-size="3.55" dx="0.35" dy="-2.02">3</tspan></text>
<text x="465" y="303.1" font-size="4.8" text-anchor="middle" fill="#231f20" stroke="#231f20" stroke-width="0.05">10<tspan font-size="3.55" dx="0.35" dy="-2.02">4</tspan></text>
<text x="475.4" y="303.1" font-size="4.8" text-anchor="middle" fill="#231f20" stroke="#231f20" stroke-width="0.05">10<tspan font-size="3.55" dx="0.35" dy="-2.02">5</tspan></text>
<text x="485.8" y="303.1" font-size="4.8" text-anchor="middle" fill="#231f20" stroke="#231f20" stroke-width="0.05">10<tspan font-size="3.55" dx="0.35" dy="-2.02">6</tspan></text>
<path d="M431.3,293.1L433.3,293.1 M431.3,284.2L433.3,284.2 M431.3,275.6L433.3,275.6 M431.3,267L433.3,267 M431.3,258L433.3,258 M433.3,293.1L433.3,294.9 M443.7,293.1L443.7,294.9 M454.1,293.1L454.1,294.9 M464.5,293.1L464.5,294.9 M474.9,293.1L474.9,294.9 M485.3,293.1L485.3,294.9" stroke="#231f20" stroke-width="0.75" fill="none"/>
<path d="M432.2,290.68L433.3,290.68 M432.2,288.26L433.3,288.26 M432.2,285.84L433.3,285.84 M432.2,283.42L433.3,283.42 M432.2,281L433.3,281 M432.2,278.58L433.3,278.58 M432.2,276.16L433.3,276.16 M432.2,273.75L433.3,273.75 M432.2,271.33L433.3,271.33 M432.2,268.91L433.3,268.91 M432.2,266.49L433.3,266.49 M432.2,264.07L433.3,264.07 M432.2,261.65L433.3,261.65 M432.2,259.23L433.3,259.23 M432.2,256.81L433.3,256.81 M436.43,293.1L436.43,294.1 M438.26,293.1L438.26,294.1 M439.56,293.1L439.56,294.1 M440.57,293.1L440.57,294.1 M441.39,293.1L441.39,294.1 M442.09,293.1L442.09,294.1 M442.69,293.1L442.69,294.1 M443.22,293.1L443.22,294.1 M446.83,293.1L446.83,294.1 M448.66,293.1L448.66,294.1 M449.96,293.1L449.96,294.1 M450.97,293.1L450.97,294.1 M451.79,293.1L451.79,294.1 M452.49,293.1L452.49,294.1 M453.09,293.1L453.09,294.1 M453.62,293.1L453.62,294.1 M457.23,293.1L457.23,294.1 M459.06,293.1L459.06,294.1 M460.36,293.1L460.36,294.1 M461.37,293.1L461.37,294.1 M462.19,293.1L462.19,294.1 M462.89,293.1L462.89,294.1 M463.49,293.1L463.49,294.1 M464.02,293.1L464.02,294.1 M467.63,293.1L467.63,294.1 M469.46,293.1L469.46,294.1 M470.76,293.1L470.76,294.1 M471.77,293.1L471.77,294.1 M472.59,293.1L472.59,294.1 M473.29,293.1L473.29,294.1 M473.89,293.1L473.89,294.1 M474.42,293.1L474.42,294.1 M478.03,293.1L478.03,294.1 M479.86,293.1L479.86,294.1 M481.16,293.1L481.16,294.1 M482.17,293.1L482.17,294.1 M482.99,293.1L482.99,294.1 M483.69,293.1L483.69,294.1 M484.29,293.1L484.29,294.1 M484.82,293.1L484.82,294.1" stroke="#231f20" stroke-width="0.5" fill="none"/>
<text transform="translate(461.45,250.6)" font-size="7.0" text-anchor="middle" fill="#231f20">CD8+ T-cells</text>
<text transform="translate(461.45,310.6) scale(0.71,1)" font-size="6.7" text-anchor="middle" fill="#231f20" stroke="#231f20" stroke-width="0.15">CD25</text>
<path d="M357.5,370.12 C358.33,370.06 361.25,369.96 362.5,369.75 C363.75,369.54 364.27,369.29 365,368.88 C365.73,368.46 366.25,367.56 366.88,367.25 C367.5,366.94 368.12,367.25 368.75,367 C369.38,366.75 370,366.17 370.62,365.75 C371.25,365.33 371.88,365.12 372.5,364.5 C373.12,363.88 373.75,362.83 374.38,362 C375,361.17 375.62,360.65 376.25,359.5 C376.88,358.35 377.5,356.69 378.12,355.12 C378.75,353.56 379.44,351.38 380,350.12 C380.56,348.88 381.04,348.88 381.5,347.62 C381.96,346.38 382.33,344.08 382.75,342.62 C383.17,341.17 383.62,339.6 384,338.88 C384.38,338.15 384.62,338.88 385,338.25 C385.38,337.62 385.83,334.92 386.25,335.12 C386.67,335.33 387.08,337.94 387.5,339.5 C387.92,341.06 388.38,342.83 388.75,344.5 C389.12,346.17 389.44,347.62 389.75,349.5 C390.06,351.38 390.33,353.88 390.62,355.75 C390.92,357.62 391.19,359.08 391.5,360.75 C391.81,362.42 392.17,364.4 392.5,365.75 C392.83,367.1 393.19,368.15 393.5,368.88 C393.81,369.6 394.23,369.92 394.38,370.12 L394.38,370.1 L357.5,370.1 Z" fill="#a5aab6" stroke="none" stroke-width="0.8"/>
<path d="M360,370.12 C360.62,370.02 362.5,369.81 363.75,369.5 C365,369.19 366.35,368.67 367.5,368.25 C368.65,367.83 369.69,367.52 370.62,367 C371.56,366.48 372.29,365.96 373.12,365.12 C373.96,364.29 374.85,363.15 375.62,362 C376.4,360.85 377.06,359.6 377.75,358.25 C378.44,356.9 379.12,355.33 379.75,353.88 C380.38,352.42 380.94,350.96 381.5,349.5 C382.06,348.04 382.58,346.58 383.12,345.12 C383.67,343.67 384.23,342.31 384.75,340.75 C385.27,339.19 385.83,336.48 386.25,335.75 C386.67,335.02 386.94,335.23 387.25,336.38 C387.56,337.52 387.71,341.06 388.12,342.62 C388.54,344.19 389.33,344.81 389.75,345.75 C390.17,346.69 390.33,347 390.62,348.25 C390.92,349.5 391.19,351.38 391.5,353.25 C391.81,355.12 392.17,357.62 392.5,359.5 C392.83,361.38 393.19,363.15 393.5,364.5 C393.81,365.85 394.08,366.69 394.38,367.62 C394.67,368.56 395.1,369.71 395.25,370.12 L395.25,370.1 L360,370.1 Z" fill="rgba(109,169,69,0.5)" stroke="none" stroke-width="0.8"/>
<path d="M357.5,370.12 C358.33,370.06 361.25,369.96 362.5,369.75 C363.75,369.54 364.27,369.29 365,368.88 C365.73,368.46 366.25,367.56 366.88,367.25 C367.5,366.94 368.12,367.25 368.75,367 C369.38,366.75 370,366.17 370.62,365.75 C371.25,365.33 371.88,365.12 372.5,364.5 C373.12,363.88 373.75,362.83 374.38,362 C375,361.17 375.62,360.65 376.25,359.5 C376.88,358.35 377.5,356.69 378.12,355.12 C378.75,353.56 379.44,351.38 380,350.12 C380.56,348.88 381.04,348.88 381.5,347.62 C381.96,346.38 382.33,344.08 382.75,342.62 C383.17,341.17 383.62,339.6 384,338.88 C384.38,338.15 384.62,338.88 385,338.25 C385.38,337.62 385.83,334.92 386.25,335.12 C386.67,335.33 387.08,337.94 387.5,339.5 C387.92,341.06 388.38,342.83 388.75,344.5 C389.12,346.17 389.44,347.62 389.75,349.5 C390.06,351.38 390.33,353.88 390.62,355.75 C390.92,357.62 391.19,359.08 391.5,360.75 C391.81,362.42 392.17,364.4 392.5,365.75 C392.83,367.1 393.19,368.15 393.5,368.88 C393.81,369.6 394.23,369.92 394.38,370.12" fill="none" stroke="#4f5a8a" stroke-width="0.6"/>
<path d="M360,370.12 C360.62,370.02 362.5,369.81 363.75,369.5 C365,369.19 366.35,368.67 367.5,368.25 C368.65,367.83 369.69,367.52 370.62,367 C371.56,366.48 372.29,365.96 373.12,365.12 C373.96,364.29 374.85,363.15 375.62,362 C376.4,360.85 377.06,359.6 377.75,358.25 C378.44,356.9 379.12,355.33 379.75,353.88 C380.38,352.42 380.94,350.96 381.5,349.5 C382.06,348.04 382.58,346.58 383.12,345.12 C383.67,343.67 384.23,342.31 384.75,340.75 C385.27,339.19 385.83,336.48 386.25,335.75 C386.67,335.02 386.94,335.23 387.25,336.38 C387.56,337.52 387.71,341.06 388.12,342.62 C388.54,344.19 389.33,344.81 389.75,345.75 C390.17,346.69 390.33,347 390.62,348.25 C390.92,349.5 391.19,351.38 391.5,353.25 C391.81,355.12 392.17,357.62 392.5,359.5 C392.83,361.38 393.19,363.15 393.5,364.5 C393.81,365.85 394.08,366.69 394.38,367.62 C394.67,368.56 395.1,369.71 395.25,370.12" fill="none" stroke="#5aae3c" stroke-width="0.6"/>
<line x1="356" y1="332.3" x2="356" y2="370.6" stroke="#231f20" stroke-width="1.1"/>
<line x1="355.5" y1="370.1" x2="411.2" y2="370.1" stroke="#231f20" stroke-width="1.1"/>
<text transform="translate(351.8,371.7)" font-size="4.6" text-anchor="end" fill="#231f20" stroke="#231f20" stroke-width="0.04">0</text>
<text transform="translate(351.8,362.9)" font-size="4.6" text-anchor="end" fill="#231f20" stroke="#231f20" stroke-width="0.04">4</text>
<text transform="translate(351.8,354.3)" font-size="4.6" text-anchor="end" fill="#231f20" stroke="#231f20" stroke-width="0.04">8</text>
<text transform="translate(351.8,345.3)" font-size="4.6" text-anchor="end" fill="#231f20" stroke="#231f20" stroke-width="0.04">11</text>
<text transform="translate(351.8,336.2)" font-size="4.6" text-anchor="end" fill="#231f20" stroke="#231f20" stroke-width="0.04">15</text>
<text x="356.5" y="380.1" font-size="4.8" text-anchor="middle" fill="#231f20" stroke="#231f20" stroke-width="0.05">10<tspan font-size="3.55" dx="0.35" dy="-2.02">2</tspan></text>
<text x="369.6" y="380.1" font-size="4.8" text-anchor="middle" fill="#231f20" stroke="#231f20" stroke-width="0.05">10<tspan font-size="3.55" dx="0.35" dy="-2.02">3</tspan></text>
<text x="382.7" y="380.1" font-size="4.8" text-anchor="middle" fill="#231f20" stroke="#231f20" stroke-width="0.05">10<tspan font-size="3.55" dx="0.35" dy="-2.02">4</tspan></text>
<text x="395.8" y="380.1" font-size="4.8" text-anchor="middle" fill="#231f20" stroke="#231f20" stroke-width="0.05">10<tspan font-size="3.55" dx="0.35" dy="-2.02">5</tspan></text>
<text x="408.9" y="380.1" font-size="4.8" text-anchor="middle" fill="#231f20" stroke="#231f20" stroke-width="0.05">10<tspan font-size="3.55" dx="0.35" dy="-2.02">6</tspan></text>
<path d="M354,370.1L356,370.1 M354,361.3L356,361.3 M354,352.7L356,352.7 M354,343.7L356,343.7 M354,334.6L356,334.6 M356,370.1L356,371.9 M369.1,370.1L369.1,371.9 M382.2,370.1L382.2,371.9 M395.3,370.1L395.3,371.9 M408.4,370.1L408.4,371.9" stroke="#231f20" stroke-width="0.75" fill="none"/>
<path d="M354.9,367.66L356,367.66 M354.9,365.22L356,365.22 M354.9,362.78L356,362.78 M354.9,360.35L356,360.35 M354.9,357.91L356,357.91 M354.9,355.47L356,355.47 M354.9,353.03L356,353.03 M354.9,350.59L356,350.59 M354.9,348.15L356,348.15 M354.9,345.71L356,345.71 M354.9,343.27L356,343.27 M354.9,340.84L356,340.84 M354.9,338.4L356,338.4 M354.9,335.96L356,335.96 M354.9,333.52L356,333.52 M359.94,370.1L359.94,371.1 M362.25,370.1L362.25,371.1 M363.89,370.1L363.89,371.1 M365.16,370.1L365.16,371.1 M366.19,370.1L366.19,371.1 M367.07,370.1L367.07,371.1 M367.83,370.1L367.83,371.1 M368.5,370.1L368.5,371.1 M373.04,370.1L373.04,371.1 M375.35,370.1L375.35,371.1 M376.99,370.1L376.99,371.1 M378.26,370.1L378.26,371.1 M379.29,370.1L379.29,371.1 M380.17,370.1L380.17,371.1 M380.93,370.1L380.93,371.1 M381.6,370.1L381.6,371.1 M386.14,370.1L386.14,371.1 M388.45,370.1L388.45,371.1 M390.09,370.1L390.09,371.1 M391.36,370.1L391.36,371.1 M392.39,370.1L392.39,371.1 M393.27,370.1L393.27,371.1 M394.03,370.1L394.03,371.1 M394.7,370.1L394.7,371.1 M399.24,370.1L399.24,371.1 M401.55,370.1L401.55,371.1 M403.19,370.1L403.19,371.1 M404.46,370.1L404.46,371.1 M405.49,370.1L405.49,371.1 M406.37,370.1L406.37,371.1 M407.13,370.1L407.13,371.1 M407.8,370.1L407.8,371.1" stroke="#231f20" stroke-width="0.5" fill="none"/>
<text transform="translate(384.1,327.6)" font-size="7.0" text-anchor="middle" fill="#231f20">CD4+ T-cells</text>
<text transform="translate(384.1,387.2) scale(0.71,1)" font-size="6.7" text-anchor="middle" fill="#231f20" stroke="#231f20" stroke-width="0.15">CD107a</text>
<path d="M445.5,370.12 C445.92,369.98 446.92,369.85 448,369.25 C449.08,368.65 450.8,367.49 452,366.5 C453.2,365.51 454.13,364.57 455.2,363.3 C456.27,362.03 457.47,360.32 458.4,358.9 C459.33,357.48 460.13,356.05 460.8,354.8 C461.47,353.55 461.97,352.01 462.4,351.38 C462.83,350.74 463.1,350.6 463.4,351 C463.7,351.4 463.93,352.43 464.2,353.75 C464.47,355.07 464.73,357.24 465,358.9 C465.27,360.56 465.53,362.23 465.8,363.7 C466.07,365.17 466.35,366.63 466.6,367.7 C466.85,368.77 467.18,369.72 467.3,370.12 L467.3,370.1 L445.5,370.1 Z" fill="#aaafb9" stroke="none" stroke-width="0.8"/>
<path d="M445.5,370.12 C445.92,369.98 446.92,369.85 448,369.25 C449.08,368.65 450.8,367.49 452,366.5 C453.2,365.51 454.13,364.57 455.2,363.3 C456.27,362.03 457.4,360.45 458.4,358.9 C459.4,357.35 460.47,355.82 461.2,354 C461.93,352.18 462.2,350 462.8,348 C463.4,346 464.23,343.73 464.8,342 C465.38,340.27 465.82,338.79 466.25,337.62 C466.68,336.46 466.99,334.14 467.4,335 C467.81,335.86 468.3,339.77 468.7,342.8 C469.1,345.83 469.37,349.85 469.8,353.2 C470.23,356.55 470.78,360.48 471.3,362.9 C471.82,365.32 472.45,366.5 472.9,367.7 C473.35,368.9 473.82,369.72 474,370.12 L474,370.1 L445.5,370.1 Z" fill="rgba(81,41,101,0.5)" stroke="none" stroke-width="0.8"/>
<path d="M445.5,370.12 C445.92,369.98 446.92,369.85 448,369.25 C449.08,368.65 450.8,367.49 452,366.5 C453.2,365.51 454.13,364.57 455.2,363.3 C456.27,362.03 457.47,360.32 458.4,358.9 C459.33,357.48 460.13,356.05 460.8,354.8 C461.47,353.55 461.97,352.01 462.4,351.38 C462.83,350.74 463.1,350.6 463.4,351 C463.7,351.4 463.93,352.43 464.2,353.75 C464.47,355.07 464.73,357.24 465,358.9 C465.27,360.56 465.53,362.23 465.8,363.7 C466.07,365.17 466.35,366.63 466.6,367.7 C466.85,368.77 467.18,369.72 467.3,370.12" fill="none" stroke="#4b2170" stroke-width="0.6"/>
<path d="M445.5,370.12 C445.92,369.98 446.92,369.85 448,369.25 C449.08,368.65 450.8,367.49 452,366.5 C453.2,365.51 454.13,364.57 455.2,363.3 C456.27,362.03 457.4,360.45 458.4,358.9 C459.4,357.35 460.47,355.82 461.2,354 C461.93,352.18 462.2,350 462.8,348 C463.4,346 464.23,343.73 464.8,342 C465.38,340.27 465.82,338.79 466.25,337.62 C466.68,336.46 466.99,334.14 467.4,335 C467.81,335.86 468.3,339.77 468.7,342.8 C469.1,345.83 469.37,349.85 469.8,353.2 C470.23,356.55 470.78,360.48 471.3,362.9 C471.82,365.32 472.45,366.5 472.9,367.7 C473.35,368.9 473.82,369.72 474,370.12" fill="none" stroke="#5b2f7e" stroke-width="0.6"/>
<line x1="433.3" y1="332.3" x2="433.3" y2="370.6" stroke="#231f20" stroke-width="1.1"/>
<line x1="432.8" y1="370.1" x2="488.6" y2="370.1" stroke="#231f20" stroke-width="1.1"/>
<text transform="translate(429.1,371.7)" font-size="4.6" text-anchor="end" fill="#231f20" stroke="#231f20" stroke-width="0.04">0</text>
<text transform="translate(429.1,362.9)" font-size="4.6" text-anchor="end" fill="#231f20" stroke="#231f20" stroke-width="0.04">2</text>
<text transform="translate(429.1,354.3)" font-size="4.6" text-anchor="end" fill="#231f20" stroke="#231f20" stroke-width="0.04">5</text>
<text transform="translate(429.1,345.3)" font-size="4.6" text-anchor="end" fill="#231f20" stroke="#231f20" stroke-width="0.04">7</text>
<text transform="translate(429.1,336.2)" font-size="4.6" text-anchor="end" fill="#231f20" stroke="#231f20" stroke-width="0.04">10</text>
<text x="433.8" y="380.1" font-size="4.8" text-anchor="middle" fill="#231f20" stroke="#231f20" stroke-width="0.05">10<tspan font-size="3.55" dx="0.35" dy="-2.02">2</tspan></text>
<text x="446.75" y="380.1" font-size="4.8" text-anchor="middle" fill="#231f20" stroke="#231f20" stroke-width="0.05">10<tspan font-size="3.55" dx="0.35" dy="-2.02">3</tspan></text>
<text x="459.7" y="380.1" font-size="4.8" text-anchor="middle" fill="#231f20" stroke="#231f20" stroke-width="0.05">10<tspan font-size="3.55" dx="0.35" dy="-2.02">4</tspan></text>
<text x="472.65" y="380.1" font-size="4.8" text-anchor="middle" fill="#231f20" stroke="#231f20" stroke-width="0.05">10<tspan font-size="3.55" dx="0.35" dy="-2.02">5</tspan></text>
<text x="485.6" y="380.1" font-size="4.8" text-anchor="middle" fill="#231f20" stroke="#231f20" stroke-width="0.05">10<tspan font-size="3.55" dx="0.35" dy="-2.02">6</tspan></text>
<path d="M431.3,370.1L433.3,370.1 M431.3,361.3L433.3,361.3 M431.3,352.7L433.3,352.7 M431.3,343.7L433.3,343.7 M431.3,334.6L433.3,334.6 M433.3,370.1L433.3,371.9 M446.25,370.1L446.25,371.9 M459.2,370.1L459.2,371.9 M472.15,370.1L472.15,371.9 M485.1,370.1L485.1,371.9" stroke="#231f20" stroke-width="0.75" fill="none"/>
<path d="M432.2,367.66L433.3,367.66 M432.2,365.22L433.3,365.22 M432.2,362.78L433.3,362.78 M432.2,360.35L433.3,360.35 M432.2,357.91L433.3,357.91 M432.2,355.47L433.3,355.47 M432.2,353.03L433.3,353.03 M432.2,350.59L433.3,350.59 M432.2,348.15L433.3,348.15 M432.2,345.71L433.3,345.71 M432.2,343.27L433.3,343.27 M432.2,340.84L433.3,340.84 M432.2,338.4L433.3,338.4 M432.2,335.96L433.3,335.96 M432.2,333.52L433.3,333.52 M437.2,370.1L437.2,371.1 M439.48,370.1L439.48,371.1 M441.1,370.1L441.1,371.1 M442.35,370.1L442.35,371.1 M443.38,370.1L443.38,371.1 M444.24,370.1L444.24,371.1 M445,370.1L445,371.1 M445.66,370.1L445.66,371.1 M450.15,370.1L450.15,371.1 M452.43,370.1L452.43,371.1 M454.05,370.1L454.05,371.1 M455.3,370.1L455.3,371.1 M456.33,370.1L456.33,371.1 M457.19,370.1L457.19,371.1 M457.95,370.1L457.95,371.1 M458.61,370.1L458.61,371.1 M463.1,370.1L463.1,371.1 M465.38,370.1L465.38,371.1 M467,370.1L467,371.1 M468.25,370.1L468.25,371.1 M469.28,370.1L469.28,371.1 M470.14,370.1L470.14,371.1 M470.9,370.1L470.9,371.1 M471.56,370.1L471.56,371.1 M476.05,370.1L476.05,371.1 M478.33,370.1L478.33,371.1 M479.95,370.1L479.95,371.1 M481.2,370.1L481.2,371.1 M482.23,370.1L482.23,371.1 M483.09,370.1L483.09,371.1 M483.85,370.1L483.85,371.1 M484.51,370.1L484.51,371.1" stroke="#231f20" stroke-width="0.5" fill="none"/>
<text transform="translate(461.45,327.6)" font-size="7.0" text-anchor="middle" fill="#231f20">CD8+ T-cells</text>
<text transform="translate(461.45,387.2) scale(0.71,1)" font-size="6.7" text-anchor="middle" fill="#231f20" stroke="#231f20" stroke-width="0.15">CD107a</text>
<text transform="translate(6.8,337.2) scale(1.08,1)" font-size="10.4" font-weight="bold" fill="#231f20" stroke="#231f20" stroke-width="0.3">E</text>
<line x1="40.7" y1="389.62" x2="40.7" y2="388.37" stroke="#2a2440" stroke-width="0.6"/>
<line x1="39.5" y1="388.37" x2="41.9" y2="388.37" stroke="#2a2440" stroke-width="0.9"/>
<rect x="38.25" y="389.62" width="4.9" height="3.68" fill="#8b82ba" stroke="#7a70b0" stroke-width="0.3"/>
<line x1="48.55" y1="391.2" x2="48.55" y2="390.57" stroke="#2a2440" stroke-width="0.6"/>
<line x1="47.35" y1="390.57" x2="49.75" y2="390.57" stroke="#2a2440" stroke-width="0.9"/>
<rect x="46.1" y="391.2" width="4.9" height="2.1" fill="#8b82ba" stroke="#7a70b0" stroke-width="0.3"/>
<line x1="56.4" y1="379.86" x2="56.4" y2="376.71" stroke="#2a2440" stroke-width="0.6"/>
<line x1="55.2" y1="376.71" x2="57.6" y2="376.71" stroke="#2a2440" stroke-width="0.9"/>
<rect x="53.95" y="379.86" width="4.9" height="13.44" fill="#8b82ba" stroke="#7a70b0" stroke-width="0.3"/>
<line x1="64.25" y1="368.94" x2="64.25" y2="367.05" stroke="#2a2440" stroke-width="0.6"/>
<line x1="63.05" y1="367.05" x2="65.45" y2="367.05" stroke="#2a2440" stroke-width="0.9"/>
<rect x="61.8" y="368.94" width="4.9" height="24.36" fill="#8b82ba" stroke="#7a70b0" stroke-width="0.3"/>
<line x1="72.1" y1="359.7" x2="72.1" y2="358.44" stroke="#2a2440" stroke-width="0.6"/>
<line x1="70.9" y1="358.44" x2="73.3" y2="358.44" stroke="#2a2440" stroke-width="0.9"/>
<rect x="69.65" y="359.7" width="4.9" height="33.6" fill="#8b82ba" stroke="#7a70b0" stroke-width="0.3"/>
<line x1="35.4" y1="348.3" x2="35.4" y2="393.8" stroke="#231f20" stroke-width="1.1"/>
<line x1="34.9" y1="393.3" x2="77.6" y2="393.3" stroke="#231f20" stroke-width="1.1"/>
<text transform="translate(29.6,395.05)" font-size="5.0" text-anchor="end" fill="#231f20" stroke="#231f20" stroke-width="0.02">0</text>
<text transform="translate(29.6,384.55)" font-size="5.0" text-anchor="end" fill="#231f20" stroke="#231f20" stroke-width="0.02">500</text>
<text transform="translate(29.6,374.05)" font-size="5.0" text-anchor="end" fill="#231f20" stroke="#231f20" stroke-width="0.02">1000</text>
<text transform="translate(29.6,363.55)" font-size="5.0" text-anchor="end" fill="#231f20" stroke="#231f20" stroke-width="0.02">1500</text>
<text transform="translate(29.6,353.05)" font-size="5.0" text-anchor="end" fill="#231f20" stroke="#231f20" stroke-width="0.02">2000</text>
<text transform="translate(42.7,401.7) rotate(-45)" font-size="5.0" text-anchor="end" fill="#231f20" stroke="#231f20" stroke-width="0.03">Solvent control</text>
<text transform="translate(50.55,401.7) rotate(-45)" font-size="5.0" text-anchor="end" fill="#231f20" stroke="#231f20" stroke-width="0.03">0.032</text>
<text transform="translate(58.4,401.7) rotate(-45)" font-size="5.0" text-anchor="end" fill="#231f20" stroke="#231f20" stroke-width="0.03">0.16</text>
<text transform="translate(66.25,401.7) rotate(-45)" font-size="5.0" text-anchor="end" fill="#231f20" stroke="#231f20" stroke-width="0.03">0.8</text>
<text transform="translate(74.1,401.7) rotate(-45)" font-size="5.0" text-anchor="end" fill="#231f20" stroke="#231f20" stroke-width="0.03">4</text>
<path d="M32.8,393.3L35.4,393.3 M32.8,382.8L35.4,382.8 M32.8,372.3L35.4,372.3 M32.8,361.8L35.4,361.8 M32.8,351.3L35.4,351.3 M40.7,393.3L40.7,395.5 M48.55,393.3L48.55,395.5 M56.4,393.3L56.4,395.5 M64.25,393.3L64.25,395.5 M72.1,393.3L72.1,395.5" stroke="#231f20" stroke-width="0.85" fill="none"/>
<text transform="translate(56.9,344.4)" font-size="7.2" text-anchor="middle" fill="#231f20">GZMB</text>
<text transform="translate(12.58,371.2) rotate(-90) scale(0.83,1)" font-size="6.2" text-anchor="middle" fill="#231f20" stroke="#231f20" stroke-width="0.15">pg/mL</text>
<text transform="translate(56.9,420.4) scale(0.73,1)" font-size="7.0" text-anchor="middle" fill="#231f20" stroke="#231f20" stroke-width="0.1">Talquetamab (µg/mL)</text>
<line x1="129.35" y1="391.9" x2="129.35" y2="391.48" stroke="#2a2440" stroke-width="0.6"/>
<line x1="128.15" y1="391.48" x2="130.55" y2="391.48" stroke="#2a2440" stroke-width="0.9"/>
<rect x="126.9" y="391.9" width="4.9" height="1.4" fill="#8b82ba" stroke="#7a70b0" stroke-width="0.3"/>
<line x1="137.2" y1="377.62" x2="137.2" y2="374.54" stroke="#2a2440" stroke-width="0.6"/>
<line x1="136" y1="374.54" x2="138.4" y2="374.54" stroke="#2a2440" stroke-width="0.9"/>
<rect x="134.75" y="377.62" width="4.9" height="15.68" fill="#8b82ba" stroke="#7a70b0" stroke-width="0.3"/>
<line x1="145.05" y1="370.06" x2="145.05" y2="367.26" stroke="#2a2440" stroke-width="0.6"/>
<line x1="143.85" y1="367.26" x2="146.25" y2="367.26" stroke="#2a2440" stroke-width="0.9"/>
<rect x="142.6" y="370.06" width="4.9" height="23.24" fill="#8b82ba" stroke="#7a70b0" stroke-width="0.3"/>
<line x1="152.9" y1="363.62" x2="152.9" y2="362.22" stroke="#2a2440" stroke-width="0.6"/>
<line x1="151.7" y1="362.22" x2="154.1" y2="362.22" stroke="#2a2440" stroke-width="0.9"/>
<rect x="150.45" y="363.62" width="4.9" height="29.68" fill="#8b82ba" stroke="#7a70b0" stroke-width="0.3"/>
<line x1="116.2" y1="348.3" x2="116.2" y2="393.8" stroke="#231f20" stroke-width="1.1"/>
<line x1="115.7" y1="393.3" x2="158.4" y2="393.3" stroke="#231f20" stroke-width="1.1"/>
<text transform="translate(110.4,395.05)" font-size="5.0" text-anchor="end" fill="#231f20" stroke="#231f20" stroke-width="0.02">0</text>
<text transform="translate(110.4,381.05)" font-size="5.0" text-anchor="end" fill="#231f20" stroke="#231f20" stroke-width="0.02">5000</text>
<text transform="translate(110.4,367.05)" font-size="5.0" text-anchor="end" fill="#231f20" stroke="#231f20" stroke-width="0.02">10000</text>
<text transform="translate(110.4,353.05)" font-size="5.0" text-anchor="end" fill="#231f20" stroke="#231f20" stroke-width="0.02">15000</text>
<text transform="translate(123.5,401.7) rotate(-45)" font-size="5.0" text-anchor="end" fill="#231f20" stroke="#231f20" stroke-width="0.03">Solvent control</text>
<text transform="translate(131.35,401.7) rotate(-45)" font-size="5.0" text-anchor="end" fill="#231f20" stroke="#231f20" stroke-width="0.03">0.032</text>
<text transform="translate(139.2,401.7) rotate(-45)" font-size="5.0" text-anchor="end" fill="#231f20" stroke="#231f20" stroke-width="0.03">0.16</text>
<text transform="translate(147.05,401.7) rotate(-45)" font-size="5.0" text-anchor="end" fill="#231f20" stroke="#231f20" stroke-width="0.03">0.8</text>
<text transform="translate(154.9,401.7) rotate(-45)" font-size="5.0" text-anchor="end" fill="#231f20" stroke="#231f20" stroke-width="0.03">4</text>
<path d="M113.6,393.3L116.2,393.3 M113.6,379.3L116.2,379.3 M113.6,365.3L116.2,365.3 M113.6,351.3L116.2,351.3 M121.5,393.3L121.5,395.5 M129.35,393.3L129.35,395.5 M137.2,393.3L137.2,395.5 M145.05,393.3L145.05,395.5 M152.9,393.3L152.9,395.5" stroke="#231f20" stroke-width="0.85" fill="none"/>
<text transform="translate(137.7,344.4)" font-size="7.2" text-anchor="middle" fill="#231f20">IFN-γ</text>
<text transform="translate(90.6,371.2) rotate(-90) scale(0.83,1)" font-size="6.2" text-anchor="middle" fill="#231f20" stroke="#231f20" stroke-width="0.15">pg/mL</text>
<text transform="translate(137.7,420.4) scale(0.73,1)" font-size="7.0" text-anchor="middle" fill="#231f20" stroke="#231f20" stroke-width="0.1">Talquetamab (µg/mL)</text>
<line x1="198.9" y1="393.02" x2="198.9" y2="392.74" stroke="#2a2440" stroke-width="0.6"/>
<line x1="197.7" y1="392.74" x2="200.1" y2="392.74" stroke="#2a2440" stroke-width="0.9"/>
<rect x="196.45" y="393.02" width="4.9" height="0.28" fill="#8b82ba" stroke="#7a70b0" stroke-width="0.3"/>
<line x1="206.75" y1="389.94" x2="206.75" y2="388.82" stroke="#2a2440" stroke-width="0.6"/>
<line x1="205.55" y1="388.82" x2="207.95" y2="388.82" stroke="#2a2440" stroke-width="0.9"/>
<rect x="204.3" y="389.94" width="4.9" height="3.36" fill="#8b82ba" stroke="#7a70b0" stroke-width="0.3"/>
<line x1="214.6" y1="373.98" x2="214.6" y2="370.34" stroke="#2a2440" stroke-width="0.6"/>
<line x1="213.4" y1="370.34" x2="215.8" y2="370.34" stroke="#2a2440" stroke-width="0.9"/>
<rect x="212.15" y="373.98" width="4.9" height="19.32" fill="#8b82ba" stroke="#7a70b0" stroke-width="0.3"/>
<line x1="222.45" y1="366.14" x2="222.45" y2="363.06" stroke="#2a2440" stroke-width="0.6"/>
<line x1="221.25" y1="363.06" x2="223.65" y2="363.06" stroke="#2a2440" stroke-width="0.9"/>
<rect x="220" y="366.14" width="4.9" height="27.16" fill="#8b82ba" stroke="#7a70b0" stroke-width="0.3"/>
<line x1="230.3" y1="357.18" x2="230.3" y2="354.94" stroke="#2a2440" stroke-width="0.6"/>
<line x1="229.1" y1="354.94" x2="231.5" y2="354.94" stroke="#2a2440" stroke-width="0.9"/>
<rect x="227.85" y="357.18" width="4.9" height="36.12" fill="#8b82ba" stroke="#7a70b0" stroke-width="0.3"/>
<line x1="193.6" y1="348.3" x2="193.6" y2="393.8" stroke="#231f20" stroke-width="1.1"/>
<line x1="193.1" y1="393.3" x2="235.8" y2="393.3" stroke="#231f20" stroke-width="1.1"/>
<text transform="translate(187.8,395.05)" font-size="5.0" text-anchor="end" fill="#231f20" stroke="#231f20" stroke-width="0.02">0</text>
<text transform="translate(187.8,381.05)" font-size="5.0" text-anchor="end" fill="#231f20" stroke="#231f20" stroke-width="0.02">500</text>
<text transform="translate(187.8,367.05)" font-size="5.0" text-anchor="end" fill="#231f20" stroke="#231f20" stroke-width="0.02">1000</text>
<text transform="translate(187.8,353.05)" font-size="5.0" text-anchor="end" fill="#231f20" stroke="#231f20" stroke-width="0.02">1500</text>
<text transform="translate(200.9,401.7) rotate(-45)" font-size="5.0" text-anchor="end" fill="#231f20" stroke="#231f20" stroke-width="0.03">Solvent control</text>
<text transform="translate(208.75,401.7) rotate(-45)" font-size="5.0" text-anchor="end" fill="#231f20" stroke="#231f20" stroke-width="0.03">0.032</text>
<text transform="translate(216.6,401.7) rotate(-45)" font-size="5.0" text-anchor="end" fill="#231f20" stroke="#231f20" stroke-width="0.03">0.16</text>
<text transform="translate(224.45,401.7) rotate(-45)" font-size="5.0" text-anchor="end" fill="#231f20" stroke="#231f20" stroke-width="0.03">0.8</text>
<text transform="translate(232.3,401.7) rotate(-45)" font-size="5.0" text-anchor="end" fill="#231f20" stroke="#231f20" stroke-width="0.03">4</text>
<path d="M191,393.3L193.6,393.3 M191,379.3L193.6,379.3 M191,365.3L193.6,365.3 M191,351.3L193.6,351.3 M198.9,393.3L198.9,395.5 M206.75,393.3L206.75,395.5 M214.6,393.3L214.6,395.5 M222.45,393.3L222.45,395.5 M230.3,393.3L230.3,395.5" stroke="#231f20" stroke-width="0.85" fill="none"/>
<text transform="translate(215.1,344.4)" font-size="7.2" text-anchor="middle" fill="#231f20">TNF-α</text>
<text transform="translate(170.78,371.2) rotate(-90) scale(0.83,1)" font-size="6.2" text-anchor="middle" fill="#231f20" stroke="#231f20" stroke-width="0.15">pg/mL</text>
<text transform="translate(215.1,420.4) scale(0.73,1)" font-size="7.0" text-anchor="middle" fill="#231f20" stroke="#231f20" stroke-width="0.1">Talquetamab (µg/mL)</text>
<line x1="273.5" y1="390.68" x2="273.5" y2="389.89" stroke="#2a2440" stroke-width="0.6"/>
<line x1="272.3" y1="389.89" x2="274.7" y2="389.89" stroke="#2a2440" stroke-width="0.9"/>
<rect x="271.05" y="390.68" width="4.9" height="2.62" fill="#8b82ba" stroke="#7a70b0" stroke-width="0.3"/>
<line x1="281.35" y1="387.53" x2="281.35" y2="384.9" stroke="#2a2440" stroke-width="0.6"/>
<line x1="280.15" y1="384.9" x2="282.55" y2="384.9" stroke="#2a2440" stroke-width="0.9"/>
<rect x="278.9" y="387.53" width="4.9" height="5.78" fill="#8b82ba" stroke="#7a70b0" stroke-width="0.3"/>
<line x1="289.2" y1="373.88" x2="289.2" y2="369.68" stroke="#2a2440" stroke-width="0.6"/>
<line x1="288" y1="369.68" x2="290.4" y2="369.68" stroke="#2a2440" stroke-width="0.9"/>
<rect x="286.75" y="373.88" width="4.9" height="19.43" fill="#8b82ba" stroke="#7a70b0" stroke-width="0.3"/>
<line x1="297.05" y1="367.57" x2="297.05" y2="361.28" stroke="#2a2440" stroke-width="0.6"/>
<line x1="295.85" y1="361.28" x2="298.25" y2="361.28" stroke="#2a2440" stroke-width="0.9"/>
<rect x="294.6" y="367.57" width="4.9" height="25.73" fill="#8b82ba" stroke="#7a70b0" stroke-width="0.3"/>
<line x1="304.9" y1="365.48" x2="304.9" y2="357.6" stroke="#2a2440" stroke-width="0.6"/>
<line x1="303.7" y1="357.6" x2="306.1" y2="357.6" stroke="#2a2440" stroke-width="0.9"/>
<rect x="302.45" y="365.48" width="4.9" height="27.83" fill="#8b82ba" stroke="#7a70b0" stroke-width="0.3"/>
<line x1="268.2" y1="348.3" x2="268.2" y2="393.8" stroke="#231f20" stroke-width="1.1"/>
<line x1="267.7" y1="393.3" x2="310.4" y2="393.3" stroke="#231f20" stroke-width="1.1"/>
<text transform="translate(262.4,395.05)" font-size="5.0" text-anchor="end" fill="#231f20" stroke="#231f20" stroke-width="0.02">0</text>
<text transform="translate(262.4,384.55)" font-size="5.0" text-anchor="end" fill="#231f20" stroke="#231f20" stroke-width="0.02">20</text>
<text transform="translate(262.4,374.05)" font-size="5.0" text-anchor="end" fill="#231f20" stroke="#231f20" stroke-width="0.02">40</text>
<text transform="translate(262.4,363.55)" font-size="5.0" text-anchor="end" fill="#231f20" stroke="#231f20" stroke-width="0.02">60</text>
<text transform="translate(262.4,353.05)" font-size="5.0" text-anchor="end" fill="#231f20" stroke="#231f20" stroke-width="0.02">80</text>
<text transform="translate(275.5,401.7) rotate(-45)" font-size="5.0" text-anchor="end" fill="#231f20" stroke="#231f20" stroke-width="0.03">Solvent control</text>
<text transform="translate(283.35,401.7) rotate(-45)" font-size="5.0" text-anchor="end" fill="#231f20" stroke="#231f20" stroke-width="0.03">0.032</text>
<text transform="translate(291.2,401.7) rotate(-45)" font-size="5.0" text-anchor="end" fill="#231f20" stroke="#231f20" stroke-width="0.03">0.16</text>
<text transform="translate(299.05,401.7) rotate(-45)" font-size="5.0" text-anchor="end" fill="#231f20" stroke="#231f20" stroke-width="0.03">0.8</text>
<text transform="translate(306.9,401.7) rotate(-45)" font-size="5.0" text-anchor="end" fill="#231f20" stroke="#231f20" stroke-width="0.03">4</text>
<path d="M265.6,393.3L268.2,393.3 M265.6,382.8L268.2,382.8 M265.6,372.3L268.2,372.3 M265.6,361.8L268.2,361.8 M265.6,351.3L268.2,351.3 M273.5,393.3L273.5,395.5 M281.35,393.3L281.35,395.5 M289.2,393.3L289.2,395.5 M297.05,393.3L297.05,395.5 M304.9,393.3L304.9,395.5" stroke="#231f20" stroke-width="0.85" fill="none"/>
<text transform="translate(289.7,344.4)" font-size="7.2" text-anchor="middle" fill="#231f20">IL-17A</text>
<text transform="translate(250.94,371.2) rotate(-90) scale(0.83,1)" font-size="6.2" text-anchor="middle" fill="#231f20" stroke="#231f20" stroke-width="0.15">pg/mL</text>
<text transform="translate(289.7,420.4) scale(0.73,1)" font-size="7.0" text-anchor="middle" fill="#231f20" stroke="#231f20" stroke-width="0.1">Talquetamab (µg/mL)</text>
<line x1="40.7" y1="481.04" x2="40.7" y2="480.51" stroke="#2a2440" stroke-width="0.6"/>
<line x1="39.5" y1="480.51" x2="41.9" y2="480.51" stroke="#2a2440" stroke-width="0.9"/>
<rect x="38.25" y="481.04" width="4.9" height="3.46" fill="#8b82ba" stroke="#7a70b0" stroke-width="0.3"/>
<line x1="48.55" y1="476.83" x2="48.55" y2="476.52" stroke="#2a2440" stroke-width="0.6"/>
<line x1="47.35" y1="476.52" x2="49.75" y2="476.52" stroke="#2a2440" stroke-width="0.9"/>
<rect x="46.1" y="476.83" width="4.9" height="7.67" fill="#8b82ba" stroke="#7a70b0" stroke-width="0.3"/>
<line x1="56.4" y1="459.3" x2="56.4" y2="456.15" stroke="#2a2440" stroke-width="0.6"/>
<line x1="55.2" y1="456.15" x2="57.6" y2="456.15" stroke="#2a2440" stroke-width="0.9"/>
<rect x="53.95" y="459.3" width="4.9" height="25.2" fill="#8b82ba" stroke="#7a70b0" stroke-width="0.3"/>
<line x1="64.25" y1="454.05" x2="64.25" y2="453.52" stroke="#2a2440" stroke-width="0.6"/>
<line x1="63.05" y1="453.52" x2="65.45" y2="453.52" stroke="#2a2440" stroke-width="0.9"/>
<rect x="61.8" y="454.05" width="4.9" height="30.45" fill="#8b82ba" stroke="#7a70b0" stroke-width="0.3"/>
<line x1="72.1" y1="454.05" x2="72.1" y2="451.95" stroke="#2a2440" stroke-width="0.6"/>
<line x1="70.9" y1="451.95" x2="73.3" y2="451.95" stroke="#2a2440" stroke-width="0.9"/>
<rect x="69.65" y="454.05" width="4.9" height="30.45" fill="#8b82ba" stroke="#7a70b0" stroke-width="0.3"/>
<line x1="35.4" y1="439.5" x2="35.4" y2="485" stroke="#231f20" stroke-width="1.1"/>
<line x1="34.9" y1="484.5" x2="77.6" y2="484.5" stroke="#231f20" stroke-width="1.1"/>
<text transform="translate(29.6,486.25)" font-size="5.0" text-anchor="end" fill="#231f20" stroke="#231f20" stroke-width="0.02">0</text>
<text transform="translate(29.6,475.75)" font-size="5.0" text-anchor="end" fill="#231f20" stroke="#231f20" stroke-width="0.02">100</text>
<text transform="translate(29.6,465.25)" font-size="5.0" text-anchor="end" fill="#231f20" stroke="#231f20" stroke-width="0.02">200</text>
<text transform="translate(29.6,454.75)" font-size="5.0" text-anchor="end" fill="#231f20" stroke="#231f20" stroke-width="0.02">300</text>
<text transform="translate(29.6,444.25)" font-size="5.0" text-anchor="end" fill="#231f20" stroke="#231f20" stroke-width="0.02">400</text>
<text transform="translate(42.7,492.9) rotate(-45)" font-size="5.0" text-anchor="end" fill="#231f20" stroke="#231f20" stroke-width="0.03">Solvent control</text>
<text transform="translate(50.55,492.9) rotate(-45)" font-size="5.0" text-anchor="end" fill="#231f20" stroke="#231f20" stroke-width="0.03">0.032</text>
<text transform="translate(58.4,492.9) rotate(-45)" font-size="5.0" text-anchor="end" fill="#231f20" stroke="#231f20" stroke-width="0.03">0.16</text>
<text transform="translate(66.25,492.9) rotate(-45)" font-size="5.0" text-anchor="end" fill="#231f20" stroke="#231f20" stroke-width="0.03">0.8</text>
<text transform="translate(74.1,492.9) rotate(-45)" font-size="5.0" text-anchor="end" fill="#231f20" stroke="#231f20" stroke-width="0.03">4</text>
<path d="M32.8,484.5L35.4,484.5 M32.8,474L35.4,474 M32.8,463.5L35.4,463.5 M32.8,453L35.4,453 M32.8,442.5L35.4,442.5 M40.7,484.5L40.7,486.7 M48.55,484.5L48.55,486.7 M56.4,484.5L56.4,486.7 M64.25,484.5L64.25,486.7 M72.1,484.5L72.1,486.7" stroke="#231f20" stroke-width="0.85" fill="none"/>
<text transform="translate(56.9,435.6)" font-size="7.2" text-anchor="middle" fill="#231f20">IL-10</text>
<text transform="translate(15.36,462.4) rotate(-90) scale(0.83,1)" font-size="6.2" text-anchor="middle" fill="#231f20" stroke="#231f20" stroke-width="0.15">pg/mL</text>
<text transform="translate(56.9,511.4) scale(0.73,1)" font-size="7.0" text-anchor="middle" fill="#231f20" stroke="#231f20" stroke-width="0.1">Talquetamab (µg/mL)</text>
<line x1="121.5" y1="483.87" x2="121.5" y2="483.66" stroke="#2a2440" stroke-width="0.6"/>
<line x1="120.3" y1="483.66" x2="122.7" y2="483.66" stroke="#2a2440" stroke-width="0.9"/>
<rect x="119.05" y="483.87" width="4.9" height="0.63" fill="#8b82ba" stroke="#7a70b0" stroke-width="0.3"/>
<line x1="129.35" y1="482.61" x2="129.35" y2="481.98" stroke="#2a2440" stroke-width="0.6"/>
<line x1="128.15" y1="481.98" x2="130.55" y2="481.98" stroke="#2a2440" stroke-width="0.9"/>
<rect x="126.9" y="482.61" width="4.9" height="1.89" fill="#8b82ba" stroke="#7a70b0" stroke-width="0.3"/>
<line x1="137.2" y1="466.02" x2="137.2" y2="462.24" stroke="#2a2440" stroke-width="0.6"/>
<line x1="136" y1="462.24" x2="138.4" y2="462.24" stroke="#2a2440" stroke-width="0.9"/>
<rect x="134.75" y="466.02" width="4.9" height="18.48" fill="#8b82ba" stroke="#7a70b0" stroke-width="0.3"/>
<line x1="145.05" y1="471.9" x2="145.05" y2="467.7" stroke="#2a2440" stroke-width="0.6"/>
<line x1="143.85" y1="467.7" x2="146.25" y2="467.7" stroke="#2a2440" stroke-width="0.9"/>
<rect x="142.6" y="471.9" width="4.9" height="12.6" fill="#8b82ba" stroke="#7a70b0" stroke-width="0.3"/>
<line x1="152.9" y1="462.45" x2="152.9" y2="452.37" stroke="#2a2440" stroke-width="0.6"/>
<line x1="151.7" y1="452.37" x2="154.1" y2="452.37" stroke="#2a2440" stroke-width="0.9"/>
<rect x="150.45" y="462.45" width="4.9" height="22.05" fill="#8b82ba" stroke="#7a70b0" stroke-width="0.3"/>
<line x1="116.2" y1="439.5" x2="116.2" y2="485" stroke="#231f20" stroke-width="1.1"/>
<line x1="115.7" y1="484.5" x2="158.4" y2="484.5" stroke="#231f20" stroke-width="1.1"/>
<text transform="translate(110.4,486.25)" font-size="5.0" text-anchor="end" fill="#231f20" stroke="#231f20" stroke-width="0.02">0</text>
<text transform="translate(110.4,475.75)" font-size="5.0" text-anchor="end" fill="#231f20" stroke="#231f20" stroke-width="0.02">500</text>
<text transform="translate(110.4,465.25)" font-size="5.0" text-anchor="end" fill="#231f20" stroke="#231f20" stroke-width="0.02">1000</text>
<text transform="translate(110.4,454.75)" font-size="5.0" text-anchor="end" fill="#231f20" stroke="#231f20" stroke-width="0.02">1500</text>
<text transform="translate(110.4,444.25)" font-size="5.0" text-anchor="end" fill="#231f20" stroke="#231f20" stroke-width="0.02">2000</text>
<text transform="translate(123.5,492.9) rotate(-45)" font-size="5.0" text-anchor="end" fill="#231f20" stroke="#231f20" stroke-width="0.03">Solvent control</text>
<text transform="translate(131.35,492.9) rotate(-45)" font-size="5.0" text-anchor="end" fill="#231f20" stroke="#231f20" stroke-width="0.03">0.032</text>
<text transform="translate(139.2,492.9) rotate(-45)" font-size="5.0" text-anchor="end" fill="#231f20" stroke="#231f20" stroke-width="0.03">0.16</text>
<text transform="translate(147.05,492.9) rotate(-45)" font-size="5.0" text-anchor="end" fill="#231f20" stroke="#231f20" stroke-width="0.03">0.8</text>
<text transform="translate(154.9,492.9) rotate(-45)" font-size="5.0" text-anchor="end" fill="#231f20" stroke="#231f20" stroke-width="0.03">4</text>
<path d="M113.6,484.5L116.2,484.5 M113.6,474L116.2,474 M113.6,463.5L116.2,463.5 M113.6,453L116.2,453 M113.6,442.5L116.2,442.5 M121.5,484.5L121.5,486.7 M129.35,484.5L129.35,486.7 M137.2,484.5L137.2,486.7 M145.05,484.5L145.05,486.7 M152.9,484.5L152.9,486.7" stroke="#231f20" stroke-width="0.85" fill="none"/>
<text transform="translate(137.7,435.6)" font-size="7.2" text-anchor="middle" fill="#231f20">IL-6</text>
<text transform="translate(93.38,462.4) rotate(-90) scale(0.83,1)" font-size="6.2" text-anchor="middle" fill="#231f20" stroke="#231f20" stroke-width="0.15">pg/mL</text>
<text transform="translate(137.7,511.4) scale(0.73,1)" font-size="7.0" text-anchor="middle" fill="#231f20" stroke="#231f20" stroke-width="0.1">Talquetamab (µg/mL)</text>
<line x1="198.9" y1="467.28" x2="198.9" y2="463.92" stroke="#2a2440" stroke-width="0.6"/>
<line x1="197.7" y1="463.92" x2="200.1" y2="463.92" stroke="#2a2440" stroke-width="0.9"/>
<rect x="196.45" y="467.28" width="4.9" height="17.22" fill="#8b82ba" stroke="#7a70b0" stroke-width="0.3"/>
<line x1="206.75" y1="466.02" x2="206.75" y2="463.5" stroke="#2a2440" stroke-width="0.6"/>
<line x1="205.55" y1="463.5" x2="207.95" y2="463.5" stroke="#2a2440" stroke-width="0.9"/>
<rect x="204.3" y="466.02" width="4.9" height="18.48" fill="#8b82ba" stroke="#7a70b0" stroke-width="0.3"/>
<line x1="214.6" y1="458.04" x2="214.6" y2="455.1" stroke="#2a2440" stroke-width="0.6"/>
<line x1="213.4" y1="455.1" x2="215.8" y2="455.1" stroke="#2a2440" stroke-width="0.9"/>
<rect x="212.15" y="458.04" width="4.9" height="26.46" fill="#8b82ba" stroke="#7a70b0" stroke-width="0.3"/>
<line x1="222.45" y1="456.78" x2="222.45" y2="454.26" stroke="#2a2440" stroke-width="0.6"/>
<line x1="221.25" y1="454.26" x2="223.65" y2="454.26" stroke="#2a2440" stroke-width="0.9"/>
<rect x="220" y="456.78" width="4.9" height="27.72" fill="#8b82ba" stroke="#7a70b0" stroke-width="0.3"/>
<line x1="230.3" y1="454.68" x2="230.3" y2="451.32" stroke="#2a2440" stroke-width="0.6"/>
<line x1="229.1" y1="451.32" x2="231.5" y2="451.32" stroke="#2a2440" stroke-width="0.9"/>
<rect x="227.85" y="454.68" width="4.9" height="29.82" fill="#8b82ba" stroke="#7a70b0" stroke-width="0.3"/>
<line x1="193.6" y1="439.5" x2="193.6" y2="485" stroke="#231f20" stroke-width="1.1"/>
<line x1="193.1" y1="484.5" x2="235.8" y2="484.5" stroke="#231f20" stroke-width="1.1"/>
<text transform="translate(187.8,486.25)" font-size="5.0" text-anchor="end" fill="#231f20" stroke="#231f20" stroke-width="0.02">0</text>
<text transform="translate(187.8,477.85)" font-size="5.0" text-anchor="end" fill="#231f20" stroke="#231f20" stroke-width="0.02">20</text>
<text transform="translate(187.8,469.45)" font-size="5.0" text-anchor="end" fill="#231f20" stroke="#231f20" stroke-width="0.02">40</text>
<text transform="translate(187.8,461.05)" font-size="5.0" text-anchor="end" fill="#231f20" stroke="#231f20" stroke-width="0.02">60</text>
<text transform="translate(187.8,452.65)" font-size="5.0" text-anchor="end" fill="#231f20" stroke="#231f20" stroke-width="0.02">80</text>
<text transform="translate(187.8,444.25)" font-size="5.0" text-anchor="end" fill="#231f20" stroke="#231f20" stroke-width="0.02">100</text>
<text transform="translate(200.9,492.9) rotate(-45)" font-size="5.0" text-anchor="end" fill="#231f20" stroke="#231f20" stroke-width="0.03">Solvent control</text>
<text transform="translate(208.75,492.9) rotate(-45)" font-size="5.0" text-anchor="end" fill="#231f20" stroke="#231f20" stroke-width="0.03">0.032</text>
<text transform="translate(216.6,492.9) rotate(-45)" font-size="5.0" text-anchor="end" fill="#231f20" stroke="#231f20" stroke-width="0.03">0.16</text>
<text transform="translate(224.45,492.9) rotate(-45)" font-size="5.0" text-anchor="end" fill="#231f20" stroke="#231f20" stroke-width="0.03">0.8</text>
<text transform="translate(232.3,492.9) rotate(-45)" font-size="5.0" text-anchor="end" fill="#231f20" stroke="#231f20" stroke-width="0.03">4</text>
<path d="M191,484.5L193.6,484.5 M191,476.1L193.6,476.1 M191,467.7L193.6,467.7 M191,459.3L193.6,459.3 M191,450.9L193.6,450.9 M191,442.5L193.6,442.5 M198.9,484.5L198.9,486.7 M206.75,484.5L206.75,486.7 M214.6,484.5L214.6,486.7 M222.45,484.5L222.45,486.7 M230.3,484.5L230.3,486.7" stroke="#231f20" stroke-width="0.85" fill="none"/>
<text transform="translate(215.1,435.6)" font-size="7.2" text-anchor="middle" fill="#231f20">IL-4</text>
<text transform="translate(173.56,462.4) rotate(-90) scale(0.83,1)" font-size="6.2" text-anchor="middle" fill="#231f20" stroke="#231f20" stroke-width="0.15">pg/mL</text>
<text transform="translate(215.1,511.4) scale(0.73,1)" font-size="7.0" text-anchor="middle" fill="#231f20" stroke="#231f20" stroke-width="0.1">Talquetamab (µg/mL)</text>
<line x1="273.5" y1="482.4" x2="273.5" y2="482.08" stroke="#2a2440" stroke-width="0.6"/>
<line x1="272.3" y1="482.08" x2="274.7" y2="482.08" stroke="#2a2440" stroke-width="0.9"/>
<rect x="271.05" y="482.4" width="4.9" height="2.1" fill="#8b82ba" stroke="#7a70b0" stroke-width="0.3"/>
<line x1="281.35" y1="482.19" x2="281.35" y2="481.88" stroke="#2a2440" stroke-width="0.6"/>
<line x1="280.15" y1="481.88" x2="282.55" y2="481.88" stroke="#2a2440" stroke-width="0.9"/>
<rect x="278.9" y="482.19" width="4.9" height="2.31" fill="#8b82ba" stroke="#7a70b0" stroke-width="0.3"/>
<line x1="289.2" y1="467.7" x2="289.2" y2="465.81" stroke="#2a2440" stroke-width="0.6"/>
<line x1="288" y1="465.81" x2="290.4" y2="465.81" stroke="#2a2440" stroke-width="0.9"/>
<rect x="286.75" y="467.7" width="4.9" height="16.8" fill="#8b82ba" stroke="#7a70b0" stroke-width="0.3"/>
<line x1="297.05" y1="459.62" x2="297.05" y2="457.31" stroke="#2a2440" stroke-width="0.6"/>
<line x1="295.85" y1="457.31" x2="298.25" y2="457.31" stroke="#2a2440" stroke-width="0.9"/>
<rect x="294.6" y="459.62" width="4.9" height="24.88" fill="#8b82ba" stroke="#7a70b0" stroke-width="0.3"/>
<line x1="304.9" y1="454.79" x2="304.9" y2="452.16" stroke="#2a2440" stroke-width="0.6"/>
<line x1="303.7" y1="452.16" x2="306.1" y2="452.16" stroke="#2a2440" stroke-width="0.9"/>
<rect x="302.45" y="454.79" width="4.9" height="29.71" fill="#8b82ba" stroke="#7a70b0" stroke-width="0.3"/>
<line x1="268.2" y1="439.5" x2="268.2" y2="485" stroke="#231f20" stroke-width="1.1"/>
<line x1="267.7" y1="484.5" x2="310.4" y2="484.5" stroke="#231f20" stroke-width="1.1"/>
<text transform="translate(262.4,486.25)" font-size="5.0" text-anchor="end" fill="#231f20" stroke="#231f20" stroke-width="0.02">0</text>
<text transform="translate(262.4,475.75)" font-size="5.0" text-anchor="end" fill="#231f20" stroke="#231f20" stroke-width="0.02">100</text>
<text transform="translate(262.4,465.25)" font-size="5.0" text-anchor="end" fill="#231f20" stroke="#231f20" stroke-width="0.02">200</text>
<text transform="translate(262.4,454.75)" font-size="5.0" text-anchor="end" fill="#231f20" stroke="#231f20" stroke-width="0.02">300</text>
<text transform="translate(262.4,444.25)" font-size="5.0" text-anchor="end" fill="#231f20" stroke="#231f20" stroke-width="0.02">400</text>
<text transform="translate(275.5,492.9) rotate(-45)" font-size="5.0" text-anchor="end" fill="#231f20" stroke="#231f20" stroke-width="0.03">Solvent control</text>
<text transform="translate(283.35,492.9) rotate(-45)" font-size="5.0" text-anchor="end" fill="#231f20" stroke="#231f20" stroke-width="0.03">0.032</text>
<text transform="translate(291.2,492.9) rotate(-45)" font-size="5.0" text-anchor="end" fill="#231f20" stroke="#231f20" stroke-width="0.03">0.16</text>
<text transform="translate(299.05,492.9) rotate(-45)" font-size="5.0" text-anchor="end" fill="#231f20" stroke="#231f20" stroke-width="0.03">0.8</text>
<text transform="translate(306.9,492.9) rotate(-45)" font-size="5.0" text-anchor="end" fill="#231f20" stroke="#231f20" stroke-width="0.03">4</text>
<path d="M265.6,484.5L268.2,484.5 M265.6,474L268.2,474 M265.6,463.5L268.2,463.5 M265.6,453L268.2,453 M265.6,442.5L268.2,442.5 M273.5,484.5L273.5,486.7 M281.35,484.5L281.35,486.7 M289.2,484.5L289.2,486.7 M297.05,484.5L297.05,486.7 M304.9,484.5L304.9,486.7" stroke="#231f20" stroke-width="0.85" fill="none"/>
<text transform="translate(289.7,435.6)" font-size="7.2" text-anchor="middle" fill="#231f20">IL-2</text>
<text transform="translate(248.16,462.4) rotate(-90) scale(0.83,1)" font-size="6.2" text-anchor="middle" fill="#231f20" stroke="#231f20" stroke-width="0.15">pg/mL</text>
<text transform="translate(289.7,511.4) scale(0.73,1)" font-size="7.0" text-anchor="middle" fill="#231f20" stroke="#231f20" stroke-width="0.1">Talquetamab (µg/mL)</text>
<text transform="translate(320.6,431) scale(1.06,1)" font-size="10.4" font-weight="bold" fill="#231f20" stroke="#231f20" stroke-width="0.3">F</text>
<line x1="345.3" y1="441.8" x2="345.3" y2="484.1" stroke="#231f20" stroke-width="1.1"/>
<text transform="translate(339.3,479.15)" font-size="4.8" text-anchor="end" fill="#231f20" stroke="#231f20" stroke-width="0.02">0</text>
<text transform="translate(339.3,470.95)" font-size="4.8" text-anchor="end" fill="#231f20" stroke="#231f20" stroke-width="0.02">25</text>
<text transform="translate(339.3,462.75)" font-size="4.8" text-anchor="end" fill="#231f20" stroke="#231f20" stroke-width="0.02">50</text>
<text transform="translate(339.3,454.55)" font-size="4.8" text-anchor="end" fill="#231f20" stroke="#231f20" stroke-width="0.02">75</text>
<text transform="translate(339.3,446.35)" font-size="4.8" text-anchor="end" fill="#231f20" stroke="#231f20" stroke-width="0.02">100</text>
<path d="M342.9,477.4L345.3,477.4 M342.9,469.2L345.3,469.2 M342.9,461L345.3,461 M342.9,452.8L345.3,452.8 M342.9,444.6L345.3,444.6" stroke="#231f20" stroke-width="0.85" fill="none"/>
<line x1="346.3" y1="477.4" x2="421" y2="477.4" stroke="#1a1a1a" stroke-width="0.75" stroke-dasharray="0.65 0.85"/>
<line x1="344.8" y1="483.6" x2="352.24" y2="483.6" stroke="#231f20" stroke-width="1.1"/>
<line x1="354.24" y1="483.6" x2="421" y2="483.6" stroke="#231f20" stroke-width="1.1"/>
<line x1="352.24" y1="484.9" x2="352.24" y2="482.3" stroke="#231f20" stroke-width="0.6"/>
<line x1="354.24" y1="484.9" x2="354.24" y2="482.3" stroke="#231f20" stroke-width="0.6"/>
<path d="M349,483.6L349,485.6 M358.2,483.6L358.2,485.6 M373.65,483.6L373.65,485.6 M389.1,483.6L389.1,485.6 M404.55,483.6L404.55,485.6 M420,483.6L420,485.6" stroke="#231f20" stroke-width="0.8" fill="none"/>
<path d="M369.59,483.6L369.59,485.1 M385.04,483.6L385.04,485.1 M400.49,483.6L400.49,485.1 M415.94,483.6L415.94,485.1" stroke="#231f20" stroke-width="0.7" fill="none"/>
<text transform="translate(351.4,492.2) rotate(-45)" font-size="5.2" text-anchor="end" fill="#231f20" stroke="#231f20" stroke-width="0.1">Solvent control</text>
<text transform="translate(360.6,492.2) rotate(-45)" font-size="5.2" text-anchor="end" fill="#231f20" stroke="#231f20" stroke-width="0.1">0.001</text>
<text transform="translate(376.05,492.2) rotate(-45)" font-size="5.2" text-anchor="end" fill="#231f20" stroke="#231f20" stroke-width="0.1">0.01</text>
<text transform="translate(391.5,492.2) rotate(-45)" font-size="5.2" text-anchor="end" fill="#231f20" stroke="#231f20" stroke-width="0.1">0.1</text>
<text transform="translate(406.95,492.2) rotate(-45)" font-size="5.2" text-anchor="end" fill="#231f20" stroke="#231f20" stroke-width="0.1">1</text>
<text transform="translate(422.4,492.2) rotate(-45)" font-size="5.2" text-anchor="end" fill="#231f20" stroke="#231f20" stroke-width="0.1">10</text>
<path d="M352,477.17 L353.03,477.12 L354.06,477.05 L355.09,476.97 L356.12,476.86 L357.15,476.74 L358.19,476.59 L359.22,476.4 L360.25,476.17 L361.28,475.89 L362.31,475.56 L363.34,475.15 L364.37,474.67 L365.4,474.11 L366.43,473.44 L367.46,472.67 L368.49,471.79 L369.52,470.8 L370.56,469.71 L371.59,468.52 L372.62,467.26 L373.65,465.94 L374.68,464.6 L375.71,463.27 L376.74,461.98 L377.77,460.75 L378.8,459.61 L379.83,458.56 L380.86,457.63 L381.9,456.8 L382.93,456.09 L383.96,455.47 L384.99,454.95 L386.02,454.51 L387.05,454.14 L388.08,453.84 L389.11,453.58 L390.14,453.38 L391.17,453.21 L392.2,453.07 L393.23,452.95 L394.27,452.86 L395.3,452.79 L396.33,452.73 L397.36,452.68 L398.39,452.64 L399.42,452.61 L400.45,452.58 L401.48,452.56 L402.51,452.54 L403.54,452.53 L404.57,452.52 L405.6,452.51 L406.64,452.5 L407.67,452.5 L408.7,452.49 L409.73,452.49 L410.76,452.48 L411.79,452.48 L412.82,452.48 L413.85,452.48" fill="none" stroke="#3a4060" stroke-width="0.75"/>
<line x1="359.86" y1="474.78" x2="359.86" y2="476.09" stroke="#232a48" stroke-width="0.5"/>
<line x1="358.86" y1="474.78" x2="360.86" y2="474.78" stroke="#232a48" stroke-width="0.5"/>
<line x1="358.86" y1="476.09" x2="360.86" y2="476.09" stroke="#232a48" stroke-width="0.5"/>
<line x1="370.66" y1="469.2" x2="370.66" y2="471.17" stroke="#232a48" stroke-width="0.5"/>
<line x1="369.66" y1="469.2" x2="371.66" y2="469.2" stroke="#232a48" stroke-width="0.5"/>
<line x1="369.66" y1="471.17" x2="371.66" y2="471.17" stroke="#232a48" stroke-width="0.5"/>
<line x1="375.31" y1="460.34" x2="375.31" y2="462.97" stroke="#232a48" stroke-width="0.5"/>
<line x1="374.31" y1="460.34" x2="376.31" y2="460.34" stroke="#232a48" stroke-width="0.5"/>
<line x1="374.31" y1="462.97" x2="376.31" y2="462.97" stroke="#232a48" stroke-width="0.5"/>
<line x1="381.45" y1="456.08" x2="381.45" y2="459.36" stroke="#232a48" stroke-width="0.5"/>
<line x1="380.45" y1="456.08" x2="382.45" y2="456.08" stroke="#232a48" stroke-width="0.5"/>
<line x1="380.45" y1="459.36" x2="382.45" y2="459.36" stroke="#232a48" stroke-width="0.5"/>
<line x1="392.25" y1="452.14" x2="392.25" y2="454.11" stroke="#232a48" stroke-width="0.5"/>
<line x1="391.25" y1="452.14" x2="393.25" y2="452.14" stroke="#232a48" stroke-width="0.5"/>
<line x1="391.25" y1="454.11" x2="393.25" y2="454.11" stroke="#232a48" stroke-width="0.5"/>
<line x1="403.05" y1="451.82" x2="403.05" y2="453.78" stroke="#232a48" stroke-width="0.5"/>
<line x1="402.05" y1="451.82" x2="404.05" y2="451.82" stroke="#232a48" stroke-width="0.5"/>
<line x1="402.05" y1="453.78" x2="404.05" y2="453.78" stroke="#232a48" stroke-width="0.5"/>
<line x1="413.85" y1="451.82" x2="413.85" y2="453.78" stroke="#232a48" stroke-width="0.5"/>
<line x1="412.85" y1="451.82" x2="414.85" y2="451.82" stroke="#232a48" stroke-width="0.5"/>
<line x1="412.85" y1="453.78" x2="414.85" y2="453.78" stroke="#232a48" stroke-width="0.5"/>
<circle cx="359.86" cy="475.43" r="1.05" fill="#232a48"/>
<circle cx="370.66" cy="470.18" r="1.05" fill="#232a48"/>
<circle cx="375.31" cy="461.66" r="1.05" fill="#232a48"/>
<circle cx="381.45" cy="457.72" r="1.05" fill="#232a48"/>
<circle cx="392.25" cy="453.13" r="1.05" fill="#232a48"/>
<circle cx="403.05" cy="452.8" r="1.05" fill="#232a48"/>
<circle cx="413.85" cy="452.8" r="1.05" fill="#232a48"/>
<path d="M352,477.39 L353.03,477.38 L354.06,477.37 L355.09,477.36 L356.12,477.35 L357.15,477.33 L358.19,477.31 L359.22,477.28 L360.25,477.24 L361.28,477.18 L362.31,477.1 L363.34,476.99 L364.37,476.85 L365.4,476.65 L366.43,476.39 L367.46,476.05 L368.49,475.59 L369.52,475 L370.56,474.23 L371.59,473.26 L372.62,472.05 L373.65,470.59 L374.68,468.87 L375.71,466.94 L376.74,464.84 L377.77,462.67 L378.8,460.52 L379.83,458.49 L380.86,456.66 L381.9,455.07 L382.93,453.74 L383.96,452.65 L384.99,451.79 L386.02,451.11 L387.05,450.59 L388.08,450.19 L389.11,449.89 L390.14,449.67 L391.17,449.5 L392.2,449.38 L393.23,449.29 L394.27,449.22 L395.3,449.17 L396.33,449.13 L397.36,449.1 L398.39,449.08 L399.42,449.07 L400.45,449.06 L401.48,449.05 L402.51,449.04 L403.54,449.04 L404.57,449.04 L405.6,449.03 L406.64,449.03 L407.67,449.03 L408.7,449.03 L409.73,449.03 L410.76,449.03 L411.79,449.03 L412.82,449.03 L413.85,449.03" fill="none" stroke="#5aa6e6" stroke-width="0.75"/>
<line x1="359.86" y1="477.07" x2="359.86" y2="478.38" stroke="#4b9ce2" stroke-width="0.5"/>
<line x1="358.86" y1="477.07" x2="360.86" y2="477.07" stroke="#4b9ce2" stroke-width="0.5"/>
<line x1="358.86" y1="478.38" x2="360.86" y2="478.38" stroke="#4b9ce2" stroke-width="0.5"/>
<line x1="370.66" y1="470.84" x2="370.66" y2="474.12" stroke="#4b9ce2" stroke-width="0.5"/>
<line x1="369.66" y1="470.84" x2="371.66" y2="470.84" stroke="#4b9ce2" stroke-width="0.5"/>
<line x1="369.66" y1="474.12" x2="371.66" y2="474.12" stroke="#4b9ce2" stroke-width="0.5"/>
<line x1="375.31" y1="462.31" x2="375.31" y2="474.12" stroke="#4b9ce2" stroke-width="0.5"/>
<line x1="374.31" y1="462.31" x2="376.31" y2="462.31" stroke="#4b9ce2" stroke-width="0.5"/>
<line x1="374.31" y1="474.12" x2="376.31" y2="474.12" stroke="#4b9ce2" stroke-width="0.5"/>
<line x1="381.45" y1="450.5" x2="381.45" y2="458.38" stroke="#4b9ce2" stroke-width="0.5"/>
<line x1="380.45" y1="450.5" x2="382.45" y2="450.5" stroke="#4b9ce2" stroke-width="0.5"/>
<line x1="380.45" y1="458.38" x2="382.45" y2="458.38" stroke="#4b9ce2" stroke-width="0.5"/>
<line x1="392.25" y1="448.54" x2="392.25" y2="450.5" stroke="#4b9ce2" stroke-width="0.5"/>
<line x1="391.25" y1="448.54" x2="393.25" y2="448.54" stroke="#4b9ce2" stroke-width="0.5"/>
<line x1="391.25" y1="450.5" x2="393.25" y2="450.5" stroke="#4b9ce2" stroke-width="0.5"/>
<line x1="403.05" y1="448.21" x2="403.05" y2="450.18" stroke="#4b9ce2" stroke-width="0.5"/>
<line x1="402.05" y1="448.21" x2="404.05" y2="448.21" stroke="#4b9ce2" stroke-width="0.5"/>
<line x1="402.05" y1="450.18" x2="404.05" y2="450.18" stroke="#4b9ce2" stroke-width="0.5"/>
<line x1="413.85" y1="448.21" x2="413.85" y2="450.18" stroke="#4b9ce2" stroke-width="0.5"/>
<line x1="412.85" y1="448.21" x2="414.85" y2="448.21" stroke="#4b9ce2" stroke-width="0.5"/>
<line x1="412.85" y1="450.18" x2="414.85" y2="450.18" stroke="#4b9ce2" stroke-width="0.5"/>
<circle cx="349" cy="477.4" r="1.05" fill="#4b9ce2"/>
<circle cx="359.86" cy="477.73" r="1.05" fill="#4b9ce2"/>
<circle cx="370.66" cy="472.48" r="1.05" fill="#4b9ce2"/>
<circle cx="375.31" cy="468.22" r="1.05" fill="#4b9ce2"/>
<circle cx="381.45" cy="454.44" r="1.05" fill="#4b9ce2"/>
<circle cx="392.25" cy="449.52" r="1.05" fill="#4b9ce2"/>
<circle cx="403.05" cy="449.19" r="1.05" fill="#4b9ce2"/>
<circle cx="413.85" cy="449.19" r="1.05" fill="#4b9ce2"/>
<circle cx="351.5" cy="444.6" r="1.05" fill="#4b9ce2"/>
<text transform="translate(355.6,446.1)" font-size="4.3" fill="#231f20" stroke="#231f20" stroke-width="0.08">HD</text>
<circle cx="351.5" cy="451.2" r="1.05" fill="#232a48"/>
<text transform="translate(355.6,452.7)" font-size="4.3" fill="#231f20" stroke="#231f20" stroke-width="0.08">MM</text>
<text transform="translate(384.2,437.8)" font-size="7.2" text-anchor="middle" fill="#231f20">Lysis of RPMI-8226</text>
<text x="421.2" y="475.6" font-size="4.3" text-anchor="end" fill="#231f20"><tspan font-style="italic">p</tspan> = 0.1009</text>
<text transform="translate(326.4,463.5) rotate(-90) scale(0.79,1)" font-size="6.6" text-anchor="middle" fill="#231f20" stroke="#231f20" stroke-width="0.22">Lysis (%)</text>
<text transform="translate(384.2,511) scale(0.73,1)" font-size="7.0" text-anchor="middle" fill="#231f20" stroke="#231f20" stroke-width="0.1">Talquetamab (µg/mL)</text>
<rect x="0.6" y="0.6" width="518.8" height="522.8" fill="none" stroke="#1c1c1c" stroke-width="1.3"/>
</svg>
</body></html>
